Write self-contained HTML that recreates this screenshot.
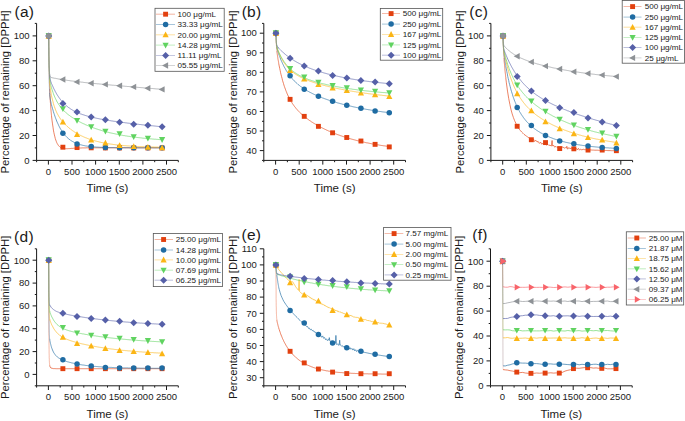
<!DOCTYPE html>
<html><head><meta charset="utf-8"><style>
html,body{margin:0;padding:0;background:#fff;}
body{width:685px;height:421px;overflow:hidden;}
svg{display:block;}
text{font-family:"Liberation Sans", sans-serif;fill:#1a1a1a;}
.tk{font-size:9.5px;}
.ti{font-size:11.5px;}
.lg{font-size:8.1px;}
.pl{font-size:15.5px;letter-spacing:0.25px;}
</style></head><body>
<svg width="685" height="421" viewBox="0 0 685 421">
<rect width="685" height="421" fill="#fff"/>
<path d="M36.6 23.4V160.4H178.3" fill="none" stroke="#1a1a1a" stroke-width="1"/>
<text x="29.60" y="163.70" text-anchor="end" class="tk">0</text>
<text x="29.60" y="138.79" text-anchor="end" class="tk">20</text>
<text x="29.60" y="113.88" text-anchor="end" class="tk">40</text>
<text x="29.60" y="88.97" text-anchor="end" class="tk">60</text>
<text x="29.60" y="64.06" text-anchor="end" class="tk">80</text>
<text x="29.60" y="39.15" text-anchor="end" class="tk">100</text>
<text x="48.41" y="174.80" text-anchor="middle" class="tk">0</text>
<text x="72.03" y="174.80" text-anchor="middle" class="tk">500</text>
<text x="95.64" y="174.80" text-anchor="middle" class="tk">1000</text>
<text x="119.26" y="174.80" text-anchor="middle" class="tk">1500</text>
<text x="142.88" y="174.80" text-anchor="middle" class="tk">2000</text>
<text x="166.49" y="174.80" text-anchor="middle" class="tk">2500</text>
<path d="M32.6 160.4H36.6 M34.8 147.9H36.6 M32.6 135.5H36.6 M34.8 123H36.6 M32.6 110.6H36.6 M34.8 98.1H36.6 M32.6 85.7H36.6 M34.8 73.2H36.6 M32.6 60.8H36.6 M34.8 48.3H36.6 M32.6 35.9H36.6 M34.8 23.4H36.6 M36.6 160.4V162.2 M48.4 160.4V164.6 M60.2 160.4V162.2 M72 160.4V164.6 M83.8 160.4V162.2 M95.6 160.4V164.6 M107.5 160.4V162.2 M119.3 160.4V164.6 M131.1 160.4V162.2 M142.9 160.4V164.6 M154.7 160.4V162.2 M166.5 160.4V164.6 M178.3 160.4V162.2" fill="none" stroke="#1a1a1a" stroke-width="1"/>
<text x="107.45" y="192.30" text-anchor="middle" class="ti">Time (s)</text>
<text transform="translate(9.30,91.90) rotate(-90)" text-anchor="middle" class="ti" style="font-size:11.25px">Percentage of remaining [DPPH]</text>
<text x="14.50" y="16.60" class="pl">(a)</text>
<path d="M48.7 35.9 L48.8 41.5 L48.8 46.5 L48.9 51.1 L48.9 55.2 L48.9 59 L49 62.4 L49 65.4 L49.1 68.2 L49.1 70.8 L49.2 73.2 L49.2 75.4 L49.3 77.4 L49.3 79.2 L49.4 81 L49.4 82.6 L49.5 84.1 L49.5 85.5 L49.6 86.8 L49.6 88 L49.6 89.2" fill="none" stroke="#E2400F" stroke-width="0.65" stroke-linejoin="round" opacity="0.55"/>
<path d="M49.6 89.2 L49.7 90.3 L49.8 91.4 L49.8 92.4 L49.8 93.4 L49.9 94.3 L49.9 95.2 L50 96.1 L50 96.9 L50.1 97.8 L50.1 98.5 L50.2 99.3 L50.2 100 L50.3 100.8 L50.3 101.5 L50.4 102.2 L50.4 102.8 L50.5 103.5 L50.5 104.1 L50.5 104.8 L50.6 105.4 L50.6 106 L50.7 106.6 L50.7 107.2 L50.8 107.8 L50.8 108.3 L50.9 108.9 L50.9 109.4 L51 110 L51 110.5 L51.1 111 L51.1 111.5 L51.2 112.1 L51.2 112.6 L51.3 113.1 L51.3 113.6 L51.4 114 L51.4 114.5 L51.5 115 L51.5 115.5 L51.5 115.9 L52 120.2 L52.5 123.9 L53 127.2 L53.4 130.1 L53.9 132.7 L54.4 134.9 L54.9 136.9 L55.3 138.6 L55.8 140.1 L56.3 141.4 L56.7 142.5 L57.2 143.5 L57.7 144.3 L58.2 145.1 L58.6 145.7 L59.1 146.2 L59.6 146.7 L60 147.1 L60.5 147.4 L61 147.7 L61.5 147.9 L61.9 148.1 L62.4 148.2 L62.9 148.4 L63.4 148.5 L63.8 148.6 L64.3 148.6 L64.8 148.7 L65.2 148.7 L65.7 148.7 L66.2 148.7 L66.7 148.7 L67.1 148.7 L67.6 148.7 L68.1 148.7 L68.5 148.6 L69 148.6 L69.5 148.6 L70 148.5 L70.4 148.5 L70.9 148.5 L71.4 148.4 L71.8 148.4 L72.3 148.4 L72.8 148.4 L73.3 148.3 L73.7 148.3 L74.2 148.3 L74.7 148.2 L75.2 148.2 L75.6 148.2 L76.1 148.2 L76.6 148.1 L77 148.1 L77.5 148.1 L78 148.1 L78.5 148.1 L78.9 148 L79.4 148 L79.9 148 L80.3 148 L80.8 148 L81.3 148 L81.8 147.9 L82.2 147.9 L82.7 147.9 L83.2 147.9 L83.7 147.9 L84.1 147.9 L84.6 147.9 L85.1 147.9 L85.5 147.9 L86 147.9 L86.5 147.8 L87 147.8 L87.4 147.8 L87.9 147.8 L88.4 147.8 L88.9 147.8 L89.3 147.8 L89.8 147.8 L90.3 147.8 L90.8 147.8 L91.2 147.8 L91.7 147.8 L92.2 147.8 L92.6 147.8 L93.1 147.8 L93.6 147.8 L94 147.8 L94.5 147.8 L95 147.8 L95.5 147.8 L95.9 147.8 L96.4 147.8 L96.9 147.8 L97.4 147.8 L97.8 147.8 L98.3 147.8 L98.8 147.8 L99.2 147.8 L99.7 147.8 L100.2 147.8 L100.7 147.8 L101.1 147.8 L101.6 147.8 L102.1 147.8 L102.5 147.8 L103 147.8 L103.5 147.8 L104 147.8 L104.4 147.8 L104.9 147.8 L105.4 147.8 L105.9 147.8 L106.3 147.8 L106.8 147.8 L107.3 147.8 L107.8 147.8 L108.2 147.8 L108.7 147.8 L109.2 147.8 L109.6 147.8 L110.1 147.8 L110.6 147.8 L111.1 147.8 L111.5 147.8 L112 147.8 L112.5 147.8 L113 147.8 L113.4 147.8 L113.9 147.8 L114.4 147.8 L114.8 147.8 L115.3 147.8 L115.8 147.8 L116.2 147.8 L116.7 147.8 L117.2 147.8 L117.7 147.8 L118.1 147.8 L118.6 147.8 L119.1 147.8 L119.6 147.8 L120 147.8 L120.5 147.8 L121 147.8 L121.5 147.8 L121.9 147.8 L122.4 147.8 L122.9 147.8 L123.3 147.8 L123.8 147.8 L124.3 147.8 L124.8 147.8 L125.2 147.8 L125.7 147.8 L126.2 147.8 L126.6 147.8 L127.1 147.8 L127.6 147.8 L128.1 147.8 L128.5 147.8 L129 147.8 L129.5 147.8 L129.9 147.8 L130.4 147.8 L130.9 147.8 L131.4 147.8 L131.8 147.8 L132.3 147.8 L132.8 147.8 L133.3 147.8 L133.7 147.8 L134.2 147.8 L134.7 147.8 L135.2 147.8 L135.6 147.8 L136.1 147.8 L136.6 147.8 L137 147.8 L137.5 147.8 L138 147.8 L138.4 147.8 L138.9 147.8 L139.4 147.8 L139.9 147.8 L140.3 147.8 L140.8 147.8 L141.3 147.8 L141.8 147.8 L142.2 147.8 L142.7 147.8 L143.2 147.8 L143.7 147.8 L144.1 147.8 L144.6 147.8 L145.1 147.8 L145.5 147.8 L146 147.8 L146.5 147.8 L146.9 147.8 L147.4 147.8 L147.9 147.8 L148.4 147.8 L148.8 147.8 L149.3 147.8 L149.8 147.8 L150.3 147.8 L150.7 147.8 L151.2 147.8 L151.7 147.8 L152.2 147.8 L152.6 147.8 L153.1 147.8 L153.6 147.8 L154 147.8 L154.5 147.8 L155 147.8 L155.5 147.8 L155.9 147.8 L156.4 147.8 L156.9 147.8 L157.3 147.8 L157.8 147.8 L158.3 147.8 L158.8 147.8 L159.2 147.8 L159.7 147.8 L160.2 147.8 L160.7 147.8 L161.1 147.8 L161.6 147.8 L162.1 147.8" fill="none" stroke="#E2400F" stroke-width="0.65" stroke-linejoin="round"/>
<path d="M48.7 35.9 L48.8 43.8 L48.8 50.6 L48.9 56.5 L48.9 61.6 L48.9 66 L49 69.8 L49 73.2 L49.1 76.1 L49.1 78.7 L49.2 80.9 L49.2 82.9 L49.3 84.6 L49.3 86.2 L49.4 87.6 L49.4 88.8 L49.5 89.9 L49.5 90.8 L49.6 91.7 L49.6 92.5 L49.6 93.2" fill="none" stroke="#1F6CA3" stroke-width="0.65" stroke-linejoin="round" opacity="0.55"/>
<path d="M49.6 93.2 L49.7 93.9 L49.8 94.5 L49.8 95.1 L49.8 95.6 L49.9 96 L49.9 96.5 L50 96.9 L50 97.3 L50.1 97.7 L50.1 98 L50.2 98.3 L50.2 98.6 L50.3 98.9 L50.3 99.2 L50.4 99.5 L50.4 99.8 L50.5 100 L50.5 100.3 L50.5 100.5 L50.6 100.8 L50.6 101 L50.7 101.2 L50.7 101.5 L50.8 101.7 L50.8 101.9 L50.9 102.1 L50.9 102.3 L51 102.5 L51 102.7 L51.1 102.9 L51.1 103.1 L51.2 103.3 L51.2 103.5 L51.3 103.7 L51.3 103.9 L51.4 104.1 L51.4 104.3 L51.5 104.5 L51.5 104.7 L51.5 104.9 L52 106.7 L52.5 108.5 L53 110.1 L53.4 111.7 L53.9 113.2 L54.4 114.7 L54.9 116.1 L55.3 117.4 L55.8 118.7 L56.3 119.9 L56.7 121.1 L57.2 122.2 L57.7 123.3 L58.2 124.3 L58.6 125.3 L59.1 126.3 L59.6 127.2 L60 128.1 L60.5 128.9 L61 129.7 L61.5 130.5 L61.9 131.2 L62.4 131.9 L62.9 132.6 L63.4 133.2 L63.8 133.8 L64.3 134.4 L64.8 135 L65.2 135.5 L65.7 136 L66.2 136.5 L66.7 137 L67.1 137.5 L67.6 137.9 L68.1 138.3 L68.5 138.7 L69 139.1 L69.5 139.5 L70 139.8 L70.4 140.2 L70.9 140.5 L71.4 140.8 L71.8 141.1 L72.3 141.4 L72.8 141.6 L73.3 141.9 L73.7 142.1 L74.2 142.4 L74.7 142.6 L75.2 142.8 L75.6 143 L76.1 143.2 L76.6 143.4 L77 143.6 L77.5 143.8 L78 144 L78.5 144.1 L78.9 144.3 L79.4 144.4 L79.9 144.6 L80.3 144.7 L80.8 144.8 L81.3 144.9 L81.8 145.1 L82.2 145.2 L82.7 145.3 L83.2 145.4 L83.7 145.5 L84.1 145.6 L84.6 145.7 L85.1 145.8 L85.5 145.9 L86 145.9 L86.5 146 L87 146.1 L87.4 146.2 L87.9 146.2 L88.4 146.3 L88.9 146.4 L89.3 146.4 L89.8 146.5 L90.3 146.5 L90.8 146.6 L91.2 146.6 L91.7 146.7 L92.2 146.7 L92.6 146.8 L93.1 146.8 L93.6 146.9 L94 146.9 L94.5 146.9 L95 147 L95.5 147 L95.9 147 L96.4 147.1 L96.9 147.1 L97.4 147.1 L97.8 147.2 L98.3 147.2 L98.8 147.2 L99.2 147.2 L99.7 147.3 L100.2 147.3 L100.7 147.3 L101.1 147.3 L101.6 147.3 L102.1 147.4 L102.5 147.4 L103 147.4 L103.5 147.4 L104 147.4 L104.4 147.4 L104.9 147.4 L105.4 147.5 L105.9 147.5 L106.3 147.5 L106.8 147.5 L107.3 147.5 L107.8 147.5 L108.2 147.5 L108.7 147.6 L109.2 147.6 L109.6 147.6 L110.1 147.6 L110.6 147.6 L111.1 147.6 L111.5 147.6 L112 147.6 L112.5 147.6 L113 147.6 L113.4 147.6 L113.9 147.6 L114.4 147.6 L114.8 147.7 L115.3 147.7 L115.8 147.7 L116.2 147.7 L116.7 147.7 L117.2 147.7 L117.7 147.7 L118.1 147.7 L118.6 147.7 L119.1 147.7 L119.6 147.7 L120 147.7 L120.5 147.7 L121 147.7 L121.5 147.7 L121.9 147.7 L122.4 147.7 L122.9 147.7 L123.3 147.7 L123.8 147.7 L124.3 147.7 L124.8 147.7 L125.2 147.7 L125.7 147.7 L126.2 147.7 L126.6 147.7 L127.1 147.7 L127.6 147.7 L128.1 147.7 L128.5 147.7 L129 147.7 L129.5 147.8 L129.9 147.8 L130.4 147.8 L130.9 147.8 L131.4 147.8 L131.8 147.8 L132.3 147.8 L132.8 147.8 L133.3 147.8 L133.7 147.8 L134.2 147.8 L134.7 147.8 L135.2 147.8 L135.6 147.8 L136.1 147.8 L136.6 147.8 L137 147.8 L137.5 147.8 L138 147.8 L138.4 147.8 L138.9 147.8 L139.4 147.8 L139.9 147.8 L140.3 147.8 L140.8 147.8 L141.3 147.8 L141.8 147.8 L142.2 147.8 L142.7 147.8 L143.2 147.8 L143.7 147.8 L144.1 147.8 L144.6 147.8 L145.1 147.8 L145.5 147.8 L146 147.8 L146.5 147.8 L146.9 147.8 L147.4 147.8 L147.9 147.8 L148.4 147.8 L148.8 147.8 L149.3 147.8 L149.8 147.8 L150.3 147.8 L150.7 147.8 L151.2 147.8 L151.7 147.8 L152.2 147.8 L152.6 147.8 L153.1 147.8 L153.6 147.8 L154 147.8 L154.5 147.8 L155 147.8 L155.5 147.8 L155.9 147.8 L156.4 147.8 L156.9 147.8 L157.3 147.8 L157.8 147.8 L158.3 147.8 L158.8 147.8 L159.2 147.8 L159.7 147.8 L160.2 147.8 L160.7 147.8 L161.1 147.8 L161.6 147.8 L162.1 147.8" fill="none" stroke="#1F6CA3" stroke-width="0.65" stroke-linejoin="round"/>
<path d="M48.7 35.9 L48.8 41 L48.8 45.6 L48.9 49.6 L48.9 53.3 L48.9 56.6 L49 59.5 L49 62.1 L49.1 64.5 L49.1 66.6 L49.2 68.6 L49.2 70.3 L49.3 71.9 L49.3 73.3 L49.4 74.6 L49.4 75.8 L49.5 76.9 L49.5 77.9 L49.6 78.9 L49.6 79.7 L49.6 80.5" fill="none" stroke="#FBB515" stroke-width="0.65" stroke-linejoin="round" opacity="0.55"/>
<path d="M49.6 80.5 L49.7 81.3 L49.8 82 L49.8 82.6 L49.8 83.2 L49.9 83.8 L49.9 84.3 L50 84.9 L50 85.4 L50.1 85.8 L50.1 86.3 L50.2 86.7 L50.2 87.1 L50.3 87.5 L50.3 87.9 L50.4 88.3 L50.4 88.7 L50.5 89 L50.5 89.4 L50.5 89.7 L50.6 90 L50.6 90.3 L50.7 90.7 L50.7 91 L50.8 91.3 L50.8 91.6 L50.9 91.9 L50.9 92.2 L51 92.5 L51 92.7 L51.1 93 L51.1 93.3 L51.2 93.5 L51.2 93.8 L51.3 94.1 L51.3 94.3 L51.4 94.6 L51.4 94.8 L51.5 95.1 L51.5 95.3 L51.5 95.6 L52 97.9 L52.5 99.9 L53 101.8 L53.4 103.6 L53.9 105.2 L54.4 106.6 L54.9 108 L55.3 109.2 L55.8 110.4 L56.3 111.5 L56.7 112.5 L57.2 113.5 L57.7 114.4 L58.2 115.2 L58.6 116 L59.1 116.8 L59.6 117.5 L60 118.2 L60.5 118.9 L61 119.6 L61.5 120.2 L61.9 120.8 L62.4 121.4 L62.9 121.9 L63.4 122.5 L63.8 123 L64.3 123.5 L64.8 124 L65.2 124.5 L65.7 125 L66.2 125.4 L66.7 125.9 L67.1 126.3 L67.6 126.7 L68.1 127.1 L68.5 127.5 L69 127.9 L69.5 128.3 L70 128.7 L70.4 129.1 L70.9 129.4 L71.4 129.8 L71.8 130.1 L72.3 130.5 L72.8 130.8 L73.3 131.1 L73.7 131.4 L74.2 131.8 L74.7 132.1 L75.2 132.4 L75.6 132.7 L76.1 132.9 L76.6 133.2 L77 133.5 L77.5 133.8 L78 134 L78.5 134.3 L78.9 134.6 L79.4 134.8 L79.9 135.1 L80.3 135.3 L80.8 135.5 L81.3 135.8 L81.8 136 L82.2 136.2 L82.7 136.4 L83.2 136.7 L83.7 136.9 L84.1 137.1 L84.6 137.3 L85.1 137.5 L85.5 137.7 L86 137.9 L86.5 138 L87 138.2 L87.4 138.4 L87.9 138.6 L88.4 138.8 L88.9 138.9 L89.3 139.1 L89.8 139.3 L90.3 139.4 L90.8 139.6 L91.2 139.7 L91.7 139.9 L92.2 140 L92.6 140.2 L93.1 140.3 L93.6 140.5 L94 140.6 L94.5 140.7 L95 140.9 L95.5 141 L95.9 141.1 L96.4 141.2 L96.9 141.4 L97.4 141.5 L97.8 141.6 L98.3 141.7 L98.8 141.8 L99.2 141.9 L99.7 142.1 L100.2 142.2 L100.7 142.3 L101.1 142.4 L101.6 142.5 L102.1 142.6 L102.5 142.7 L103 142.8 L103.5 142.9 L104 143 L104.4 143.1 L104.9 143.1 L105.4 143.2 L105.9 143.3 L106.3 143.4 L106.8 143.5 L107.3 143.6 L107.8 143.6 L108.2 143.7 L108.7 143.8 L109.2 143.9 L109.6 143.9 L110.1 144 L110.6 144.1 L111.1 144.1 L111.5 144.2 L112 144.3 L112.5 144.3 L113 144.4 L113.4 144.5 L113.9 144.5 L114.4 144.6 L114.8 144.6 L115.3 144.7 L115.8 144.8 L116.2 144.8 L116.7 144.9 L117.2 144.9 L117.7 145 L118.1 145 L118.6 145.1 L119.1 145.1 L119.6 145.2 L120 145.2 L120.5 145.3 L121 145.3 L121.5 145.4 L121.9 145.4 L122.4 145.4 L122.9 145.5 L123.3 145.5 L123.8 145.6 L124.3 145.6 L124.8 145.7 L125.2 145.7 L125.7 145.7 L126.2 145.8 L126.6 145.8 L127.1 145.8 L127.6 145.9 L128.1 145.9 L128.5 145.9 L129 146 L129.5 146 L129.9 146 L130.4 146.1 L130.9 146.1 L131.4 146.1 L131.8 146.2 L132.3 146.2 L132.8 146.2 L133.3 146.2 L133.7 146.3 L134.2 146.3 L134.7 146.3 L135.2 146.3 L135.6 146.4 L136.1 146.4 L136.6 146.4 L137 146.4 L137.5 146.5 L138 146.5 L138.4 146.5 L138.9 146.5 L139.4 146.6 L139.9 146.6 L140.3 146.6 L140.8 146.6 L141.3 146.6 L141.8 146.7 L142.2 146.7 L142.7 146.7 L143.2 146.7 L143.7 146.7 L144.1 146.8 L144.6 146.8 L145.1 146.8 L145.5 146.8 L146 146.8 L146.5 146.8 L146.9 146.8 L147.4 146.9 L147.9 146.9 L148.4 146.9 L148.8 146.9 L149.3 146.9 L149.8 146.9 L150.3 146.9 L150.7 147 L151.2 147 L151.7 147 L152.2 147 L152.6 147 L153.1 147 L153.6 147 L154 147.1 L154.5 147.1 L155 147.1 L155.5 147.1 L155.9 147.1 L156.4 147.1 L156.9 147.1 L157.3 147.1 L157.8 147.1 L158.3 147.2 L158.8 147.2 L159.2 147.2 L159.7 147.2 L160.2 147.2 L160.7 147.2 L161.1 147.2 L161.6 147.2 L162.1 147.2" fill="none" stroke="#FBB515" stroke-width="0.65" stroke-linejoin="round"/>
<path d="M48.7 35.9 L48.8 40.8 L48.8 45.2 L48.9 49.1 L48.9 52.5 L48.9 55.6 L49 58.4 L49 60.8 L49.1 63 L49.1 64.9 L49.2 66.7 L49.2 68.3 L49.3 69.7 L49.3 71 L49.4 72.1 L49.4 73.2 L49.5 74.1 L49.5 74.9 L49.6 75.7 L49.6 76.4 L49.6 77.1" fill="none" stroke="#60D360" stroke-width="0.65" stroke-linejoin="round" opacity="0.55"/>
<path d="M49.6 77.1 L49.7 77.7 L49.8 78.2 L49.8 78.8 L49.8 79.2 L49.9 79.7 L49.9 80.1 L50 80.5 L50 80.8 L50.1 81.2 L50.1 81.5 L50.2 81.8 L50.2 82.1 L50.3 82.4 L50.3 82.7 L50.4 82.9 L50.4 83.2 L50.5 83.4 L50.5 83.7 L50.5 83.9 L50.6 84.1 L50.6 84.3 L50.7 84.6 L50.7 84.8 L50.8 85 L50.8 85.2 L50.9 85.4 L50.9 85.6 L51 85.8 L51 86 L51.1 86.1 L51.1 86.3 L51.2 86.5 L51.2 86.7 L51.3 86.9 L51.3 87 L51.4 87.2 L51.4 87.4 L51.5 87.6 L51.5 87.7 L51.5 87.9 L52 89.5 L52.5 91 L53 92.4 L53.4 93.7 L53.9 95 L54.4 96.2 L54.9 97.3 L55.3 98.3 L55.8 99.3 L56.3 100.2 L56.7 101.1 L57.2 102 L57.7 102.8 L58.2 103.5 L58.6 104.3 L59.1 105 L59.6 105.7 L60 106.3 L60.5 106.9 L61 107.5 L61.5 108.1 L61.9 108.6 L62.4 109.2 L62.9 109.7 L63.4 110.2 L63.8 110.7 L64.3 111.1 L64.8 111.6 L65.2 112 L65.7 112.5 L66.2 112.9 L66.7 113.3 L67.1 113.7 L67.6 114.1 L68.1 114.5 L68.5 114.8 L69 115.2 L69.5 115.5 L70 115.9 L70.4 116.2 L70.9 116.6 L71.4 116.9 L71.8 117.2 L72.3 117.5 L72.8 117.8 L73.3 118.1 L73.7 118.4 L74.2 118.7 L74.7 119 L75.2 119.3 L75.6 119.6 L76.1 119.9 L76.6 120.1 L77 120.4 L77.5 120.7 L78 120.9 L78.5 121.2 L78.9 121.5 L79.4 121.7 L79.9 122 L80.3 122.2 L80.8 122.4 L81.3 122.7 L81.8 122.9 L82.2 123.1 L82.7 123.4 L83.2 123.6 L83.7 123.8 L84.1 124 L84.6 124.2 L85.1 124.5 L85.5 124.7 L86 124.9 L86.5 125.1 L87 125.3 L87.4 125.5 L87.9 125.7 L88.4 125.9 L88.9 126.1 L89.3 126.3 L89.8 126.5 L90.3 126.7 L90.8 126.8 L91.2 127 L91.7 127.2 L92.2 127.4 L92.6 127.5 L93.1 127.7 L93.6 127.9 L94 128.1 L94.5 128.2 L95 128.4 L95.5 128.6 L95.9 128.7 L96.4 128.9 L96.9 129 L97.4 129.2 L97.8 129.3 L98.3 129.5 L98.8 129.7 L99.2 129.8 L99.7 129.9 L100.2 130.1 L100.7 130.2 L101.1 130.4 L101.6 130.5 L102.1 130.7 L102.5 130.8 L103 130.9 L103.5 131.1 L104 131.2 L104.4 131.3 L104.9 131.4 L105.4 131.6 L105.9 131.7 L106.3 131.8 L106.8 132 L107.3 132.1 L107.8 132.2 L108.2 132.3 L108.7 132.4 L109.2 132.6 L109.6 132.7 L110.1 132.8 L110.6 132.9 L111.1 133 L111.5 133.1 L112 133.2 L112.5 133.3 L113 133.4 L113.4 133.5 L113.9 133.6 L114.4 133.7 L114.8 133.8 L115.3 133.9 L115.8 134 L116.2 134.1 L116.7 134.2 L117.2 134.3 L117.7 134.4 L118.1 134.5 L118.6 134.6 L119.1 134.7 L119.6 134.8 L120 134.9 L120.5 135 L121 135.1 L121.5 135.1 L121.9 135.2 L122.4 135.3 L122.9 135.4 L123.3 135.5 L123.8 135.6 L124.3 135.6 L124.8 135.7 L125.2 135.8 L125.7 135.9 L126.2 135.9 L126.6 136 L127.1 136.1 L127.6 136.2 L128.1 136.2 L128.5 136.3 L129 136.4 L129.5 136.4 L129.9 136.5 L130.4 136.6 L130.9 136.7 L131.4 136.7 L131.8 136.8 L132.3 136.8 L132.8 136.9 L133.3 137 L133.7 137 L134.2 137.1 L134.7 137.2 L135.2 137.2 L135.6 137.3 L136.1 137.3 L136.6 137.4 L137 137.4 L137.5 137.5 L138 137.6 L138.4 137.6 L138.9 137.7 L139.4 137.7 L139.9 137.8 L140.3 137.8 L140.8 137.9 L141.3 137.9 L141.8 138 L142.2 138.1 L142.7 138.1 L143.2 138.2 L143.7 138.2 L144.1 138.2 L144.6 138.3 L145.1 138.3 L145.5 138.4 L146 138.4 L146.5 138.5 L146.9 138.5 L147.4 138.6 L147.9 138.6 L148.4 138.7 L148.8 138.7 L149.3 138.7 L149.8 138.8 L150.3 138.8 L150.7 138.9 L151.2 138.9 L151.7 138.9 L152.2 139 L152.6 139 L153.1 139.1 L153.6 139.1 L154 139.1 L154.5 139.2 L155 139.2 L155.5 139.2 L155.9 139.3 L156.4 139.3 L156.9 139.4 L157.3 139.4 L157.8 139.4 L158.3 139.5 L158.8 139.5 L159.2 139.5 L159.7 139.6 L160.2 139.6 L160.7 139.6 L161.1 139.7 L161.6 139.7 L162.1 139.7" fill="none" stroke="#60D360" stroke-width="0.65" stroke-linejoin="round"/>
<path d="M48.7 35.9 L48.8 40.7 L48.8 45 L48.9 48.8 L48.9 52.1 L48.9 55.1 L49 57.7 L49 60.1 L49.1 62.2 L49.1 64 L49.2 65.7 L49.2 67.2 L49.3 68.5 L49.3 69.7 L49.4 70.8 L49.4 71.7 L49.5 72.6 L49.5 73.3 L49.6 74 L49.6 74.7 L49.6 75.2" fill="none" stroke="#5660A8" stroke-width="0.65" stroke-linejoin="round" opacity="0.55"/>
<path d="M49.6 75.2 L49.7 75.7 L49.8 76.2 L49.8 76.6 L49.8 77 L49.9 77.4 L49.9 77.7 L50 78 L50 78.3 L50.1 78.6 L50.1 78.9 L50.2 79.1 L50.2 79.3 L50.3 79.5 L50.3 79.8 L50.4 80 L50.4 80.1 L50.5 80.3 L50.5 80.5 L50.5 80.7 L50.6 80.8 L50.6 81 L50.7 81.1 L50.7 81.3 L50.8 81.4 L50.8 81.5 L50.9 81.7 L50.9 81.8 L51 82 L51 82.1 L51.1 82.2 L51.1 82.3 L51.2 82.5 L51.2 82.6 L51.3 82.7 L51.3 82.9 L51.4 83 L51.4 83.1 L51.5 83.2 L51.5 83.3 L51.5 83.5 L52 84.6 L52.5 85.7 L53 86.8 L53.4 87.8 L53.9 88.8 L54.4 89.8 L54.9 90.7 L55.3 91.6 L55.8 92.4 L56.3 93.3 L56.7 94.1 L57.2 94.8 L57.7 95.6 L58.2 96.3 L58.6 97 L59.1 97.7 L59.6 98.3 L60 99 L60.5 99.6 L61 100.2 L61.5 100.8 L61.9 101.3 L62.4 101.8 L62.9 102.4 L63.4 102.9 L63.8 103.3 L64.3 103.8 L64.8 104.3 L65.2 104.7 L65.7 105.2 L66.2 105.6 L66.7 106 L67.1 106.4 L67.6 106.7 L68.1 107.1 L68.5 107.5 L69 107.8 L69.5 108.1 L70 108.5 L70.4 108.8 L70.9 109.1 L71.4 109.4 L71.8 109.7 L72.3 110 L72.8 110.2 L73.3 110.5 L73.7 110.8 L74.2 111 L74.7 111.3 L75.2 111.5 L75.6 111.7 L76.1 112 L76.6 112.2 L77 112.4 L77.5 112.6 L78 112.8 L78.5 113 L78.9 113.2 L79.4 113.4 L79.9 113.6 L80.3 113.8 L80.8 114 L81.3 114.1 L81.8 114.3 L82.2 114.5 L82.7 114.6 L83.2 114.8 L83.7 114.9 L84.1 115.1 L84.6 115.2 L85.1 115.4 L85.5 115.5 L86 115.7 L86.5 115.8 L87 115.9 L87.4 116.1 L87.9 116.2 L88.4 116.3 L88.9 116.5 L89.3 116.6 L89.8 116.7 L90.3 116.8 L90.8 117 L91.2 117.1 L91.7 117.2 L92.2 117.3 L92.6 117.4 L93.1 117.5 L93.6 117.6 L94 117.7 L94.5 117.8 L95 117.9 L95.5 118 L95.9 118.1 L96.4 118.2 L96.9 118.3 L97.4 118.4 L97.8 118.5 L98.3 118.6 L98.8 118.7 L99.2 118.8 L99.7 118.9 L100.2 119 L100.7 119.1 L101.1 119.2 L101.6 119.2 L102.1 119.3 L102.5 119.4 L103 119.5 L103.5 119.6 L104 119.7 L104.4 119.7 L104.9 119.8 L105.4 119.9 L105.9 120 L106.3 120 L106.8 120.1 L107.3 120.2 L107.8 120.3 L108.2 120.4 L108.7 120.4 L109.2 120.5 L109.6 120.6 L110.1 120.7 L110.6 120.7 L111.1 120.8 L111.5 120.9 L112 120.9 L112.5 121 L113 121.1 L113.4 121.2 L113.9 121.2 L114.4 121.3 L114.8 121.4 L115.3 121.4 L115.8 121.5 L116.2 121.6 L116.7 121.6 L117.2 121.7 L117.7 121.8 L118.1 121.8 L118.6 121.9 L119.1 122 L119.6 122 L120 122.1 L120.5 122.2 L121 122.2 L121.5 122.3 L121.9 122.3 L122.4 122.4 L122.9 122.5 L123.3 122.5 L123.8 122.6 L124.3 122.6 L124.8 122.7 L125.2 122.8 L125.7 122.8 L126.2 122.9 L126.6 122.9 L127.1 123 L127.6 123.1 L128.1 123.1 L128.5 123.2 L129 123.2 L129.5 123.3 L129.9 123.3 L130.4 123.4 L130.9 123.5 L131.4 123.5 L131.8 123.6 L132.3 123.6 L132.8 123.7 L133.3 123.8 L133.7 123.8 L134.2 123.9 L134.7 123.9 L135.2 124 L135.6 124 L136.1 124.1 L136.6 124.1 L137 124.2 L137.5 124.2 L138 124.3 L138.4 124.3 L138.9 124.4 L139.4 124.5 L139.9 124.5 L140.3 124.5 L140.8 124.6 L141.3 124.7 L141.8 124.7 L142.2 124.8 L142.7 124.8 L143.2 124.9 L143.7 124.9 L144.1 125 L144.6 125 L145.1 125.1 L145.5 125.1 L146 125.2 L146.5 125.2 L146.9 125.3 L147.4 125.3 L147.9 125.4 L148.4 125.4 L148.8 125.5 L149.3 125.5 L149.8 125.6 L150.3 125.6 L150.7 125.7 L151.2 125.7 L151.7 125.8 L152.2 125.8 L152.6 125.8 L153.1 125.9 L153.6 125.9 L154 126 L154.5 126 L155 126.1 L155.5 126.1 L155.9 126.2 L156.4 126.2 L156.9 126.3 L157.3 126.3 L157.8 126.4 L158.3 126.4 L158.8 126.5 L159.2 126.5 L159.7 126.5 L160.2 126.6 L160.7 126.6 L161.1 126.7 L161.6 126.7 L162.1 126.8" fill="none" stroke="#5660A8" stroke-width="0.65" stroke-linejoin="round"/>
<path d="M48.7 35.9 L48.8 40.7 L48.8 45 L48.9 48.7 L48.9 52.1 L48.9 55 L49 57.6 L49 59.9 L49.1 61.9 L49.1 63.7 L49.2 65.3 L49.2 66.7 L49.3 67.9 L49.3 69 L49.4 70 L49.4 70.8 L49.5 71.6 L49.5 72.2 L49.6 72.8 L49.6 73.3 L49.6 73.8" fill="none" stroke="#8E9296" stroke-width="0.65" stroke-linejoin="round" opacity="0.55"/>
<path d="M49.6 73.8 L49.7 74.2 L49.8 74.6 L49.8 74.9 L49.8 75.2 L49.9 75.4 L49.9 75.6 L50 75.8 L50 76 L50.1 76.2 L50.1 76.3 L50.2 76.4 L50.2 76.5 L50.3 76.7 L50.3 76.7 L50.4 76.8 L50.4 76.9 L50.5 77 L50.5 77 L50.5 77.1 L50.6 77.1 L50.6 77.2 L50.7 77.2 L50.7 77.2 L50.8 77.3 L50.8 77.3 L50.9 77.3 L50.9 77.3 L51 77.4 L51 77.4 L51.1 77.4 L51.1 77.4 L51.2 77.5 L51.2 77.5 L51.3 77.5 L51.3 77.5 L51.4 77.5 L51.4 77.5 L51.5 77.5 L51.5 77.5 L51.5 77.6 L52 77.7 L52.5 77.8 L53 77.9 L53.4 78 L53.9 78.1 L54.4 78.2 L54.9 78.3 L55.3 78.3 L55.8 78.4 L56.3 78.5 L56.7 78.6 L57.2 78.7 L57.7 78.8 L58.2 78.9 L58.6 79 L59.1 79 L59.6 79.1 L60 79.2 L60.5 79.3 L61 79.4 L61.5 79.4 L61.9 79.5 L62.4 79.6 L62.9 79.7 L63.4 79.7 L63.8 79.8 L64.3 79.9 L64.8 80 L65.2 80 L65.7 80.1 L66.2 80.2 L66.7 80.2 L67.1 80.3 L67.6 80.4 L68.1 80.4 L68.5 80.5 L69 80.6 L69.5 80.6 L70 80.7 L70.4 80.8 L70.9 80.8 L71.4 80.9 L71.8 81 L72.3 81 L72.8 81.1 L73.3 81.1 L73.7 81.2 L74.2 81.2 L74.7 81.3 L75.2 81.4 L75.6 81.4 L76.1 81.5 L76.6 81.5 L77 81.6 L77.5 81.7 L78 81.7 L78.5 81.8 L78.9 81.8 L79.4 81.9 L79.9 81.9 L80.3 82 L80.8 82 L81.3 82.1 L81.8 82.2 L82.2 82.2 L82.7 82.2 L83.2 82.3 L83.7 82.4 L84.1 82.4 L84.6 82.5 L85.1 82.5 L85.5 82.6 L86 82.6 L86.5 82.7 L87 82.7 L87.4 82.8 L87.9 82.8 L88.4 82.9 L88.9 82.9 L89.3 83 L89.8 83 L90.3 83 L90.8 83.1 L91.2 83.2 L91.7 83.2 L92.2 83.2 L92.6 83.3 L93.1 83.3 L93.6 83.4 L94 83.4 L94.5 83.5 L95 83.5 L95.5 83.6 L95.9 83.6 L96.4 83.7 L96.9 83.7 L97.4 83.8 L97.8 83.8 L98.3 83.8 L98.8 83.9 L99.2 83.9 L99.7 84 L100.2 84 L100.7 84.1 L101.1 84.1 L101.6 84.2 L102.1 84.2 L102.5 84.2 L103 84.3 L103.5 84.3 L104 84.4 L104.4 84.4 L104.9 84.5 L105.4 84.5 L105.9 84.5 L106.3 84.6 L106.8 84.6 L107.3 84.7 L107.8 84.7 L108.2 84.8 L108.7 84.8 L109.2 84.8 L109.6 84.9 L110.1 84.9 L110.6 85 L111.1 85 L111.5 85.1 L112 85.1 L112.5 85.2 L113 85.2 L113.4 85.2 L113.9 85.3 L114.4 85.3 L114.8 85.4 L115.3 85.4 L115.8 85.4 L116.2 85.5 L116.7 85.5 L117.2 85.6 L117.7 85.6 L118.1 85.7 L118.6 85.7 L119.1 85.7 L119.6 85.8 L120 85.8 L120.5 85.9 L121 85.9 L121.5 85.9 L121.9 86 L122.4 86 L122.9 86.1 L123.3 86.1 L123.8 86.1 L124.3 86.2 L124.8 86.2 L125.2 86.3 L125.7 86.3 L126.2 86.3 L126.6 86.4 L127.1 86.4 L127.6 86.5 L128.1 86.5 L128.5 86.5 L129 86.6 L129.5 86.6 L129.9 86.7 L130.4 86.7 L130.9 86.7 L131.4 86.8 L131.8 86.8 L132.3 86.9 L132.8 86.9 L133.3 86.9 L133.7 87 L134.2 87 L134.7 87.1 L135.2 87.1 L135.6 87.1 L136.1 87.2 L136.6 87.2 L137 87.3 L137.5 87.3 L138 87.3 L138.4 87.4 L138.9 87.4 L139.4 87.5 L139.9 87.5 L140.3 87.5 L140.8 87.6 L141.3 87.6 L141.8 87.7 L142.2 87.7 L142.7 87.7 L143.2 87.8 L143.7 87.8 L144.1 87.8 L144.6 87.9 L145.1 87.9 L145.5 88 L146 88 L146.5 88 L146.9 88.1 L147.4 88.1 L147.9 88.2 L148.4 88.2 L148.8 88.2 L149.3 88.3 L149.8 88.3 L150.3 88.4 L150.7 88.4 L151.2 88.4 L151.7 88.5 L152.2 88.5 L152.6 88.5 L153.1 88.6 L153.6 88.6 L154 88.7 L154.5 88.7 L155 88.7 L155.5 88.8 L155.9 88.8 L156.4 88.9 L156.9 88.9 L157.3 88.9 L157.8 89 L158.3 89 L158.8 89 L159.2 89.1 L159.7 89.1 L160.2 89.2 L160.7 89.2 L161.1 89.2 L161.6 89.3 L162.1 89.3" fill="none" stroke="#8E9296" stroke-width="0.65" stroke-linejoin="round"/>
<rect x="46.26" y="33.40" width="4.90" height="4.90" fill="#E2400F"/>
<circle cx="48.71" cy="35.85" r="2.75" fill="#1F6CA3"/>
<path d="M48.7 33L51.8 38.8L45.6 38.8Z" fill="#FBB515"/>
<path d="M48.7 38.8L51.8 33L45.6 33Z" fill="#60D360"/>
<path d="M48.7 32.4L52.2 35.9L48.7 39.4L45.2 35.9Z" fill="#5660A8"/>
<circle cx="48.71" cy="35.85" r="2.89" fill="#8E9296"/>
<rect x="60.43" y="144.75" width="4.90" height="4.90" fill="#E2400F"/>
<rect x="74.60" y="145.12" width="4.90" height="4.90" fill="#E2400F"/>
<rect x="88.77" y="145.37" width="4.90" height="4.90" fill="#E2400F"/>
<rect x="102.94" y="145.50" width="4.90" height="4.90" fill="#E2400F"/>
<rect x="117.11" y="145.50" width="4.90" height="4.90" fill="#E2400F"/>
<rect x="131.28" y="145.50" width="4.90" height="4.90" fill="#E2400F"/>
<rect x="145.45" y="145.50" width="4.90" height="4.90" fill="#E2400F"/>
<rect x="159.62" y="145.50" width="4.90" height="4.90" fill="#E2400F"/>
<circle cx="62.88" cy="133.25" r="2.75" fill="#1F6CA3"/>
<circle cx="77.05" cy="143.96" r="2.75" fill="#1F6CA3"/>
<circle cx="91.22" cy="146.45" r="2.75" fill="#1F6CA3"/>
<circle cx="105.39" cy="147.45" r="2.75" fill="#1F6CA3"/>
<circle cx="119.56" cy="147.70" r="2.75" fill="#1F6CA3"/>
<circle cx="133.73" cy="147.70" r="2.75" fill="#1F6CA3"/>
<circle cx="147.90" cy="147.70" r="2.75" fill="#1F6CA3"/>
<circle cx="162.07" cy="147.70" r="2.75" fill="#1F6CA3"/>
<path d="M62.9 118.8L66 124.6L59.8 124.6Z" fill="#FBB515"/>
<path d="M77 131.2L80.2 137L74 137Z" fill="#FBB515"/>
<path d="M91.2 136.7L94.3 142.5L88.1 142.5Z" fill="#FBB515"/>
<path d="M105.4 139.8L108.5 145.6L102.3 145.6Z" fill="#FBB515"/>
<path d="M119.6 142.3L122.7 148.1L116.5 148.1Z" fill="#FBB515"/>
<path d="M133.7 143.3L136.8 149.1L130.6 149.1Z" fill="#FBB515"/>
<path d="M147.9 144.1L151 149.8L144.8 149.8Z" fill="#FBB515"/>
<path d="M162.1 144.6L165.2 150.3L159 150.3Z" fill="#FBB515"/>
<path d="M62.9 112.1L66 106.3L59.8 106.3Z" fill="#60D360"/>
<path d="M77 123.8L80.2 118L74 118Z" fill="#60D360"/>
<path d="M91.2 130.1L94.3 124.2L88.1 124.2Z" fill="#60D360"/>
<path d="M105.4 134.5L108.5 128.7L102.3 128.7Z" fill="#60D360"/>
<path d="M119.6 137L122.7 131.2L116.5 131.2Z" fill="#60D360"/>
<path d="M133.7 140L136.8 134.2L130.6 134.2Z" fill="#60D360"/>
<path d="M147.9 141.5L151 135.7L144.8 135.7Z" fill="#60D360"/>
<path d="M162.1 142.9L165.2 137.1L159 137.1Z" fill="#60D360"/>
<path d="M62.9 100L66.4 103.5L62.9 107L59.4 103.5Z" fill="#5660A8"/>
<path d="M77 108.5L80.5 112L77 115.5L73.5 112Z" fill="#5660A8"/>
<path d="M91.2 113.4L94.7 116.9L91.2 120.4L87.7 116.9Z" fill="#5660A8"/>
<path d="M105.4 116.2L108.9 119.7L105.4 123.2L101.9 119.7Z" fill="#5660A8"/>
<path d="M119.6 118.7L123.1 122.2L119.6 125.7L116.1 122.2Z" fill="#5660A8"/>
<path d="M133.7 120.7L137.2 124.2L133.7 127.7L130.2 124.2Z" fill="#5660A8"/>
<path d="M147.9 121.8L151.4 125.3L147.9 128.8L144.4 125.3Z" fill="#5660A8"/>
<path d="M162.1 123.2L165.6 126.7L162.1 130.2L158.6 126.7Z" fill="#5660A8"/>
<path d="M59.4 79.5L65.4 76.2L65.4 82.7Z" fill="#8E9296"/>
<path d="M73.5 81.9L79.5 78.7L79.5 85.1Z" fill="#8E9296"/>
<path d="M87.7 83.2L93.7 80L93.7 86.4Z" fill="#8E9296"/>
<path d="M101.9 84.4L107.9 81.2L107.9 87.6Z" fill="#8E9296"/>
<path d="M116.1 85.7L122.1 82.5L122.1 88.9Z" fill="#8E9296"/>
<path d="M130.2 86.9L136.2 83.7L136.2 90.1Z" fill="#8E9296"/>
<path d="M144.4 88.2L150.4 85L150.4 91.4Z" fill="#8E9296"/>
<path d="M158.6 89.4L164.6 86.2L164.6 92.6Z" fill="#8E9296"/>
<rect x="155.00" y="8.30" width="69.20" height="63.00" fill="#fff" stroke="#555" stroke-width="0.8"/>
<path d="M156 14.2H175" stroke="#E2400F" stroke-width="0.6" opacity="0.65"/>
<rect x="163.15" y="11.75" width="4.90" height="4.90" fill="#E2400F"/>
<text x="177.50" y="17.05" class="lg">100 μg/mL</text>
<path d="M156 24.5H175" stroke="#1F6CA3" stroke-width="0.6" opacity="0.65"/>
<circle cx="165.60" cy="24.50" r="2.75" fill="#1F6CA3"/>
<text x="177.50" y="27.35" class="lg">33.33 μg/mL</text>
<path d="M156 34.8H175" stroke="#FBB515" stroke-width="0.6" opacity="0.65"/>
<path d="M165.6 31.5L168.7 37.3L162.5 37.3Z" fill="#FBB515"/>
<text x="177.50" y="37.65" class="lg">20.00 μg/mL</text>
<path d="M156 45.1H175" stroke="#60D360" stroke-width="0.6" opacity="0.65"/>
<path d="M165.6 48.5L168.7 42.7L162.5 42.7Z" fill="#60D360"/>
<text x="177.50" y="47.95" class="lg">14.28 μg/mL</text>
<path d="M156 55.4H175" stroke="#5660A8" stroke-width="0.6" opacity="0.65"/>
<path d="M165.6 51.9L169.1 55.4L165.6 58.9L162.1 55.4Z" fill="#5660A8"/>
<text x="177.50" y="58.25" class="lg">11.11 μg/mL</text>
<path d="M156 65.5H175" stroke="#8E9296" stroke-width="0.6" opacity="0.65"/>
<path d="M162.1 65.5L168.1 62.3L168.1 68.7Z" fill="#8E9296"/>
<text x="177.50" y="68.35" class="lg">05.55 μg/mL</text>
<path d="M263.8 23.4V160.4H405.5" fill="none" stroke="#1a1a1a" stroke-width="1"/>
<text x="256.80" y="153.91" text-anchor="end" class="tk">40</text>
<text x="256.80" y="134.34" text-anchor="end" class="tk">50</text>
<text x="256.80" y="114.77" text-anchor="end" class="tk">60</text>
<text x="256.80" y="95.20" text-anchor="end" class="tk">70</text>
<text x="256.80" y="75.63" text-anchor="end" class="tk">80</text>
<text x="256.80" y="56.06" text-anchor="end" class="tk">90</text>
<text x="256.80" y="36.49" text-anchor="end" class="tk">100</text>
<text x="275.61" y="174.80" text-anchor="middle" class="tk">0</text>
<text x="299.23" y="174.80" text-anchor="middle" class="tk">500</text>
<text x="322.84" y="174.80" text-anchor="middle" class="tk">1000</text>
<text x="346.46" y="174.80" text-anchor="middle" class="tk">1500</text>
<text x="370.07" y="174.80" text-anchor="middle" class="tk">2000</text>
<text x="393.69" y="174.80" text-anchor="middle" class="tk">2500</text>
<path d="M262 160.4H263.8 M259.8 150.6H263.8 M262 140.8H263.8 M259.8 131H263.8 M262 121.3H263.8 M259.8 111.5H263.8 M262 101.7H263.8 M259.8 91.9H263.8 M262 82.1H263.8 M259.8 72.3H263.8 M262 62.5H263.8 M259.8 52.8H263.8 M262 43H263.8 M259.8 33.2H263.8 M262 23.4H263.8 M263.8 160.4V162.2 M275.6 160.4V164.6 M287.4 160.4V162.2 M299.2 160.4V164.6 M311 160.4V162.2 M322.8 160.4V164.6 M334.6 160.4V162.2 M346.5 160.4V164.6 M358.3 160.4V162.2 M370.1 160.4V164.6 M381.9 160.4V162.2 M393.7 160.4V164.6 M405.5 160.4V162.2" fill="none" stroke="#1a1a1a" stroke-width="1"/>
<text x="334.65" y="192.30" text-anchor="middle" class="ti">Time (s)</text>
<text transform="translate(236.50,91.90) rotate(-90)" text-anchor="middle" class="ti" style="font-size:11.25px">Percentage of remaining [DPPH]</text>
<text x="241.70" y="16.60" class="pl">(b)</text>
<path d="M275.9 33.2 L276 34.9 L276 36.5 L276.1 37.9 L276.1 39.2 L276.1 40.4 L276.2 41.5 L276.2 42.5 L276.3 43.5 L276.3 44.3 L276.4 45.1 L276.4 45.8 L276.5 46.5 L276.5 47.2 L276.6 47.8 L276.6 48.4 L276.7 48.9 L276.7 49.4 L276.8 49.9 L276.8 50.4 L276.9 50.8" fill="none" stroke="#E2400F" stroke-width="0.65" stroke-linejoin="round" opacity="0.55"/>
<path d="M276.9 50.8 L276.9 51.3 L276.9 51.7 L277 52.1 L277 52.5 L277.1 52.9 L277.1 53.2 L277.2 53.6 L277.2 54 L277.3 54.3 L277.3 54.7 L277.4 55 L277.4 55.3 L277.5 55.7 L277.5 56 L277.6 56.3 L277.6 56.6 L277.7 56.9 L277.7 57.2 L277.8 57.5 L277.8 57.8 L277.8 58.1 L277.9 58.4 L277.9 58.7 L278 59 L278 59.3 L278.1 59.6 L278.1 59.9 L278.2 60.2 L278.2 60.4 L278.3 60.7 L278.3 61 L278.4 61.3 L278.4 61.5 L278.5 61.8 L278.5 62.1 L278.6 62.3 L278.6 62.6 L278.6 62.9 L278.7 63.1 L278.7 63.4 L279.2 65.9 L279.7 68.3 L280.2 70.6 L280.6 72.7 L281.1 74.8 L281.6 76.7 L282.1 78.5 L282.5 80.3 L283 82 L283.5 83.5 L283.9 85 L284.4 86.5 L284.9 87.9 L285.4 89.2 L285.8 90.4 L286.3 91.6 L286.8 92.8 L287.2 93.9 L287.7 94.9 L288.2 96 L288.7 96.9 L289.1 97.9 L289.6 98.8 L290.1 99.6 L290.6 100.5 L291 101.3 L291.5 102 L292 102.8 L292.4 103.5 L292.9 104.2 L293.4 104.9 L293.9 105.6 L294.3 106.2 L294.8 106.8 L295.3 107.4 L295.8 108 L296.2 108.6 L296.7 109.1 L297.2 109.7 L297.6 110.2 L298.1 110.7 L298.6 111.2 L299.1 111.7 L299.5 112.2 L300 112.7 L300.5 113.1 L300.9 113.6 L301.4 114 L301.9 114.4 L302.4 114.8 L302.8 115.3 L303.3 115.7 L303.8 116.1 L304.2 116.5 L304.7 116.8 L305.2 117.2 L305.7 117.6 L306.1 118 L306.6 118.3 L307.1 118.7 L307.6 119 L308 119.4 L308.5 119.7 L309 120 L309.4 120.4 L309.9 120.7 L310.4 121 L310.9 121.3 L311.3 121.7 L311.8 122 L312.3 122.3 L312.8 122.6 L313.2 122.9 L313.7 123.2 L314.2 123.5 L314.6 123.7 L315.1 124 L315.6 124.3 L316.1 124.6 L316.5 124.9 L317 125.1 L317.5 125.4 L317.9 125.7 L318.4 125.9 L318.9 126.2 L319.4 126.4 L319.8 126.7 L320.3 126.9 L320.8 127.2 L321.2 127.4 L321.7 127.7 L322.2 127.9 L322.7 128.2 L323.1 128.4 L323.6 128.6 L324.1 128.9 L324.6 129.1 L325 129.3 L325.5 129.5 L326 129.8 L326.4 130 L326.9 130.2 L327.4 130.4 L327.9 130.6 L328.3 130.8 L328.8 131.1 L329.3 131.2 L329.8 131.5 L330.2 131.7 L330.7 131.9 L331.2 132.1 L331.6 132.3 L332.1 132.4 L332.6 132.7 L333.1 132.8 L333.5 133 L334 133.2 L334.5 133.4 L334.9 133.6 L335.4 133.8 L335.9 133.9 L336.4 134.1 L336.8 134.3 L337.3 134.5 L337.8 134.7 L338.3 134.8 L338.7 135 L339.2 135.2 L339.7 135.3 L340.1 135.5 L340.6 135.7 L341.1 135.8 L341.6 136 L342 136.2 L342.5 136.3 L343 136.5 L343.4 136.6 L343.9 136.8 L344.4 136.9 L344.9 137.1 L345.3 137.2 L345.8 137.4 L346.3 137.5 L346.8 137.7 L347.2 137.8 L347.7 138 L348.2 138.1 L348.6 138.3 L349.1 138.4 L349.6 138.5 L350.1 138.7 L350.5 138.8 L351 138.9 L351.5 139.1 L351.9 139.2 L352.4 139.3 L352.9 139.5 L353.4 139.6 L353.8 139.7 L354.3 139.8 L354.8 140 L355.3 140.1 L355.7 140.2 L356.2 140.3 L356.7 140.5 L357.1 140.6 L357.6 140.7 L358.1 140.8 L358.6 140.9 L359 141.1 L359.5 141.2 L360 141.3 L360.5 141.4 L360.9 141.5 L361.4 141.6 L361.9 141.7 L362.4 141.8 L362.8 141.9 L363.3 142 L363.8 142.1 L364.2 142.2 L364.7 142.3 L365.2 142.4 L365.6 142.6 L366.1 142.7 L366.6 142.8 L367.1 142.8 L367.5 142.9 L368 143 L368.5 143.1 L369 143.2 L369.4 143.3 L369.9 143.4 L370.4 143.5 L370.9 143.6 L371.3 143.7 L371.8 143.8 L372.3 143.9 L372.7 144 L373.2 144 L373.7 144.1 L374.1 144.2 L374.6 144.3 L375.1 144.4 L375.6 144.5 L376 144.6 L376.5 144.6 L377 144.7 L377.5 144.8 L377.9 144.9 L378.4 144.9 L378.9 145 L379.4 145.1 L379.8 145.2 L380.3 145.3 L380.8 145.3 L381.2 145.4 L381.7 145.5 L382.2 145.6 L382.7 145.6 L383.1 145.7 L383.6 145.8 L384.1 145.8 L384.6 145.9 L385 146 L385.5 146 L386 146.1 L386.4 146.2 L386.9 146.2 L387.4 146.3 L387.9 146.4 L388.3 146.4 L388.8 146.5 L389.3 146.6" fill="none" stroke="#E2400F" stroke-width="0.65" stroke-linejoin="round"/>
<path d="M275.9 33.2 L276 34.7 L276 36.1 L276.1 37.4 L276.1 38.5 L276.1 39.5 L276.2 40.4 L276.2 41.2 L276.3 41.9 L276.3 42.6 L276.4 43.2 L276.4 43.8 L276.5 44.3 L276.5 44.8 L276.6 45.2 L276.6 45.6 L276.7 46 L276.7 46.3 L276.8 46.6 L276.8 46.9 L276.9 47.2" fill="none" stroke="#1F6CA3" stroke-width="0.65" stroke-linejoin="round" opacity="0.55"/>
<path d="M276.9 47.2 L276.9 47.5 L276.9 47.8 L277 48 L277 48.2 L277.1 48.5 L277.1 48.7 L277.2 48.9 L277.2 49.1 L277.3 49.3 L277.3 49.5 L277.4 49.6 L277.4 49.8 L277.5 50 L277.5 50.2 L277.6 50.3 L277.6 50.5 L277.7 50.7 L277.7 50.8 L277.8 51 L277.8 51.1 L277.8 51.3 L277.9 51.5 L277.9 51.6 L278 51.8 L278 51.9 L278.1 52 L278.1 52.2 L278.2 52.3 L278.2 52.5 L278.3 52.6 L278.3 52.8 L278.4 52.9 L278.4 53 L278.5 53.2 L278.5 53.3 L278.6 53.5 L278.6 53.6 L278.6 53.8 L278.7 53.9 L278.7 54 L279.2 55.4 L279.7 56.6 L280.2 57.9 L280.6 59.1 L281.1 60.2 L281.6 61.3 L282.1 62.4 L282.5 63.4 L283 64.4 L283.5 65.4 L283.9 66.3 L284.4 67.2 L284.9 68.1 L285.4 68.9 L285.8 69.8 L286.3 70.6 L286.8 71.3 L287.2 72.1 L287.7 72.8 L288.2 73.5 L288.7 74.2 L289.1 74.8 L289.6 75.5 L290.1 76.1 L290.6 76.7 L291 77.3 L291.5 77.8 L292 78.4 L292.4 78.9 L292.9 79.5 L293.4 80 L293.9 80.5 L294.3 81 L294.8 81.4 L295.3 81.9 L295.8 82.3 L296.2 82.8 L296.7 83.2 L297.2 83.6 L297.6 84 L298.1 84.5 L298.6 84.8 L299.1 85.2 L299.5 85.6 L300 86 L300.5 86.3 L300.9 86.7 L301.4 87 L301.9 87.4 L302.4 87.7 L302.8 88 L303.3 88.3 L303.8 88.7 L304.2 89 L304.7 89.3 L305.2 89.5 L305.7 89.8 L306.1 90.1 L306.6 90.4 L307.1 90.7 L307.6 91 L308 91.2 L308.5 91.5 L309 91.8 L309.4 92 L309.9 92.3 L310.4 92.5 L310.9 92.8 L311.3 93 L311.8 93.2 L312.3 93.5 L312.8 93.7 L313.2 93.9 L313.7 94.2 L314.2 94.4 L314.6 94.6 L315.1 94.8 L315.6 95 L316.1 95.2 L316.5 95.5 L317 95.7 L317.5 95.9 L317.9 96.1 L318.4 96.3 L318.9 96.5 L319.4 96.7 L319.8 96.8 L320.3 97 L320.8 97.2 L321.2 97.4 L321.7 97.6 L322.2 97.8 L322.7 98 L323.1 98.1 L323.6 98.3 L324.1 98.5 L324.6 98.7 L325 98.8 L325.5 99 L326 99.2 L326.4 99.3 L326.9 99.5 L327.4 99.7 L327.9 99.8 L328.3 100 L328.8 100.1 L329.3 100.3 L329.8 100.5 L330.2 100.6 L330.7 100.8 L331.2 100.9 L331.6 101.1 L332.1 101.2 L332.6 101.3 L333.1 101.5 L333.5 101.6 L334 101.8 L334.5 101.9 L334.9 102.1 L335.4 102.2 L335.9 102.3 L336.4 102.5 L336.8 102.6 L337.3 102.8 L337.8 102.9 L338.3 103 L338.7 103.2 L339.2 103.3 L339.7 103.4 L340.1 103.5 L340.6 103.7 L341.1 103.8 L341.6 103.9 L342 104 L342.5 104.2 L343 104.3 L343.4 104.4 L343.9 104.5 L344.4 104.7 L344.9 104.8 L345.3 104.9 L345.8 105 L346.3 105.1 L346.8 105.2 L347.2 105.4 L347.7 105.5 L348.2 105.6 L348.6 105.7 L349.1 105.8 L349.6 105.9 L350.1 106 L350.5 106.1 L351 106.2 L351.5 106.3 L351.9 106.5 L352.4 106.6 L352.9 106.7 L353.4 106.8 L353.8 106.9 L354.3 107 L354.8 107.1 L355.3 107.2 L355.7 107.3 L356.2 107.4 L356.7 107.5 L357.1 107.6 L357.6 107.7 L358.1 107.8 L358.6 107.8 L359 108 L359.5 108 L360 108.1 L360.5 108.2 L360.9 108.3 L361.4 108.4 L361.9 108.5 L362.4 108.6 L362.8 108.7 L363.3 108.8 L363.8 108.8 L364.2 108.9 L364.7 109 L365.2 109.1 L365.6 109.2 L366.1 109.3 L366.6 109.4 L367.1 109.5 L367.5 109.5 L368 109.6 L368.5 109.7 L369 109.8 L369.4 109.8 L369.9 109.9 L370.4 110 L370.9 110.1 L371.3 110.2 L371.8 110.2 L372.3 110.3 L372.7 110.4 L373.2 110.5 L373.7 110.5 L374.1 110.6 L374.6 110.7 L375.1 110.8 L375.6 110.8 L376 110.9 L376.5 111 L377 111 L377.5 111.1 L377.9 111.2 L378.4 111.3 L378.9 111.3 L379.4 111.4 L379.8 111.5 L380.3 111.5 L380.8 111.6 L381.2 111.7 L381.7 111.7 L382.2 111.8 L382.7 111.9 L383.1 111.9 L383.6 112 L384.1 112.1 L384.6 112.1 L385 112.2 L385.5 112.2 L386 112.3 L386.4 112.4 L386.9 112.4 L387.4 112.5 L387.9 112.5 L388.3 112.6 L388.8 112.7 L389.3 112.7" fill="none" stroke="#1F6CA3" stroke-width="0.65" stroke-linejoin="round"/>
<path d="M275.9 33.2 L276 34.7 L276 36.1 L276.1 37.3 L276.1 38.4 L276.1 39.4 L276.2 40.2 L276.2 41 L276.3 41.8 L276.3 42.4 L276.4 43 L276.4 43.5 L276.5 44 L276.5 44.5 L276.6 44.9 L276.6 45.2 L276.7 45.6 L276.7 45.9 L276.8 46.2 L276.8 46.5 L276.9 46.8" fill="none" stroke="#FBB515" stroke-width="0.65" stroke-linejoin="round" opacity="0.55"/>
<path d="M276.9 46.8 L276.9 47 L276.9 47.2 L277 47.5 L277 47.7 L277.1 47.9 L277.1 48 L277.2 48.2 L277.2 48.4 L277.3 48.6 L277.3 48.7 L277.4 48.9 L277.4 49.1 L277.5 49.2 L277.5 49.4 L277.6 49.5 L277.6 49.6 L277.7 49.8 L277.7 49.9 L277.8 50.1 L277.8 50.2 L277.8 50.3 L277.9 50.5 L277.9 50.6 L278 50.7 L278 50.8 L278.1 51 L278.1 51.1 L278.2 51.2 L278.2 51.3 L278.3 51.4 L278.3 51.6 L278.4 51.7 L278.4 51.8 L278.5 51.9 L278.5 52 L278.6 52.1 L278.6 52.3 L278.6 52.4 L278.7 52.5 L278.7 52.6 L279.2 53.7 L279.7 54.8 L280.2 55.8 L280.6 56.7 L281.1 57.6 L281.6 58.5 L282.1 59.4 L282.5 60.2 L283 61 L283.5 61.8 L283.9 62.5 L284.4 63.2 L284.9 63.9 L285.4 64.5 L285.8 65.1 L286.3 65.7 L286.8 66.3 L287.2 66.9 L287.7 67.4 L288.2 67.9 L288.7 68.4 L289.1 68.9 L289.6 69.4 L290.1 69.8 L290.6 70.3 L291 70.7 L291.5 71.1 L292 71.5 L292.4 71.9 L292.9 72.3 L293.4 72.6 L293.9 73 L294.3 73.3 L294.8 73.7 L295.3 74 L295.8 74.3 L296.2 74.6 L296.7 74.9 L297.2 75.2 L297.6 75.5 L298.1 75.8 L298.6 76 L299.1 76.3 L299.5 76.6 L300 76.8 L300.5 77.1 L300.9 77.3 L301.4 77.5 L301.9 77.8 L302.4 78 L302.8 78.2 L303.3 78.5 L303.8 78.7 L304.2 78.9 L304.7 79.1 L305.2 79.3 L305.7 79.5 L306.1 79.7 L306.6 79.9 L307.1 80.1 L307.6 80.2 L308 80.4 L308.5 80.6 L309 80.8 L309.4 81 L309.9 81.1 L310.4 81.3 L310.9 81.5 L311.3 81.6 L311.8 81.8 L312.3 82 L312.8 82.1 L313.2 82.3 L313.7 82.4 L314.2 82.6 L314.6 82.7 L315.1 82.9 L315.6 83 L316.1 83.2 L316.5 83.3 L317 83.5 L317.5 83.6 L317.9 83.7 L318.4 83.9 L318.9 84 L319.4 84.1 L319.8 84.3 L320.3 84.4 L320.8 84.5 L321.2 84.7 L321.7 84.8 L322.2 84.9 L322.7 85 L323.1 85.2 L323.6 85.3 L324.1 85.4 L324.6 85.5 L325 85.7 L325.5 85.8 L326 85.9 L326.4 86 L326.9 86.1 L327.4 86.2 L327.9 86.4 L328.3 86.5 L328.8 86.6 L329.3 86.7 L329.8 86.8 L330.2 86.9 L330.7 87 L331.2 87.1 L331.6 87.2 L332.1 87.3 L332.6 87.5 L333.1 87.6 L333.5 87.7 L334 87.8 L334.5 87.9 L334.9 88 L335.4 88.1 L335.9 88.2 L336.4 88.3 L336.8 88.4 L337.3 88.5 L337.8 88.6 L338.3 88.7 L338.7 88.8 L339.2 88.9 L339.7 89 L340.1 89 L340.6 89.1 L341.1 89.2 L341.6 89.3 L342 89.4 L342.5 89.5 L343 89.6 L343.4 89.7 L343.9 89.8 L344.4 89.9 L344.9 90 L345.3 90 L345.8 90.1 L346.3 90.2 L346.8 90.3 L347.2 90.4 L347.7 90.5 L348.2 90.5 L348.6 90.6 L349.1 90.7 L349.6 90.8 L350.1 90.9 L350.5 91 L351 91 L351.5 91.1 L351.9 91.2 L352.4 91.3 L352.9 91.3 L353.4 91.4 L353.8 91.5 L354.3 91.6 L354.8 91.7 L355.3 91.7 L355.7 91.8 L356.2 91.9 L356.7 92 L357.1 92 L357.6 92.1 L358.1 92.2 L358.6 92.2 L359 92.3 L359.5 92.4 L360 92.5 L360.5 92.5 L360.9 92.6 L361.4 92.7 L361.9 92.7 L362.4 92.8 L362.8 92.9 L363.3 92.9 L363.8 93 L364.2 93.1 L364.7 93.1 L365.2 93.2 L365.6 93.3 L366.1 93.3 L366.6 93.4 L367.1 93.5 L367.5 93.5 L368 93.6 L368.5 93.7 L369 93.7 L369.4 93.8 L369.9 93.8 L370.4 93.9 L370.9 94 L371.3 94 L371.8 94.1 L372.3 94.1 L372.7 94.2 L373.2 94.3 L373.7 94.3 L374.1 94.4 L374.6 94.4 L375.1 94.5 L375.6 94.5 L376 94.6 L376.5 94.7 L377 94.7 L377.5 94.8 L377.9 94.8 L378.4 94.9 L378.9 94.9 L379.4 95 L379.8 95 L380.3 95.1 L380.8 95.2 L381.2 95.2 L381.7 95.2 L382.2 95.3 L382.7 95.4 L383.1 95.4 L383.6 95.5 L384.1 95.5 L384.6 95.6 L385 95.6 L385.5 95.7 L386 95.7 L386.4 95.8 L386.9 95.8 L387.4 95.8 L387.9 95.9 L388.3 96 L388.8 96 L389.3 96" fill="none" stroke="#FBB515" stroke-width="0.65" stroke-linejoin="round"/>
<path d="M275.9 33.2 L276 34.7 L276 36 L276.1 37.2 L276.1 38.3 L276.1 39.3 L276.2 40.2 L276.2 41 L276.3 41.7 L276.3 42.3 L276.4 42.9 L276.4 43.4 L276.5 43.9 L276.5 44.3 L276.6 44.7 L276.6 45.1 L276.7 45.4 L276.7 45.7 L276.8 46 L276.8 46.3 L276.9 46.5" fill="none" stroke="#60D360" stroke-width="0.65" stroke-linejoin="round" opacity="0.55"/>
<path d="M276.9 46.5 L276.9 46.8 L276.9 47 L277 47.2 L277 47.4 L277.1 47.6 L277.1 47.8 L277.2 47.9 L277.2 48.1 L277.3 48.3 L277.3 48.4 L277.4 48.6 L277.4 48.7 L277.5 48.9 L277.5 49 L277.6 49.1 L277.6 49.3 L277.7 49.4 L277.7 49.5 L277.8 49.6 L277.8 49.8 L277.8 49.9 L277.9 50 L277.9 50.1 L278 50.2 L278 50.4 L278.1 50.5 L278.1 50.6 L278.2 50.7 L278.2 50.8 L278.3 50.9 L278.3 51 L278.4 51.2 L278.4 51.3 L278.5 51.4 L278.5 51.5 L278.6 51.6 L278.6 51.7 L278.6 51.8 L278.7 51.9 L278.7 52 L279.2 53 L279.7 54 L280.2 55 L280.6 55.9 L281.1 56.8 L281.6 57.6 L282.1 58.5 L282.5 59.2 L283 60 L283.5 60.7 L283.9 61.4 L284.4 62.1 L284.9 62.8 L285.4 63.4 L285.8 64 L286.3 64.6 L286.8 65.2 L287.2 65.7 L287.7 66.3 L288.2 66.8 L288.7 67.3 L289.1 67.8 L289.6 68.2 L290.1 68.7 L290.6 69.1 L291 69.5 L291.5 70 L292 70.4 L292.4 70.8 L292.9 71.1 L293.4 71.5 L293.9 71.8 L294.3 72.2 L294.8 72.5 L295.3 72.9 L295.8 73.2 L296.2 73.5 L296.7 73.8 L297.2 74.1 L297.6 74.4 L298.1 74.7 L298.6 74.9 L299.1 75.2 L299.5 75.5 L300 75.7 L300.5 76 L300.9 76.2 L301.4 76.4 L301.9 76.7 L302.4 76.9 L302.8 77.1 L303.3 77.3 L303.8 77.5 L304.2 77.8 L304.7 78 L305.2 78.2 L305.7 78.3 L306.1 78.5 L306.6 78.7 L307.1 78.9 L307.6 79.1 L308 79.3 L308.5 79.5 L309 79.6 L309.4 79.8 L309.9 80 L310.4 80.1 L310.9 80.3 L311.3 80.5 L311.8 80.6 L312.3 80.8 L312.8 80.9 L313.2 81.1 L313.7 81.2 L314.2 81.4 L314.6 81.5 L315.1 81.7 L315.6 81.8 L316.1 81.9 L316.5 82.1 L317 82.2 L317.5 82.3 L317.9 82.5 L318.4 82.6 L318.9 82.7 L319.4 82.8 L319.8 83 L320.3 83.1 L320.8 83.2 L321.2 83.3 L321.7 83.5 L322.2 83.6 L322.7 83.7 L323.1 83.8 L323.6 83.9 L324.1 84 L324.6 84.1 L325 84.2 L325.5 84.3 L326 84.5 L326.4 84.6 L326.9 84.7 L327.4 84.8 L327.9 84.9 L328.3 85 L328.8 85.1 L329.3 85.2 L329.8 85.3 L330.2 85.4 L330.7 85.5 L331.2 85.6 L331.6 85.7 L332.1 85.8 L332.6 85.9 L333.1 86 L333.5 86 L334 86.1 L334.5 86.2 L334.9 86.3 L335.4 86.4 L335.9 86.5 L336.4 86.6 L336.8 86.7 L337.3 86.8 L337.8 86.8 L338.3 86.9 L338.7 87 L339.2 87.1 L339.7 87.2 L340.1 87.3 L340.6 87.3 L341.1 87.4 L341.6 87.5 L342 87.6 L342.5 87.7 L343 87.7 L343.4 87.8 L343.9 87.9 L344.4 88 L344.9 88 L345.3 88.1 L345.8 88.2 L346.3 88.3 L346.8 88.3 L347.2 88.4 L347.7 88.5 L348.2 88.5 L348.6 88.6 L349.1 88.7 L349.6 88.8 L350.1 88.8 L350.5 88.9 L351 89 L351.5 89 L351.9 89.1 L352.4 89.2 L352.9 89.2 L353.4 89.3 L353.8 89.4 L354.3 89.4 L354.8 89.5 L355.3 89.5 L355.7 89.6 L356.2 89.7 L356.7 89.7 L357.1 89.8 L357.6 89.9 L358.1 89.9 L358.6 90 L359 90 L359.5 90.1 L360 90.2 L360.5 90.2 L360.9 90.3 L361.4 90.3 L361.9 90.4 L362.4 90.4 L362.8 90.5 L363.3 90.5 L363.8 90.6 L364.2 90.7 L364.7 90.7 L365.2 90.8 L365.6 90.8 L366.1 90.9 L366.6 90.9 L367.1 91 L367.5 91 L368 91.1 L368.5 91.1 L369 91.2 L369.4 91.2 L369.9 91.3 L370.4 91.3 L370.9 91.4 L371.3 91.4 L371.8 91.5 L372.3 91.5 L372.7 91.6 L373.2 91.6 L373.7 91.7 L374.1 91.7 L374.6 91.8 L375.1 91.8 L375.6 91.8 L376 91.9 L376.5 91.9 L377 92 L377.5 92 L377.9 92.1 L378.4 92.1 L378.9 92.2 L379.4 92.2 L379.8 92.2 L380.3 92.3 L380.8 92.3 L381.2 92.4 L381.7 92.4 L382.2 92.4 L382.7 92.5 L383.1 92.5 L383.6 92.6 L384.1 92.6 L384.6 92.6 L385 92.7 L385.5 92.7 L386 92.8 L386.4 92.8 L386.9 92.8 L387.4 92.9 L387.9 92.9 L388.3 93 L388.8 93 L389.3 93" fill="none" stroke="#60D360" stroke-width="0.65" stroke-linejoin="round"/>
<path d="M275.9 33.2 L276 34.6 L276 35.9 L276.1 37 L276.1 38 L276.1 38.9 L276.2 39.7 L276.2 40.4 L276.3 41.1 L276.3 41.6 L276.4 42.1 L276.4 42.6 L276.5 43 L276.5 43.4 L276.6 43.7 L276.6 44 L276.7 44.2 L276.7 44.5 L276.8 44.7 L276.8 44.9 L276.9 45.1" fill="none" stroke="#5660A8" stroke-width="0.65" stroke-linejoin="round" opacity="0.55"/>
<path d="M276.9 45.1 L276.9 45.3 L276.9 45.4 L277 45.5 L277 45.7 L277.1 45.8 L277.1 45.9 L277.2 46 L277.2 46.1 L277.3 46.2 L277.3 46.3 L277.4 46.4 L277.4 46.5 L277.5 46.6 L277.5 46.6 L277.6 46.7 L277.6 46.8 L277.7 46.9 L277.7 46.9 L277.8 47 L277.8 47 L277.8 47.1 L277.9 47.2 L277.9 47.2 L278 47.3 L278 47.4 L278.1 47.4 L278.1 47.5 L278.2 47.5 L278.2 47.6 L278.3 47.6 L278.3 47.7 L278.4 47.7 L278.4 47.8 L278.5 47.9 L278.5 47.9 L278.6 48 L278.6 48 L278.6 48.1 L278.7 48.1 L278.7 48.2 L279.2 48.7 L279.7 49.2 L280.2 49.6 L280.6 50.1 L281.1 50.6 L281.6 51 L282.1 51.5 L282.5 51.9 L283 52.4 L283.5 52.8 L283.9 53.2 L284.4 53.6 L284.9 54 L285.4 54.4 L285.8 54.8 L286.3 55.2 L286.8 55.5 L287.2 55.9 L287.7 56.3 L288.2 56.6 L288.7 57 L289.1 57.3 L289.6 57.6 L290.1 58 L290.6 58.3 L291 58.6 L291.5 58.9 L292 59.2 L292.4 59.5 L292.9 59.8 L293.4 60.1 L293.9 60.4 L294.3 60.7 L294.8 61 L295.3 61.3 L295.8 61.5 L296.2 61.8 L296.7 62.1 L297.2 62.4 L297.6 62.6 L298.1 62.9 L298.6 63.1 L299.1 63.4 L299.5 63.6 L300 63.9 L300.5 64.1 L300.9 64.3 L301.4 64.6 L301.9 64.8 L302.4 65 L302.8 65.2 L303.3 65.5 L303.8 65.7 L304.2 65.9 L304.7 66.1 L305.2 66.3 L305.7 66.5 L306.1 66.7 L306.6 66.9 L307.1 67.1 L307.6 67.3 L308 67.5 L308.5 67.7 L309 67.9 L309.4 68.1 L309.9 68.3 L310.4 68.4 L310.9 68.6 L311.3 68.8 L311.8 69 L312.3 69.2 L312.8 69.3 L313.2 69.5 L313.7 69.7 L314.2 69.8 L314.6 70 L315.1 70.2 L315.6 70.3 L316.1 70.5 L316.5 70.6 L317 70.8 L317.5 71 L317.9 71.1 L318.4 71.2 L318.9 71.4 L319.4 71.5 L319.8 71.7 L320.3 71.8 L320.8 72 L321.2 72.1 L321.7 72.3 L322.2 72.4 L322.7 72.5 L323.1 72.7 L323.6 72.8 L324.1 73 L324.6 73.1 L325 73.2 L325.5 73.3 L326 73.5 L326.4 73.6 L326.9 73.7 L327.4 73.9 L327.9 74 L328.3 74.1 L328.8 74.2 L329.3 74.3 L329.8 74.5 L330.2 74.6 L330.7 74.7 L331.2 74.8 L331.6 74.9 L332.1 75 L332.6 75.2 L333.1 75.3 L333.5 75.4 L334 75.5 L334.5 75.6 L334.9 75.7 L335.4 75.8 L335.9 75.9 L336.4 76 L336.8 76.1 L337.3 76.2 L337.8 76.3 L338.3 76.4 L338.7 76.5 L339.2 76.6 L339.7 76.7 L340.1 76.8 L340.6 76.9 L341.1 77 L341.6 77.1 L342 77.2 L342.5 77.3 L343 77.4 L343.4 77.5 L343.9 77.6 L344.4 77.7 L344.9 77.8 L345.3 77.9 L345.8 78 L346.3 78 L346.8 78.1 L347.2 78.2 L347.7 78.3 L348.2 78.4 L348.6 78.5 L349.1 78.5 L349.6 78.6 L350.1 78.7 L350.5 78.8 L351 78.9 L351.5 79 L351.9 79 L352.4 79.1 L352.9 79.2 L353.4 79.3 L353.8 79.3 L354.3 79.4 L354.8 79.5 L355.3 79.6 L355.7 79.7 L356.2 79.7 L356.7 79.8 L357.1 79.9 L357.6 79.9 L358.1 80 L358.6 80.1 L359 80.2 L359.5 80.2 L360 80.3 L360.5 80.4 L360.9 80.4 L361.4 80.5 L361.9 80.6 L362.4 80.6 L362.8 80.7 L363.3 80.8 L363.8 80.8 L364.2 80.9 L364.7 81 L365.2 81 L365.6 81.1 L366.1 81.1 L366.6 81.2 L367.1 81.3 L367.5 81.3 L368 81.4 L368.5 81.4 L369 81.5 L369.4 81.6 L369.9 81.6 L370.4 81.7 L370.9 81.7 L371.3 81.8 L371.8 81.8 L372.3 81.9 L372.7 82 L373.2 82 L373.7 82.1 L374.1 82.1 L374.6 82.2 L375.1 82.2 L375.6 82.3 L376 82.3 L376.5 82.4 L377 82.4 L377.5 82.5 L377.9 82.5 L378.4 82.6 L378.9 82.6 L379.4 82.7 L379.8 82.7 L380.3 82.8 L380.8 82.8 L381.2 82.9 L381.7 82.9 L382.2 83 L382.7 83 L383.1 83.1 L383.6 83.1 L384.1 83.2 L384.6 83.2 L385 83.3 L385.5 83.3 L386 83.3 L386.4 83.4 L386.9 83.4 L387.4 83.5 L387.9 83.5 L388.3 83.6 L388.8 83.6 L389.3 83.7" fill="none" stroke="#5660A8" stroke-width="0.65" stroke-linejoin="round"/>
<rect x="273.46" y="30.74" width="4.90" height="4.90" fill="#E2400F"/>
<circle cx="275.91" cy="33.19" r="2.75" fill="#1F6CA3"/>
<path d="M275.9 30.3L279 36.1L272.8 36.1Z" fill="#FBB515"/>
<path d="M275.9 36.1L279 30.3L272.8 30.3Z" fill="#60D360"/>
<path d="M275.9 29.7L279.4 33.2L275.9 36.7L272.4 33.2Z" fill="#5660A8"/>
<rect x="287.63" y="96.89" width="4.90" height="4.90" fill="#E2400F"/>
<rect x="301.80" y="113.91" width="4.90" height="4.90" fill="#E2400F"/>
<rect x="315.97" y="123.90" width="4.90" height="4.90" fill="#E2400F"/>
<rect x="330.14" y="130.35" width="4.90" height="4.90" fill="#E2400F"/>
<rect x="344.31" y="135.05" width="4.90" height="4.90" fill="#E2400F"/>
<rect x="358.48" y="138.57" width="4.90" height="4.90" fill="#E2400F"/>
<rect x="372.65" y="141.90" width="4.90" height="4.90" fill="#E2400F"/>
<rect x="386.82" y="144.45" width="4.90" height="4.90" fill="#E2400F"/>
<circle cx="290.08" cy="75.85" r="2.75" fill="#1F6CA3"/>
<circle cx="304.25" cy="89.16" r="2.75" fill="#1F6CA3"/>
<circle cx="318.42" cy="96.21" r="2.75" fill="#1F6CA3"/>
<circle cx="332.59" cy="101.29" r="2.75" fill="#1F6CA3"/>
<circle cx="346.76" cy="105.21" r="2.75" fill="#1F6CA3"/>
<circle cx="360.93" cy="108.34" r="2.75" fill="#1F6CA3"/>
<circle cx="375.10" cy="110.88" r="2.75" fill="#1F6CA3"/>
<circle cx="389.27" cy="112.65" r="2.75" fill="#1F6CA3"/>
<path d="M290.1 67.1L293.2 72.9L287 72.9Z" fill="#FBB515"/>
<path d="M304.2 75.7L307.4 81.5L301.1 81.5Z" fill="#FBB515"/>
<path d="M318.4 81.2L321.5 87L315.3 87Z" fill="#FBB515"/>
<path d="M332.6 84.7L335.7 90.5L329.5 90.5Z" fill="#FBB515"/>
<path d="M346.8 87.2L349.9 93L343.7 93Z" fill="#FBB515"/>
<path d="M360.9 89.8L364 95.6L357.8 95.6Z" fill="#FBB515"/>
<path d="M375.1 91.3L378.2 97.2L372 97.2Z" fill="#FBB515"/>
<path d="M389.3 93.3L392.4 99.1L386.2 99.1Z" fill="#FBB515"/>
<path d="M290.1 71.9L293.2 66.1L287 66.1Z" fill="#60D360"/>
<path d="M304.2 80.3L307.4 74.5L301.1 74.5Z" fill="#60D360"/>
<path d="M318.4 85.6L321.5 79.8L315.3 79.8Z" fill="#60D360"/>
<path d="M332.6 88.9L335.7 83.1L329.5 83.1Z" fill="#60D360"/>
<path d="M346.8 91.1L349.9 85.3L343.7 85.3Z" fill="#60D360"/>
<path d="M360.9 93.2L364 87.4L357.8 87.4Z" fill="#60D360"/>
<path d="M375.1 94.6L378.2 88.8L372 88.8Z" fill="#60D360"/>
<path d="M389.3 96L392.4 90.2L386.2 90.2Z" fill="#60D360"/>
<path d="M290.1 54.7L293.6 58.2L290.1 61.7L286.6 58.2Z" fill="#5660A8"/>
<path d="M304.2 62.4L307.8 65.9L304.2 69.4L300.8 65.9Z" fill="#5660A8"/>
<path d="M318.4 67.5L321.9 71L318.4 74.5L314.9 71Z" fill="#5660A8"/>
<path d="M332.6 72L336.1 75.5L332.6 79L329.1 75.5Z" fill="#5660A8"/>
<path d="M346.8 74.5L350.3 78L346.8 81.5L343.3 78Z" fill="#5660A8"/>
<path d="M360.9 77L364.4 80.5L360.9 84L357.4 80.5Z" fill="#5660A8"/>
<path d="M375.1 78.6L378.6 82.1L375.1 85.6L371.6 82.1Z" fill="#5660A8"/>
<path d="M389.3 80.2L392.8 83.7L389.3 87.2L385.8 83.7Z" fill="#5660A8"/>
<rect x="380.30" y="8.40" width="62.40" height="51.80" fill="#fff" stroke="#555" stroke-width="0.8"/>
<path d="M382 13.6H400" stroke="#E2400F" stroke-width="0.6" opacity="0.65"/>
<rect x="388.65" y="11.15" width="4.90" height="4.90" fill="#E2400F"/>
<text x="402.80" y="16.45" class="lg">500 μg/mL</text>
<path d="M382 24.1H400" stroke="#1F6CA3" stroke-width="0.6" opacity="0.65"/>
<circle cx="391.10" cy="24.10" r="2.75" fill="#1F6CA3"/>
<text x="402.80" y="26.95" class="lg">250 μg/mL</text>
<path d="M382 34.4H400" stroke="#FBB515" stroke-width="0.6" opacity="0.65"/>
<path d="M391.1 31.1L394.2 36.9L388 36.9Z" fill="#FBB515"/>
<text x="402.80" y="37.25" class="lg">167 μg/mL</text>
<path d="M382 44.9H400" stroke="#60D360" stroke-width="0.6" opacity="0.65"/>
<path d="M391.1 48.3L394.2 42.5L388 42.5Z" fill="#60D360"/>
<text x="402.80" y="47.75" class="lg">125 μg/mL</text>
<path d="M382 55.2H400" stroke="#5660A8" stroke-width="0.6" opacity="0.65"/>
<path d="M391.1 51.7L394.6 55.2L391.1 58.7L387.6 55.2Z" fill="#5660A8"/>
<text x="402.80" y="58.05" class="lg">100 μg/mL</text>
<path d="M490.9 23.4V160.4H632.6" fill="none" stroke="#1a1a1a" stroke-width="1"/>
<text x="483.90" y="163.70" text-anchor="end" class="tk">0</text>
<text x="483.90" y="138.79" text-anchor="end" class="tk">20</text>
<text x="483.90" y="113.88" text-anchor="end" class="tk">40</text>
<text x="483.90" y="88.97" text-anchor="end" class="tk">60</text>
<text x="483.90" y="64.06" text-anchor="end" class="tk">80</text>
<text x="483.90" y="39.15" text-anchor="end" class="tk">100</text>
<text x="502.71" y="174.80" text-anchor="middle" class="tk">0</text>
<text x="526.32" y="174.80" text-anchor="middle" class="tk">500</text>
<text x="549.94" y="174.80" text-anchor="middle" class="tk">1000</text>
<text x="573.56" y="174.80" text-anchor="middle" class="tk">1500</text>
<text x="597.17" y="174.80" text-anchor="middle" class="tk">2000</text>
<text x="620.79" y="174.80" text-anchor="middle" class="tk">2500</text>
<path d="M486.9 160.4H490.9 M489.1 147.9H490.9 M486.9 135.5H490.9 M489.1 123H490.9 M486.9 110.6H490.9 M489.1 98.1H490.9 M486.9 85.7H490.9 M489.1 73.2H490.9 M486.9 60.8H490.9 M489.1 48.3H490.9 M486.9 35.9H490.9 M489.1 23.4H490.9 M490.9 160.4V162.2 M502.7 160.4V164.6 M514.5 160.4V162.2 M526.3 160.4V164.6 M538.1 160.4V162.2 M549.9 160.4V164.6 M561.8 160.4V162.2 M573.6 160.4V164.6 M585.4 160.4V162.2 M597.2 160.4V164.6 M609 160.4V162.2 M620.8 160.4V164.6 M632.6 160.4V162.2" fill="none" stroke="#1a1a1a" stroke-width="1"/>
<text x="561.75" y="192.30" text-anchor="middle" class="ti">Time (s)</text>
<text transform="translate(463.60,91.90) rotate(-90)" text-anchor="middle" class="ti" style="font-size:11.25px">Percentage of remaining [DPPH]</text>
<text x="469.30" y="16.60" class="pl">(c)</text>
<path d="M503 35.9 L503.1 38.1 L503.1 40 L503.1 41.8 L503.2 43.4 L503.2 44.8 L503.3 46.1 L503.3 47.3 L503.4 48.4 L503.4 49.5 L503.5 50.4 L503.5 51.4 L503.6 52.2 L503.6 53 L503.7 53.8 L503.7 54.6 L503.8 55.3 L503.8 56 L503.9 56.7 L503.9 57.3 L503.9 58" fill="none" stroke="#E2400F" stroke-width="0.65" stroke-linejoin="round" opacity="0.55"/>
<path d="M503.9 58 L504 58.6 L504.1 59.2 L504.1 59.8 L504.1 60.4 L504.2 61 L504.2 61.6 L504.3 62.1 L504.3 62.7 L504.4 63.3 L504.4 63.8 L504.5 64.3 L504.5 64.9 L504.6 65.4 L504.6 65.9 L504.7 66.5 L504.7 67 L504.8 67.5 L504.8 68 L504.9 68.5 L504.9 69 L504.9 69.5 L505 70 L505 70.5 L505.1 70.9 L505.1 71.4 L505.2 71.9 L505.2 72.4 L505.3 72.8 L505.3 73.3 L505.4 73.7 L505.4 74.2 L505.5 74.7 L505.5 75.1 L505.6 75.5 L505.6 76 L505.6 76.4 L505.7 76.8 L505.8 77.3 L505.8 77.7 L505.8 78.1 L506.3 82.2 L507.5 91.1 L508.7 98.4 L509.9 104.5 L511 109.6 L512.2 113.9 L513.4 117.5 L514.6 120.6 L515.8 123.2 L516.9 125.5 L518.1 127.5 L519.3 129.2 L520.5 130.7 L521.7 132 L522.9 133.2 L524 134.3 L525.2 135.2 L526.4 136.1 L527.6 136.9 L528.8 137.7 L529.9 139.1 L531.1 138.2 L532.3 140.4 L533.5 139.2 L534.6 141.5 L535.8 140.2 L537 141.9 L538.2 141.5 L539.4 143.4 L540.6 142.2 L541.7 144.2 L542.9 143.3 L544.1 144.5 L545.3 143.9 L546.5 145.2 L547.6 144.2 L548.8 145.4 L550 145.1 L551.2 146.1 L551.5 145.8 L552.1 140.5 L552.4 145.9 L552.7 146 L553.5 145.2 L554.7 147.2 L555.9 146.3 L557.1 147.6 L558.3 146.7 L559.5 147.9 L560.6 147.1 L561.8 147.7 L563 146.8 L564.2 148.2 L565.4 147.6 L566.2 148.1 L566.5 148.1 L566.8 146.3 L567.4 148.2 L567.7 149.2 L568.9 147.5 L570.1 148.9 L571.3 147.7 L572.4 149.4 L573.6 148.1 L574.8 149.3 L576 148.1 L577.2 149.9 L578.4 148.3 L579.5 150.2 L580.7 149 L581.9 150 L583.1 149.2 L584.2 149.6 L585.4 149.7 L586.6 149.8 L587.8 149.8 L589 149.9 L590.1 149.9 L591.3 150 L592.5 150.1 L593.7 150.1 L594.9 150.2 L596.1 150.2 L597.2 150.2 L598.4 150.3 L599.6 150.3 L600.8 150.4 L602 150.4 L603.1 150.4 L604.3 150.5 L605.5 150.5 L606.7 150.5 L607.9 150.6 L609 150.6 L610.2 150.6 L611.4 150.7 L612.6 150.7 L613.8 150.7 L615 150.7 L616.1 150.7" fill="none" stroke="#E2400F" stroke-width="0.65" stroke-linejoin="round"/>
<path d="M503 35.9 L503.1 37.9 L503.1 39.8 L503.1 41.4 L503.2 42.8 L503.2 44 L503.3 45.1 L503.3 46.1 L503.4 47 L503.4 47.8 L503.5 48.5 L503.5 49.2 L503.6 49.8 L503.6 50.4 L503.7 50.9 L503.7 51.4 L503.8 51.9 L503.8 52.4 L503.9 52.8 L503.9 53.2 L503.9 53.6" fill="none" stroke="#1F6CA3" stroke-width="0.65" stroke-linejoin="round" opacity="0.55"/>
<path d="M503.9 53.6 L504 54 L504.1 54.4 L504.1 54.8 L504.1 55.2 L504.2 55.5 L504.2 55.9 L504.3 56.2 L504.3 56.5 L504.4 56.9 L504.4 57.2 L504.5 57.5 L504.5 57.9 L504.6 58.2 L504.6 58.5 L504.7 58.8 L504.7 59.1 L504.8 59.5 L504.8 59.8 L504.9 60.1 L504.9 60.4 L504.9 60.7 L505 61 L505 61.3 L505.1 61.6 L505.1 61.9 L505.2 62.2 L505.2 62.5 L505.3 62.8 L505.3 63 L505.4 63.3 L505.4 63.6 L505.5 63.9 L505.5 64.2 L505.6 64.5 L505.6 64.8 L505.6 65 L505.7 65.3 L505.8 65.6 L505.8 65.9 L505.8 66.2 L506.3 68.8 L506.8 71.4 L507.3 73.8 L507.7 76.2 L508.2 78.4 L508.7 80.5 L509.1 82.6 L509.6 84.5 L510.1 86.4 L510.6 88.2 L511 89.9 L511.5 91.5 L512 93.1 L512.5 94.6 L512.9 96.1 L513.4 97.5 L513.9 98.8 L514.3 100.1 L514.8 101.3 L515.3 102.5 L515.8 103.7 L516.2 104.8 L516.7 105.8 L517.2 106.8 L517.6 107.8 L518.1 108.8 L518.6 109.7 L519.1 110.6 L519.5 111.5 L520 112.3 L520.5 113.1 L521 113.9 L521.4 114.6 L521.9 115.3 L522.4 116 L522.9 116.7 L523.3 117.4 L523.8 118 L524.3 118.7 L524.7 119.2 L525.2 119.8 L525.7 120.4 L526.1 121 L526.6 121.5 L527.1 122 L527.6 122.5 L528 123 L528.5 123.5 L529 124 L529.5 124.5 L529.9 124.9 L530.4 125.3 L530.9 125.8 L531.4 126.2 L531.8 126.6 L532.3 127 L532.8 127.4 L533.2 127.8 L533.7 128.1 L534.2 128.5 L534.6 128.8 L535.1 129.2 L535.6 129.5 L536.1 129.9 L536.5 130.2 L537 130.5 L537.5 130.8 L538 131.1 L538.4 131.4 L538.9 131.7 L539.4 132 L539.9 132.3 L540.3 132.6 L540.8 132.9 L541.3 133.1 L541.7 133.4 L542.2 133.7 L542.7 133.9 L543.2 134.2 L543.6 134.4 L544.1 134.6 L544.6 134.9 L545 135.1 L545.5 135.3 L546 135.6 L546.5 135.8 L546.9 136 L547.4 136.2 L547.9 136.4 L548.4 136.6 L548.8 136.8 L549.3 137 L549.8 137.2 L550.2 137.4 L550.7 137.6 L551.2 137.8 L551.7 137.9 L552.1 138.1 L552.6 138.3 L553.1 138.5 L553.5 138.7 L554 138.8 L554.5 139 L555 139.2 L555.4 139.3 L555.9 139.5 L556.4 139.6 L556.9 139.8 L557.3 139.9 L557.8 140.1 L558.3 140.2 L558.7 140.4 L559.2 140.5 L559.7 140.6 L560.2 140.8 L560.6 140.9 L561.1 141.1 L561.6 141.2 L562 141.3 L562.5 141.4 L563 141.6 L563.5 141.7 L563.9 141.8 L564.4 141.9 L564.9 142 L565.4 142.2 L565.8 142.3 L566.3 142.4 L566.8 142.5 L567.2 142.6 L567.7 142.7 L568.2 142.8 L568.7 142.9 L569.1 143 L569.6 143.1 L570.1 143.2 L570.5 143.3 L571 143.4 L571.5 143.5 L572 143.6 L572.4 143.7 L572.9 143.8 L573.4 143.9 L573.9 144 L574.3 144.1 L574.8 144.2 L575.3 144.2 L575.8 144.3 L576.2 144.4 L576.7 144.5 L577.2 144.6 L577.6 144.6 L578.1 144.7 L578.6 144.8 L579 144.9 L579.5 144.9 L580 145 L580.5 145.1 L580.9 145.2 L581.4 145.2 L581.9 145.3 L582.4 145.4 L582.8 145.4 L583.3 145.5 L583.8 145.6 L584.2 145.6 L584.7 145.7 L585.2 145.8 L585.7 145.8 L586.1 145.9 L586.6 145.9 L587.1 146 L587.6 146 L588 146.1 L588.5 146.2 L589 146.2 L589.5 146.3 L589.9 146.3 L590.4 146.4 L590.9 146.4 L591.3 146.5 L591.8 146.5 L592.3 146.6 L592.8 146.6 L593.2 146.7 L593.7 146.7 L594.2 146.8 L594.6 146.8 L595.1 146.9 L595.6 146.9 L596.1 146.9 L596.5 147 L597 147 L597.5 147.1 L598 147.1 L598.4 147.2 L598.9 147.2 L599.4 147.2 L599.8 147.3 L600.3 147.3 L600.8 147.4 L601.2 147.4 L601.7 147.4 L602.2 147.5 L602.7 147.5 L603.1 147.5 L603.6 147.6 L604.1 147.6 L604.6 147.6 L605 147.7 L605.5 147.7 L606 147.7 L606.5 147.8 L606.9 147.8 L607.4 147.8 L607.9 147.9 L608.3 147.9 L608.8 147.9 L609.3 148 L609.8 148 L610.2 148 L610.7 148 L611.2 148.1 L611.6 148.1 L612.1 148.1 L612.6 148.2 L613.1 148.2 L613.5 148.2 L614 148.2 L614.5 148.2 L615 148.3 L615.4 148.3 L615.9 148.3 L616.4 148.3" fill="none" stroke="#1F6CA3" stroke-width="0.65" stroke-linejoin="round"/>
<path d="M503 35.9 L503.1 37.8 L503.1 39.5 L503.1 41 L503.2 42.3 L503.2 43.5 L503.3 44.5 L503.3 45.4 L503.4 46.1 L503.4 46.9 L503.5 47.5 L503.5 48 L503.6 48.6 L503.6 49 L503.7 49.5 L503.7 49.9 L503.8 50.3 L503.8 50.6 L503.9 51 L503.9 51.3 L503.9 51.6" fill="none" stroke="#FBB515" stroke-width="0.65" stroke-linejoin="round" opacity="0.55"/>
<path d="M503.9 51.6 L504 51.9 L504.1 52.2 L504.1 52.5 L504.1 52.8 L504.2 53 L504.2 53.3 L504.3 53.5 L504.3 53.8 L504.4 54 L504.4 54.3 L504.5 54.5 L504.5 54.8 L504.6 55 L504.6 55.2 L504.7 55.5 L504.7 55.7 L504.8 55.9 L504.8 56.1 L504.9 56.4 L504.9 56.6 L504.9 56.8 L505 57 L505 57.2 L505.1 57.5 L505.1 57.7 L505.2 57.9 L505.2 58.1 L505.3 58.3 L505.3 58.5 L505.4 58.7 L505.4 59 L505.5 59.2 L505.5 59.4 L505.6 59.6 L505.6 59.8 L505.6 60 L505.7 60.2 L505.8 60.4 L505.8 60.6 L505.8 60.8 L506.3 62.8 L506.8 64.7 L507.3 66.5 L507.7 68.3 L508.2 70 L508.7 71.6 L509.1 73.2 L509.6 74.7 L510.1 76.1 L510.6 77.5 L511 78.9 L511.5 80.2 L512 81.5 L512.5 82.7 L512.9 83.9 L513.4 85 L513.9 86.1 L514.3 87.2 L514.8 88.2 L515.3 89.2 L515.8 90.1 L516.2 91.1 L516.7 92 L517.2 92.9 L517.6 93.7 L518.1 94.5 L518.6 95.3 L519.1 96.1 L519.5 96.9 L520 97.6 L520.5 98.3 L521 99 L521.4 99.7 L521.9 100.4 L522.4 101 L522.9 101.7 L523.3 102.3 L523.8 102.9 L524.3 103.5 L524.7 104 L525.2 104.6 L525.7 105.2 L526.1 105.7 L526.6 106.2 L527.1 106.7 L527.6 107.2 L528 107.7 L528.5 108.2 L529 108.7 L529.5 109.1 L529.9 109.6 L530.4 110 L530.9 110.5 L531.4 110.9 L531.8 111.3 L532.3 111.7 L532.8 112.2 L533.2 112.5 L533.7 112.9 L534.2 113.3 L534.6 113.7 L535.1 114.1 L535.6 114.5 L536.1 114.8 L536.5 115.2 L537 115.5 L537.5 115.9 L538 116.2 L538.4 116.5 L538.9 116.9 L539.4 117.2 L539.9 117.5 L540.3 117.8 L540.8 118.2 L541.3 118.5 L541.7 118.8 L542.2 119.1 L542.7 119.4 L543.2 119.7 L543.6 120 L544.1 120.2 L544.6 120.5 L545 120.8 L545.5 121.1 L546 121.4 L546.5 121.6 L546.9 121.9 L547.4 122.2 L547.9 122.4 L548.4 122.7 L548.8 122.9 L549.3 123.2 L549.8 123.4 L550.2 123.7 L550.7 123.9 L551.2 124.2 L551.7 124.4 L552.1 124.6 L552.6 124.9 L553.1 125.1 L553.5 125.3 L554 125.6 L554.5 125.8 L555 126 L555.4 126.2 L555.9 126.4 L556.4 126.7 L556.9 126.9 L557.3 127.1 L557.8 127.3 L558.3 127.5 L558.7 127.7 L559.2 127.9 L559.7 128.1 L560.2 128.3 L560.6 128.5 L561.1 128.7 L561.6 128.9 L562 129.1 L562.5 129.2 L563 129.4 L563.5 129.6 L563.9 129.8 L564.4 130 L564.9 130.2 L565.4 130.3 L565.8 130.5 L566.3 130.7 L566.8 130.9 L567.2 131 L567.7 131.2 L568.2 131.4 L568.7 131.5 L569.1 131.7 L569.6 131.9 L570.1 132 L570.5 132.2 L571 132.3 L571.5 132.5 L572 132.7 L572.4 132.8 L572.9 133 L573.4 133.1 L573.9 133.3 L574.3 133.4 L574.8 133.6 L575.3 133.7 L575.8 133.9 L576.2 134 L576.7 134.1 L577.2 134.3 L577.6 134.4 L578.1 134.6 L578.6 134.7 L579 134.8 L579.5 135 L580 135.1 L580.5 135.2 L580.9 135.4 L581.4 135.5 L581.9 135.6 L582.4 135.8 L582.8 135.9 L583.3 136 L583.8 136.1 L584.2 136.2 L584.7 136.4 L585.2 136.5 L585.7 136.6 L586.1 136.7 L586.6 136.8 L587.1 136.9 L587.6 137.1 L588 137.2 L588.5 137.3 L589 137.4 L589.5 137.5 L589.9 137.6 L590.4 137.7 L590.9 137.8 L591.3 137.9 L591.8 138.1 L592.3 138.2 L592.8 138.3 L593.2 138.4 L593.7 138.5 L594.2 138.6 L594.6 138.7 L595.1 138.8 L595.6 138.9 L596.1 139 L596.5 139.1 L597 139.2 L597.5 139.2 L598 139.3 L598.4 139.4 L598.9 139.5 L599.4 139.6 L599.8 139.7 L600.3 139.8 L600.8 139.9 L601.2 140 L601.7 140.1 L602.2 140.2 L602.7 140.2 L603.1 140.3 L603.6 140.4 L604.1 140.5 L604.6 140.6 L605 140.7 L605.5 140.7 L606 140.8 L606.5 140.9 L606.9 141 L607.4 141.1 L607.9 141.1 L608.3 141.2 L608.8 141.3 L609.3 141.4 L609.8 141.4 L610.2 141.5 L610.7 141.6 L611.2 141.7 L611.6 141.7 L612.1 141.8 L612.6 141.9 L613.1 141.9 L613.5 142 L614 142.1 L614.5 142.2 L615 142.2 L615.4 142.3 L615.9 142.3 L616.4 142.4" fill="none" stroke="#FBB515" stroke-width="0.65" stroke-linejoin="round"/>
<path d="M503 35.9 L503.1 37.8 L503.1 39.5 L503.1 40.9 L503.2 42.1 L503.2 43.2 L503.3 44.2 L503.3 45 L503.4 45.8 L503.4 46.4 L503.5 47 L503.5 47.5 L503.6 48 L503.6 48.5 L503.7 48.9 L503.7 49.2 L503.8 49.6 L503.8 49.9 L503.9 50.2 L503.9 50.5 L503.9 50.7" fill="none" stroke="#60D360" stroke-width="0.65" stroke-linejoin="round" opacity="0.55"/>
<path d="M503.9 50.7 L504 51 L504.1 51.2 L504.1 51.5 L504.1 51.7 L504.2 51.9 L504.2 52.1 L504.3 52.3 L504.3 52.5 L504.4 52.8 L504.4 53 L504.5 53.1 L504.5 53.4 L504.6 53.5 L504.6 53.7 L504.7 53.9 L504.7 54.1 L504.8 54.3 L504.8 54.5 L504.9 54.7 L504.9 54.9 L504.9 55 L505 55.2 L505 55.4 L505.1 55.6 L505.1 55.7 L505.2 55.9 L505.2 56.1 L505.3 56.3 L505.3 56.4 L505.4 56.6 L505.4 56.8 L505.5 57 L505.5 57.1 L505.6 57.3 L505.6 57.5 L505.6 57.6 L505.7 57.8 L505.8 58 L505.8 58.1 L505.8 58.3 L506.3 59.9 L506.8 61.5 L507.3 63 L507.7 64.5 L508.2 65.8 L508.7 67.2 L509.1 68.5 L509.6 69.8 L510.1 71 L510.6 72.1 L511 73.2 L511.5 74.3 L512 75.4 L512.5 76.4 L512.9 77.4 L513.4 78.4 L513.9 79.3 L514.3 80.2 L514.8 81.1 L515.3 81.9 L515.8 82.8 L516.2 83.5 L516.7 84.3 L517.2 85.1 L517.6 85.8 L518.1 86.5 L518.6 87.3 L519.1 87.9 L519.5 88.6 L520 89.3 L520.5 89.9 L521 90.5 L521.4 91.1 L521.9 91.7 L522.4 92.3 L522.9 92.9 L523.3 93.4 L523.8 94 L524.3 94.5 L524.7 95 L525.2 95.6 L525.7 96.1 L526.1 96.6 L526.6 97 L527.1 97.5 L527.6 98 L528 98.5 L528.5 98.9 L529 99.4 L529.5 99.8 L529.9 100.2 L530.4 100.7 L530.9 101.1 L531.4 101.5 L531.8 101.9 L532.3 102.3 L532.8 102.7 L533.2 103.1 L533.7 103.5 L534.2 103.9 L534.6 104.2 L535.1 104.6 L535.6 105 L536.1 105.4 L536.5 105.7 L537 106.1 L537.5 106.4 L538 106.8 L538.4 107.1 L538.9 107.4 L539.4 107.8 L539.9 108.1 L540.3 108.4 L540.8 108.8 L541.3 109.1 L541.7 109.4 L542.2 109.7 L542.7 110 L543.2 110.3 L543.6 110.6 L544.1 110.9 L544.6 111.2 L545 111.5 L545.5 111.8 L546 112.1 L546.5 112.4 L546.9 112.7 L547.4 112.9 L547.9 113.2 L548.4 113.5 L548.8 113.8 L549.3 114 L549.8 114.3 L550.2 114.6 L550.7 114.8 L551.2 115.1 L551.7 115.3 L552.1 115.6 L552.6 115.9 L553.1 116.1 L553.5 116.4 L554 116.6 L554.5 116.8 L555 117.1 L555.4 117.3 L555.9 117.6 L556.4 117.8 L556.9 118 L557.3 118.3 L557.8 118.5 L558.3 118.7 L558.7 119 L559.2 119.2 L559.7 119.4 L560.2 119.6 L560.6 119.8 L561.1 120.1 L561.6 120.3 L562 120.5 L562.5 120.7 L563 120.9 L563.5 121.1 L563.9 121.3 L564.4 121.5 L564.9 121.7 L565.4 121.9 L565.8 122.1 L566.3 122.3 L566.8 122.5 L567.2 122.7 L567.7 122.9 L568.2 123.1 L568.7 123.3 L569.1 123.5 L569.6 123.7 L570.1 123.9 L570.5 124 L571 124.2 L571.5 124.4 L572 124.6 L572.4 124.8 L572.9 125 L573.4 125.1 L573.9 125.3 L574.3 125.5 L574.8 125.7 L575.3 125.8 L575.8 126 L576.2 126.2 L576.7 126.3 L577.2 126.5 L577.6 126.7 L578.1 126.8 L578.6 127 L579 127.1 L579.5 127.3 L580 127.5 L580.5 127.6 L580.9 127.8 L581.4 127.9 L581.9 128.1 L582.4 128.2 L582.8 128.4 L583.3 128.5 L583.8 128.7 L584.2 128.8 L584.7 129 L585.2 129.1 L585.7 129.2 L586.1 129.4 L586.6 129.5 L587.1 129.7 L587.6 129.8 L588 129.9 L588.5 130.1 L589 130.2 L589.5 130.3 L589.9 130.5 L590.4 130.6 L590.9 130.7 L591.3 130.9 L591.8 131 L592.3 131.1 L592.8 131.3 L593.2 131.4 L593.7 131.5 L594.2 131.6 L594.6 131.8 L595.1 131.9 L595.6 132 L596.1 132.1 L596.5 132.2 L597 132.3 L597.5 132.5 L598 132.6 L598.4 132.7 L598.9 132.8 L599.4 132.9 L599.8 133 L600.3 133.2 L600.8 133.3 L601.2 133.4 L601.7 133.5 L602.2 133.6 L602.7 133.7 L603.1 133.8 L603.6 133.9 L604.1 134 L604.6 134.1 L605 134.2 L605.5 134.3 L606 134.4 L606.5 134.5 L606.9 134.6 L607.4 134.7 L607.9 134.8 L608.3 134.9 L608.8 135 L609.3 135.1 L609.8 135.2 L610.2 135.3 L610.7 135.4 L611.2 135.5 L611.6 135.6 L612.1 135.7 L612.6 135.8 L613.1 135.9 L613.5 136 L614 136 L614.5 136.1 L615 136.2 L615.4 136.3 L615.9 136.4 L616.4 136.5" fill="none" stroke="#60D360" stroke-width="0.65" stroke-linejoin="round"/>
<path d="M503 35.9 L503.1 37.7 L503.1 39.3 L503.1 40.7 L503.2 41.8 L503.2 42.9 L503.3 43.7 L503.3 44.5 L503.4 45.2 L503.4 45.8 L503.5 46.3 L503.5 46.7 L503.6 47.1 L503.6 47.5 L503.7 47.8 L503.7 48.1 L503.8 48.4 L503.8 48.6 L503.9 48.9 L503.9 49.1 L503.9 49.3" fill="none" stroke="#5660A8" stroke-width="0.65" stroke-linejoin="round" opacity="0.55"/>
<path d="M503.9 49.3 L504 49.5 L504.1 49.6 L504.1 49.8 L504.1 50 L504.2 50.1 L504.2 50.3 L504.3 50.5 L504.3 50.6 L504.4 50.7 L504.4 50.9 L504.5 51 L504.5 51.1 L504.6 51.3 L504.6 51.4 L504.7 51.5 L504.7 51.7 L504.8 51.8 L504.8 51.9 L504.9 52 L504.9 52.2 L504.9 52.3 L505 52.4 L505 52.5 L505.1 52.6 L505.1 52.8 L505.2 52.9 L505.2 53 L505.3 53.1 L505.3 53.2 L505.4 53.4 L505.4 53.5 L505.5 53.6 L505.5 53.7 L505.6 53.9 L505.6 54 L505.6 54.1 L505.7 54.2 L505.8 54.3 L505.8 54.4 L505.8 54.5 L506.3 55.7 L506.8 56.8 L507.3 57.9 L507.7 59 L508.2 60 L508.7 61 L509.1 62 L509.6 63 L510.1 63.9 L510.6 64.8 L511 65.7 L511.5 66.6 L512 67.5 L512.5 68.3 L512.9 69.1 L513.4 69.9 L513.9 70.7 L514.3 71.5 L514.8 72.2 L515.3 73 L515.8 73.7 L516.2 74.4 L516.7 75.1 L517.2 75.8 L517.6 76.4 L518.1 77.1 L518.6 77.7 L519.1 78.3 L519.5 79 L520 79.5 L520.5 80.1 L521 80.7 L521.4 81.3 L521.9 81.8 L522.4 82.4 L522.9 82.9 L523.3 83.4 L523.8 83.9 L524.3 84.5 L524.7 84.9 L525.2 85.4 L525.7 85.9 L526.1 86.4 L526.6 86.8 L527.1 87.3 L527.6 87.7 L528 88.2 L528.5 88.6 L529 89 L529.5 89.4 L529.9 89.8 L530.4 90.3 L530.9 90.7 L531.4 91 L531.8 91.4 L532.3 91.8 L532.8 92.2 L533.2 92.5 L533.7 92.9 L534.2 93.3 L534.6 93.6 L535.1 94 L535.6 94.3 L536.1 94.7 L536.5 95 L537 95.3 L537.5 95.6 L538 96 L538.4 96.3 L538.9 96.6 L539.4 96.9 L539.9 97.2 L540.3 97.5 L540.8 97.8 L541.3 98.1 L541.7 98.4 L542.2 98.7 L542.7 99 L543.2 99.2 L543.6 99.5 L544.1 99.8 L544.6 100 L545 100.3 L545.5 100.6 L546 100.8 L546.5 101.1 L546.9 101.4 L547.4 101.6 L547.9 101.9 L548.4 102.1 L548.8 102.4 L549.3 102.6 L549.8 102.9 L550.2 103.1 L550.7 103.3 L551.2 103.6 L551.7 103.8 L552.1 104 L552.6 104.3 L553.1 104.5 L553.5 104.7 L554 104.9 L554.5 105.2 L555 105.4 L555.4 105.6 L555.9 105.8 L556.4 106 L556.9 106.2 L557.3 106.5 L557.8 106.7 L558.3 106.9 L558.7 107.1 L559.2 107.3 L559.7 107.5 L560.2 107.7 L560.6 107.9 L561.1 108.1 L561.6 108.3 L562 108.5 L562.5 108.7 L563 108.9 L563.5 109.1 L563.9 109.3 L564.4 109.5 L564.9 109.7 L565.4 109.8 L565.8 110 L566.3 110.2 L566.8 110.4 L567.2 110.6 L567.7 110.8 L568.2 110.9 L568.7 111.1 L569.1 111.3 L569.6 111.5 L570.1 111.7 L570.5 111.8 L571 112 L571.5 112.2 L572 112.3 L572.4 112.5 L572.9 112.7 L573.4 112.9 L573.9 113 L574.3 113.2 L574.8 113.4 L575.3 113.5 L575.8 113.7 L576.2 113.9 L576.7 114 L577.2 114.2 L577.6 114.4 L578.1 114.5 L578.6 114.7 L579 114.8 L579.5 115 L580 115.2 L580.5 115.3 L580.9 115.5 L581.4 115.6 L581.9 115.8 L582.4 115.9 L582.8 116.1 L583.3 116.2 L583.8 116.4 L584.2 116.5 L584.7 116.7 L585.2 116.8 L585.7 117 L586.1 117.2 L586.6 117.3 L587.1 117.5 L587.6 117.6 L588 117.7 L588.5 117.9 L589 118 L589.5 118.2 L589.9 118.3 L590.4 118.5 L590.9 118.6 L591.3 118.8 L591.8 118.9 L592.3 119 L592.8 119.2 L593.2 119.3 L593.7 119.5 L594.2 119.6 L594.6 119.7 L595.1 119.9 L595.6 120 L596.1 120.1 L596.5 120.3 L597 120.4 L597.5 120.5 L598 120.7 L598.4 120.8 L598.9 120.9 L599.4 121.1 L599.8 121.2 L600.3 121.3 L600.8 121.5 L601.2 121.6 L601.7 121.7 L602.2 121.9 L602.7 122 L603.1 122.1 L603.6 122.2 L604.1 122.4 L604.6 122.5 L605 122.6 L605.5 122.8 L606 122.9 L606.5 123 L606.9 123.1 L607.4 123.2 L607.9 123.4 L608.3 123.5 L608.8 123.6 L609.3 123.7 L609.8 123.8 L610.2 124 L610.7 124.1 L611.2 124.2 L611.6 124.3 L612.1 124.5 L612.6 124.6 L613.1 124.7 L613.5 124.8 L614 124.9 L614.5 125 L615 125.2 L615.4 125.3 L615.9 125.4 L616.4 125.5" fill="none" stroke="#5660A8" stroke-width="0.65" stroke-linejoin="round"/>
<path d="M503 35.9 L503.1 37.2 L503.1 38.4 L503.1 39.5 L503.2 40.3 L503.2 41.1 L503.3 41.7 L503.3 42.3 L503.4 42.7 L503.4 43.1 L503.5 43.5 L503.5 43.8 L503.6 44.1 L503.6 44.3 L503.7 44.5 L503.7 44.7 L503.8 44.9 L503.8 45 L503.9 45.2 L503.9 45.3 L503.9 45.4" fill="none" stroke="#8E9296" stroke-width="0.65" stroke-linejoin="round" opacity="0.55"/>
<path d="M503.9 45.4 L504 45.5 L504.1 45.6 L504.1 45.7 L504.1 45.8 L504.2 45.9 L504.2 45.9 L504.3 46 L504.3 46.1 L504.4 46.1 L504.4 46.2 L504.5 46.3 L504.5 46.3 L504.6 46.4 L504.6 46.4 L504.7 46.5 L504.7 46.5 L504.8 46.6 L504.8 46.7 L504.9 46.7 L504.9 46.8 L504.9 46.8 L505 46.9 L505 46.9 L505.1 47 L505.1 47 L505.2 47.1 L505.2 47.1 L505.3 47.2 L505.3 47.2 L505.4 47.3 L505.4 47.3 L505.5 47.4 L505.5 47.4 L505.6 47.5 L505.6 47.5 L505.6 47.6 L505.7 47.6 L505.8 47.7 L505.8 47.7 L505.8 47.8 L506.3 48.3 L506.8 48.7 L507.3 49.2 L507.7 49.6 L508.2 50 L508.7 50.4 L509.1 50.8 L509.6 51.2 L510.1 51.6 L510.6 52 L511 52.3 L511.5 52.7 L512 53 L512.5 53.3 L512.9 53.6 L513.4 54 L513.9 54.3 L514.3 54.6 L514.8 54.9 L515.3 55.1 L515.8 55.4 L516.2 55.7 L516.7 55.9 L517.2 56.2 L517.6 56.5 L518.1 56.7 L518.6 56.9 L519.1 57.2 L519.5 57.4 L520 57.6 L520.5 57.9 L521 58.1 L521.4 58.3 L521.9 58.5 L522.4 58.7 L522.9 58.9 L523.3 59.1 L523.8 59.3 L524.3 59.5 L524.7 59.7 L525.2 59.9 L525.7 60.1 L526.1 60.2 L526.6 60.4 L527.1 60.6 L527.6 60.8 L528 61 L528.5 61.1 L529 61.3 L529.5 61.5 L529.9 61.6 L530.4 61.8 L530.9 61.9 L531.4 62.1 L531.8 62.2 L532.3 62.4 L532.8 62.5 L533.2 62.7 L533.7 62.8 L534.2 63 L534.6 63.1 L535.1 63.3 L535.6 63.4 L536.1 63.5 L536.5 63.7 L537 63.8 L537.5 64 L538 64.1 L538.4 64.2 L538.9 64.3 L539.4 64.5 L539.9 64.6 L540.3 64.7 L540.8 64.9 L541.3 65 L541.7 65.1 L542.2 65.2 L542.7 65.3 L543.2 65.5 L543.6 65.6 L544.1 65.7 L544.6 65.8 L545 65.9 L545.5 66 L546 66.2 L546.5 66.3 L546.9 66.4 L547.4 66.5 L547.9 66.6 L548.4 66.7 L548.8 66.8 L549.3 66.9 L549.8 67 L550.2 67.1 L550.7 67.2 L551.2 67.3 L551.7 67.5 L552.1 67.6 L552.6 67.7 L553.1 67.8 L553.5 67.9 L554 68 L554.5 68.1 L555 68.2 L555.4 68.2 L555.9 68.3 L556.4 68.4 L556.9 68.5 L557.3 68.6 L557.8 68.7 L558.3 68.8 L558.7 68.9 L559.2 69 L559.7 69.1 L560.2 69.2 L560.6 69.3 L561.1 69.4 L561.6 69.5 L562 69.5 L562.5 69.6 L563 69.7 L563.5 69.8 L563.9 69.9 L564.4 70 L564.9 70 L565.4 70.1 L565.8 70.2 L566.3 70.3 L566.8 70.4 L567.2 70.5 L567.7 70.5 L568.2 70.6 L568.7 70.7 L569.1 70.8 L569.6 70.9 L570.1 70.9 L570.5 71 L571 71.1 L571.5 71.2 L572 71.2 L572.4 71.3 L572.9 71.4 L573.4 71.5 L573.9 71.5 L574.3 71.6 L574.8 71.7 L575.3 71.8 L575.8 71.8 L576.2 71.9 L576.7 72 L577.2 72 L577.6 72.1 L578.1 72.2 L578.6 72.2 L579 72.3 L579.5 72.4 L580 72.5 L580.5 72.5 L580.9 72.6 L581.4 72.7 L581.9 72.7 L582.4 72.8 L582.8 72.8 L583.3 72.9 L583.8 73 L584.2 73 L584.7 73.1 L585.2 73.2 L585.7 73.2 L586.1 73.3 L586.6 73.4 L587.1 73.4 L587.6 73.5 L588 73.5 L588.5 73.6 L589 73.7 L589.5 73.7 L589.9 73.8 L590.4 73.8 L590.9 73.9 L591.3 74 L591.8 74 L592.3 74.1 L592.8 74.1 L593.2 74.2 L593.7 74.2 L594.2 74.3 L594.6 74.3 L595.1 74.4 L595.6 74.5 L596.1 74.5 L596.5 74.6 L597 74.6 L597.5 74.7 L598 74.7 L598.4 74.8 L598.9 74.8 L599.4 74.9 L599.8 74.9 L600.3 75 L600.8 75 L601.2 75.1 L601.7 75.1 L602.2 75.2 L602.7 75.2 L603.1 75.3 L603.6 75.3 L604.1 75.4 L604.6 75.4 L605 75.5 L605.5 75.5 L606 75.6 L606.5 75.6 L606.9 75.7 L607.4 75.7 L607.9 75.8 L608.3 75.8 L608.8 75.8 L609.3 75.9 L609.8 75.9 L610.2 76 L610.7 76 L611.2 76.1 L611.6 76.1 L612.1 76.1 L612.6 76.2 L613.1 76.2 L613.5 76.3 L614 76.3 L614.5 76.3 L615 76.4 L615.4 76.4 L615.9 76.5 L616.4 76.5" fill="none" stroke="#8E9296" stroke-width="0.65" stroke-linejoin="round"/>
<rect x="500.56" y="33.40" width="4.90" height="4.90" fill="#E2400F"/>
<circle cx="503.01" cy="35.85" r="2.75" fill="#1F6CA3"/>
<path d="M503 33L506.1 38.8L499.9 38.8Z" fill="#FBB515"/>
<path d="M503 38.8L506.1 33L499.9 33Z" fill="#60D360"/>
<path d="M503 32.4L506.5 35.9L503 39.4L499.5 35.9Z" fill="#5660A8"/>
<circle cx="503.01" cy="35.85" r="2.89" fill="#8E9296"/>
<rect x="514.73" y="123.82" width="4.90" height="4.90" fill="#E2400F"/>
<rect x="528.90" y="137.28" width="4.90" height="4.90" fill="#E2400F"/>
<rect x="543.07" y="140.14" width="4.90" height="4.90" fill="#E2400F"/>
<rect x="557.24" y="146.12" width="4.90" height="4.90" fill="#E2400F"/>
<rect x="571.41" y="146.37" width="4.90" height="4.90" fill="#E2400F"/>
<rect x="585.58" y="147.61" width="4.90" height="4.90" fill="#E2400F"/>
<rect x="599.75" y="147.61" width="4.90" height="4.90" fill="#E2400F"/>
<rect x="613.92" y="148.24" width="4.90" height="4.90" fill="#E2400F"/>
<circle cx="517.18" cy="107.47" r="2.75" fill="#1F6CA3"/>
<circle cx="531.35" cy="125.40" r="2.75" fill="#1F6CA3"/>
<circle cx="545.52" cy="135.62" r="2.75" fill="#1F6CA3"/>
<circle cx="559.69" cy="141.10" r="2.75" fill="#1F6CA3"/>
<circle cx="573.86" cy="143.71" r="2.75" fill="#1F6CA3"/>
<circle cx="588.03" cy="145.95" r="2.75" fill="#1F6CA3"/>
<circle cx="602.20" cy="147.45" r="2.75" fill="#1F6CA3"/>
<circle cx="616.37" cy="148.44" r="2.75" fill="#1F6CA3"/>
<path d="M517.2 90.5L520.3 96.3L514.1 96.3Z" fill="#FBB515"/>
<path d="M531.4 107.4L534.5 113.2L528.2 113.2Z" fill="#FBB515"/>
<path d="M545.5 118.4L548.6 124.2L542.4 124.2Z" fill="#FBB515"/>
<path d="M559.7 125.4L562.8 131.2L556.6 131.2Z" fill="#FBB515"/>
<path d="M573.9 130.5L577 136.3L570.8 136.3Z" fill="#FBB515"/>
<path d="M588 134.2L591.1 140L584.9 140Z" fill="#FBB515"/>
<path d="M602.2 136.8L605.3 142.6L599.1 142.6Z" fill="#FBB515"/>
<path d="M616.4 139.8L619.5 145.6L613.3 145.6Z" fill="#FBB515"/>
<path d="M517.2 88.3L520.3 82.5L514.1 82.5Z" fill="#60D360"/>
<path d="M531.4 104.3L534.5 98.5L528.2 98.5Z" fill="#60D360"/>
<path d="M545.5 114.5L548.6 108.7L542.4 108.7Z" fill="#60D360"/>
<path d="M559.7 122.6L562.8 116.8L556.6 116.8Z" fill="#60D360"/>
<path d="M573.9 128.3L577 122.5L570.8 122.5Z" fill="#60D360"/>
<path d="M588 132.8L591.1 127L584.9 127Z" fill="#60D360"/>
<path d="M602.2 136.3L605.3 130.5L599.1 130.5Z" fill="#60D360"/>
<path d="M616.4 139.5L619.5 133.7L613.3 133.7Z" fill="#60D360"/>
<path d="M517.2 73L520.7 76.5L517.2 80L513.7 76.5Z" fill="#5660A8"/>
<path d="M531.4 87.4L534.9 90.9L531.4 94.4L527.9 90.9Z" fill="#5660A8"/>
<path d="M545.5 96.9L549 100.4L545.5 103.9L542 100.4Z" fill="#5660A8"/>
<path d="M559.7 104.3L563.2 107.8L559.7 111.3L556.2 107.8Z" fill="#5660A8"/>
<path d="M573.9 109.1L577.4 112.6L573.9 116.1L570.4 112.6Z" fill="#5660A8"/>
<path d="M588 114.5L591.5 118L588 121.5L584.5 118Z" fill="#5660A8"/>
<path d="M602.2 118.4L605.7 121.9L602.2 125.4L598.7 121.9Z" fill="#5660A8"/>
<path d="M616.4 121.9L619.9 125.4L616.4 128.9L612.9 125.4Z" fill="#5660A8"/>
<path d="M513.7 56.3L519.7 53.1L519.7 59.5Z" fill="#8E9296"/>
<path d="M527.9 62L533.9 58.8L533.9 65.2Z" fill="#8E9296"/>
<path d="M542 66.1L548 62.9L548 69.3Z" fill="#8E9296"/>
<path d="M556.2 69L562.2 65.8L562.2 72.2Z" fill="#8E9296"/>
<path d="M570.4 71.7L576.4 68.5L576.4 74.9Z" fill="#8E9296"/>
<path d="M584.5 73.5L590.5 70.3L590.5 76.7Z" fill="#8E9296"/>
<path d="M598.7 75.1L604.7 71.9L604.7 78.3Z" fill="#8E9296"/>
<path d="M612.9 76.6L618.9 73.4L618.9 79.8Z" fill="#8E9296"/>
<rect x="622.20" y="0.50" width="62.30" height="62.70" fill="#fff" stroke="#555" stroke-width="0.8"/>
<path d="M623.5 6.6H641.5" stroke="#E2400F" stroke-width="0.6" opacity="0.65"/>
<rect x="630.15" y="4.15" width="4.90" height="4.90" fill="#E2400F"/>
<text x="644.70" y="9.45" class="lg">500 μg/mL</text>
<path d="M623.5 17.1H641.5" stroke="#1F6CA3" stroke-width="0.6" opacity="0.65"/>
<circle cx="632.60" cy="17.10" r="2.75" fill="#1F6CA3"/>
<text x="644.70" y="19.95" class="lg">250 μg/mL</text>
<path d="M623.5 27.2H641.5" stroke="#FBB515" stroke-width="0.6" opacity="0.65"/>
<path d="M632.6 23.9L635.7 29.7L629.5 29.7Z" fill="#FBB515"/>
<text x="644.70" y="30.05" class="lg">167 μg/mL</text>
<path d="M623.5 37.4H641.5" stroke="#60D360" stroke-width="0.6" opacity="0.65"/>
<path d="M632.6 40.8L635.7 35L629.5 35Z" fill="#60D360"/>
<text x="644.70" y="40.25" class="lg">125 μg/mL</text>
<path d="M623.5 47.5H641.5" stroke="#5660A8" stroke-width="0.6" opacity="0.65"/>
<path d="M632.6 44L636.1 47.5L632.6 51L629.1 47.5Z" fill="#5660A8"/>
<text x="644.70" y="50.35" class="lg">100 μg/mL</text>
<path d="M623.5 57.9H641.5" stroke="#8E9296" stroke-width="0.6" opacity="0.65"/>
<path d="M629.1 57.9L635.1 54.7L635.1 61.1Z" fill="#8E9296"/>
<text x="644.70" y="60.75" class="lg">25 μg/mL</text>
<path d="M36.6 248.8V385.8H178.3" fill="none" stroke="#1a1a1a" stroke-width="1"/>
<text x="29.60" y="377.68" text-anchor="end" class="tk">0</text>
<text x="29.60" y="354.85" text-anchor="end" class="tk">20</text>
<text x="29.60" y="332.02" text-anchor="end" class="tk">40</text>
<text x="29.60" y="309.18" text-anchor="end" class="tk">60</text>
<text x="29.60" y="286.35" text-anchor="end" class="tk">80</text>
<text x="29.60" y="263.52" text-anchor="end" class="tk">100</text>
<text x="48.41" y="400.20" text-anchor="middle" class="tk">0</text>
<text x="72.03" y="400.20" text-anchor="middle" class="tk">500</text>
<text x="95.64" y="400.20" text-anchor="middle" class="tk">1000</text>
<text x="119.26" y="400.20" text-anchor="middle" class="tk">1500</text>
<text x="142.88" y="400.20" text-anchor="middle" class="tk">2000</text>
<text x="166.49" y="400.20" text-anchor="middle" class="tk">2500</text>
<path d="M34.8 385.8H36.6 M32.6 374.4H36.6 M34.8 363H36.6 M32.6 351.6H36.6 M34.8 340.1H36.6 M32.6 328.7H36.6 M34.8 317.3H36.6 M32.6 305.9H36.6 M34.8 294.5H36.6 M32.6 283.1H36.6 M34.8 271.6H36.6 M32.6 260.2H36.6 M34.8 248.8H36.6 M36.6 385.8V387.6 M48.4 385.8V390 M60.2 385.8V387.6 M72 385.8V390 M83.8 385.8V387.6 M95.6 385.8V390 M107.5 385.8V387.6 M119.3 385.8V390 M131.1 385.8V387.6 M142.9 385.8V390 M154.7 385.8V387.6 M166.5 385.8V390 M178.3 385.8V387.6" fill="none" stroke="#1a1a1a" stroke-width="1"/>
<text x="107.45" y="417.70" text-anchor="middle" class="ti">Time (s)</text>
<text transform="translate(9.30,317.30) rotate(-90)" text-anchor="middle" class="ti" style="font-size:11.25px">Percentage of remaining [DPPH]</text>
<text x="14.10" y="242.30" class="pl">(d)</text>
<path d="M48.7 260.2 L48.8 282.7 L48.8 300.3 L48.9 314.1 L48.9 325 L48.9 333.5 L49 340.2 L49 345.5 L49.1 349.6 L49.1 352.9 L49.2 355.6 L49.2 357.7 L49.3 359.3 L49.3 360.7 L49.4 361.8 L49.4 362.6 L49.5 363.4 L49.5 363.9 L49.6 364.4 L49.6 364.8 L49.6 365.2" fill="none" stroke="#E2400F" stroke-width="0.65" stroke-linejoin="round" opacity="0.55"/>
<path d="M49.6 365.2 L49.7 365.5 L49.8 365.7 L49.8 365.9 L49.8 366.1 L49.9 366.3 L49.9 366.4 L50 366.6 L50 366.7 L50.1 366.8 L50.1 366.9 L50.2 367 L50.2 367 L50.3 367.1 L50.3 367.2 L50.4 367.2 L50.4 367.3 L50.5 367.4 L50.5 367.4 L50.5 367.5 L50.6 367.5 L50.6 367.6 L50.7 367.6 L50.7 367.7 L50.8 367.7 L50.8 367.7 L50.9 367.8 L50.9 367.8 L51 367.9 L51 367.9 L51.1 367.9 L51.1 367.9 L51.2 368 L51.2 368 L51.3 368 L51.3 368.1 L51.4 368.1 L51.4 368.1 L51.5 368.1 L51.5 368.1 L51.5 368.2 L52 368.3 L52.5 368.4 L53 368.5 L53.4 368.6 L53.9 368.6 L54.4 368.6 L54.9 368.6 L55.3 368.6 L55.8 368.7 L56.3 368.7 L56.7 368.7 L57.2 368.7 L57.7 368.7 L58.2 368.7 L58.6 368.7 L59.1 368.7 L59.6 368.7 L60 368.7 L60.5 368.7 L61 368.7 L61.5 368.7 L61.9 368.7 L62.4 368.7 L62.9 368.7 L63.4 368.7 L63.8 368.7 L64.3 368.7 L64.8 368.7 L65.2 368.7 L65.7 368.7 L66.2 368.7 L66.7 368.7 L67.1 368.7 L67.6 368.7 L68.1 368.7 L68.5 368.7 L69 368.7 L69.5 368.7 L70 368.7 L70.4 368.7 L70.9 368.7 L71.4 368.7 L71.8 368.7 L72.3 368.7 L72.8 368.7 L73.3 368.7 L73.7 368.7 L74.2 368.7 L74.7 368.7 L75.2 368.7 L75.6 368.7 L76.1 368.7 L76.6 368.7 L77 368.7 L77.5 368.7 L78 368.7 L78.5 368.7 L78.9 368.7 L79.4 368.7 L79.9 368.7 L80.3 368.7 L80.8 368.7 L81.3 368.7 L81.8 368.7 L82.2 368.7 L82.7 368.7 L83.2 368.7 L83.7 368.7 L84.1 368.7 L84.6 368.7 L85.1 368.7 L85.5 368.7 L86 368.7 L86.5 368.7 L87 368.7 L87.4 368.7 L87.9 368.7 L88.4 368.7 L88.9 368.7 L89.3 368.7 L89.8 368.7 L90.3 368.7 L90.8 368.7 L91.2 368.7 L91.7 368.7 L92.2 368.7 L92.6 368.7 L93.1 368.7 L93.6 368.7 L94 368.7 L94.5 368.7 L95 368.7 L95.5 368.7 L95.9 368.7 L96.4 368.7 L96.9 368.7 L97.4 368.7 L97.8 368.7 L98.3 368.7 L98.8 368.7 L99.2 368.7 L99.7 368.7 L100.2 368.7 L100.7 368.7 L101.1 368.7 L101.6 368.7 L102.1 368.7 L102.5 368.7 L103 368.7 L103.5 368.7 L104 368.7 L104.4 368.7 L104.9 368.7 L105.4 368.7 L105.9 368.7 L106.3 368.7 L106.8 368.7 L107.3 368.7 L107.8 368.7 L108.2 368.7 L108.7 368.7 L109.2 368.7 L109.6 368.7 L110.1 368.7 L110.6 368.7 L111.1 368.7 L111.5 368.7 L112 368.7 L112.5 368.7 L113 368.7 L113.4 368.7 L113.9 368.7 L114.4 368.7 L114.8 368.7 L115.3 368.7 L115.8 368.7 L116.2 368.7 L116.7 368.7 L117.2 368.7 L117.7 368.7 L118.1 368.7 L118.6 368.7 L119.1 368.7 L119.6 368.7 L120 368.7 L120.5 368.7 L121 368.7 L121.5 368.7 L121.9 368.7 L122.4 368.7 L122.9 368.7 L123.3 368.7 L123.8 368.7 L124.3 368.7 L124.8 368.7 L125.2 368.7 L125.7 368.7 L126.2 368.7 L126.6 368.7 L127.1 368.7 L127.6 368.7 L128.1 368.7 L128.5 368.7 L129 368.7 L129.5 368.7 L129.9 368.7 L130.4 368.7 L130.9 368.7 L131.4 368.7 L131.8 368.7 L132.3 368.7 L132.8 368.7 L133.3 368.7 L133.7 368.7 L134.2 368.7 L134.7 368.7 L135.2 368.7 L135.6 368.7 L136.1 368.7 L136.6 368.7 L137 368.7 L137.5 368.7 L138 368.7 L138.4 368.7 L138.9 368.7 L139.4 368.7 L139.9 368.7 L140.3 368.7 L140.8 368.7 L141.3 368.7 L141.8 368.7 L142.2 368.7 L142.7 368.7 L143.2 368.7 L143.7 368.7 L144.1 368.7 L144.6 368.7 L145.1 368.7 L145.5 368.7 L146 368.7 L146.5 368.7 L146.9 368.7 L147.4 368.7 L147.9 368.7 L148.4 368.7 L148.8 368.7 L149.3 368.7 L149.8 368.7 L150.3 368.7 L150.7 368.7 L151.2 368.7 L151.7 368.7 L152.2 368.7 L152.6 368.7 L153.1 368.7 L153.6 368.7 L154 368.7 L154.5 368.7 L155 368.7 L155.5 368.7 L155.9 368.7 L156.4 368.7 L156.9 368.7 L157.3 368.7 L157.8 368.7 L158.3 368.7 L158.8 368.7 L159.2 368.7 L159.7 368.7 L160.2 368.7 L160.7 368.7 L161.1 368.7 L161.6 368.7 L162.1 368.7" fill="none" stroke="#E2400F" stroke-width="0.65" stroke-linejoin="round"/>
<path d="M48.7 260.2 L48.8 276.7 L48.8 289.6 L48.9 299.8 L48.9 307.8 L48.9 314 L49 319 L49 322.9 L49.1 326 L49.1 328.5 L49.2 330.5 L49.2 332.1 L49.3 333.5 L49.3 334.6 L49.4 335.5 L49.4 336.2 L49.5 336.9 L49.5 337.5 L49.6 338 L49.6 338.4 L49.6 338.8" fill="none" stroke="#1F6CA3" stroke-width="0.65" stroke-linejoin="round" opacity="0.55"/>
<path d="M49.6 338.8 L49.7 339.2 L49.8 339.5 L49.8 339.9 L49.8 340.1 L49.9 340.4 L49.9 340.7 L50 341 L50 341.2 L50.1 341.5 L50.1 341.7 L50.2 341.9 L50.2 342.2 L50.3 342.4 L50.3 342.6 L50.4 342.8 L50.4 343.1 L50.5 343.2 L50.5 343.5 L50.5 343.7 L50.6 343.9 L50.6 344.1 L50.7 344.2 L50.7 344.4 L50.8 344.6 L50.8 344.8 L50.9 345 L50.9 345.2 L51 345.4 L51 345.5 L51.1 345.7 L51.1 345.9 L51.2 346.1 L51.2 346.2 L51.3 346.4 L51.3 346.5 L51.4 346.7 L51.4 346.9 L51.5 347 L51.5 347.2 L51.5 347.3 L52 348.7 L52.5 350 L53 351.1 L53.4 352 L53.9 352.9 L54.4 353.6 L54.9 354.3 L55.3 354.9 L55.8 355.5 L56.3 356 L56.7 356.4 L57.2 356.9 L57.7 357.2 L58.2 357.6 L58.6 357.9 L59.1 358.2 L59.6 358.5 L60 358.8 L60.5 359 L61 359.3 L61.5 359.5 L61.9 359.7 L62.4 359.9 L62.9 360.1 L63.4 360.3 L63.8 360.5 L64.3 360.7 L64.8 360.8 L65.2 361 L65.7 361.1 L66.2 361.3 L66.7 361.5 L67.1 361.6 L67.6 361.8 L68.1 361.9 L68.5 362 L69 362.2 L69.5 362.3 L70 362.4 L70.4 362.5 L70.9 362.6 L71.4 362.8 L71.8 362.9 L72.3 363 L72.8 363.1 L73.3 363.2 L73.7 363.3 L74.2 363.4 L74.7 363.5 L75.2 363.6 L75.6 363.7 L76.1 363.8 L76.6 363.9 L77 364 L77.5 364.1 L78 364.2 L78.5 364.3 L78.9 364.4 L79.4 364.4 L79.9 364.5 L80.3 364.6 L80.8 364.7 L81.3 364.8 L81.8 364.8 L82.2 364.9 L82.7 365 L83.2 365 L83.7 365.1 L84.1 365.2 L84.6 365.2 L85.1 365.3 L85.5 365.4 L86 365.4 L86.5 365.5 L87 365.6 L87.4 365.6 L87.9 365.7 L88.4 365.7 L88.9 365.8 L89.3 365.8 L89.8 365.9 L90.3 365.9 L90.8 366 L91.2 366 L91.7 366.1 L92.2 366.1 L92.6 366.2 L93.1 366.2 L93.6 366.3 L94 366.3 L94.5 366.4 L95 366.4 L95.5 366.4 L95.9 366.5 L96.4 366.5 L96.9 366.6 L97.4 366.6 L97.8 366.6 L98.3 366.7 L98.8 366.7 L99.2 366.7 L99.7 366.8 L100.2 366.8 L100.7 366.8 L101.1 366.9 L101.6 366.9 L102.1 366.9 L102.5 367 L103 367 L103.5 367 L104 367.1 L104.4 367.1 L104.9 367.1 L105.4 367.1 L105.9 367.2 L106.3 367.2 L106.8 367.2 L107.3 367.2 L107.8 367.3 L108.2 367.3 L108.7 367.3 L109.2 367.3 L109.6 367.4 L110.1 367.4 L110.6 367.4 L111.1 367.4 L111.5 367.4 L112 367.5 L112.5 367.5 L113 367.5 L113.4 367.5 L113.9 367.5 L114.4 367.6 L114.8 367.6 L115.3 367.6 L115.8 367.6 L116.2 367.6 L116.7 367.6 L117.2 367.7 L117.7 367.7 L118.1 367.7 L118.6 367.7 L119.1 367.7 L119.6 367.7 L120 367.8 L120.5 367.8 L121 367.8 L121.5 367.8 L121.9 367.8 L122.4 367.8 L122.9 367.8 L123.3 367.9 L123.8 367.9 L124.3 367.9 L124.8 367.9 L125.2 367.9 L125.7 367.9 L126.2 367.9 L126.6 367.9 L127.1 367.9 L127.6 367.9 L128.1 368 L128.5 368 L129 368 L129.5 368 L129.9 368 L130.4 368 L130.9 368 L131.4 368 L131.8 368 L132.3 368 L132.8 368.1 L133.3 368.1 L133.7 368.1 L134.2 368.1 L134.7 368.1 L135.2 368.1 L135.6 368.1 L136.1 368.1 L136.6 368.1 L137 368.1 L137.5 368.1 L138 368.1 L138.4 368.1 L138.9 368.1 L139.4 368.1 L139.9 368.2 L140.3 368.2 L140.8 368.2 L141.3 368.2 L141.8 368.2 L142.2 368.2 L142.7 368.2 L143.2 368.2 L143.7 368.2 L144.1 368.2 L144.6 368.2 L145.1 368.2 L145.5 368.2 L146 368.2 L146.5 368.2 L146.9 368.2 L147.4 368.2 L147.9 368.2 L148.4 368.2 L148.8 368.3 L149.3 368.3 L149.8 368.3 L150.3 368.3 L150.7 368.3 L151.2 368.3 L151.7 368.3 L152.2 368.3 L152.6 368.3 L153.1 368.3 L153.6 368.3 L154 368.3 L154.5 368.3 L155 368.3 L155.5 368.3 L155.9 368.3 L156.4 368.3 L156.9 368.3 L157.3 368.3 L157.8 368.3 L158.3 368.3 L158.8 368.3 L159.2 368.3 L159.7 368.3 L160.2 368.3 L160.7 368.3 L161.1 368.3 L161.6 368.3 L162.1 368.4" fill="none" stroke="#1F6CA3" stroke-width="0.65" stroke-linejoin="round"/>
<path d="M48.7 260.2 L48.8 272.8 L48.8 282.6 L48.9 290.2 L48.9 296.2 L48.9 300.9 L49 304.7 L49 307.6 L49.1 309.9 L49.1 311.7 L49.2 313.2 L49.2 314.4 L49.3 315.3 L49.3 316.1 L49.4 316.7 L49.4 317.2 L49.5 317.7 L49.5 318 L49.6 318.4 L49.6 318.6 L49.6 318.9" fill="none" stroke="#FBB515" stroke-width="0.65" stroke-linejoin="round" opacity="0.55"/>
<path d="M49.6 318.9 L49.7 319.1 L49.8 319.3 L49.8 319.5 L49.8 319.7 L49.9 319.9 L49.9 320 L50 320.2 L50 320.3 L50.1 320.5 L50.1 320.6 L50.2 320.8 L50.2 320.9 L50.3 321 L50.3 321.2 L50.4 321.3 L50.4 321.4 L50.5 321.6 L50.5 321.7 L50.5 321.8 L50.6 321.9 L50.6 322.1 L50.7 322.2 L50.7 322.3 L50.8 322.4 L50.8 322.6 L50.9 322.7 L50.9 322.8 L51 322.9 L51 323 L51.1 323.1 L51.1 323.3 L51.2 323.4 L51.2 323.5 L51.3 323.6 L51.3 323.7 L51.4 323.8 L51.4 323.9 L51.5 324 L51.5 324.1 L51.5 324.3 L52 325.3 L52.5 326.2 L53 327.1 L53.4 328 L53.9 328.8 L54.4 329.5 L54.9 330.2 L55.3 330.8 L55.8 331.4 L56.3 332 L56.7 332.5 L57.2 333 L57.7 333.5 L58.2 333.9 L58.6 334.4 L59.1 334.8 L59.6 335.1 L60 335.5 L60.5 335.8 L61 336.2 L61.5 336.5 L61.9 336.8 L62.4 337.1 L62.9 337.3 L63.4 337.6 L63.8 337.8 L64.3 338.1 L64.8 338.3 L65.2 338.5 L65.7 338.8 L66.2 339 L66.7 339.2 L67.1 339.4 L67.6 339.6 L68.1 339.7 L68.5 339.9 L69 340.1 L69.5 340.3 L70 340.4 L70.4 340.6 L70.9 340.8 L71.4 340.9 L71.8 341.1 L72.3 341.2 L72.8 341.4 L73.3 341.5 L73.7 341.7 L74.2 341.8 L74.7 341.9 L75.2 342.1 L75.6 342.2 L76.1 342.3 L76.6 342.5 L77 342.6 L77.5 342.7 L78 342.9 L78.5 343 L78.9 343.1 L79.4 343.2 L79.9 343.3 L80.3 343.4 L80.8 343.6 L81.3 343.7 L81.8 343.8 L82.2 343.9 L82.7 344 L83.2 344.1 L83.7 344.2 L84.1 344.3 L84.6 344.4 L85.1 344.5 L85.5 344.6 L86 344.7 L86.5 344.8 L87 344.9 L87.4 345 L87.9 345.1 L88.4 345.2 L88.9 345.3 L89.3 345.4 L89.8 345.5 L90.3 345.6 L90.8 345.7 L91.2 345.8 L91.7 345.9 L92.2 346 L92.6 346.1 L93.1 346.1 L93.6 346.2 L94 346.3 L94.5 346.4 L95 346.5 L95.5 346.6 L95.9 346.6 L96.4 346.7 L96.9 346.8 L97.4 346.9 L97.8 347 L98.3 347.1 L98.8 347.1 L99.2 347.2 L99.7 347.3 L100.2 347.4 L100.7 347.4 L101.1 347.5 L101.6 347.6 L102.1 347.7 L102.5 347.7 L103 347.8 L103.5 347.9 L104 347.9 L104.4 348 L104.9 348.1 L105.4 348.2 L105.9 348.2 L106.3 348.3 L106.8 348.4 L107.3 348.4 L107.8 348.5 L108.2 348.6 L108.7 348.6 L109.2 348.7 L109.6 348.8 L110.1 348.8 L110.6 348.9 L111.1 348.9 L111.5 349 L112 349.1 L112.5 349.1 L113 349.2 L113.4 349.2 L113.9 349.3 L114.4 349.4 L114.8 349.4 L115.3 349.5 L115.8 349.5 L116.2 349.6 L116.7 349.6 L117.2 349.7 L117.7 349.7 L118.1 349.8 L118.6 349.9 L119.1 349.9 L119.6 350 L120 350 L120.5 350.1 L121 350.1 L121.5 350.2 L121.9 350.2 L122.4 350.3 L122.9 350.3 L123.3 350.4 L123.8 350.4 L124.3 350.4 L124.8 350.5 L125.2 350.6 L125.7 350.6 L126.2 350.6 L126.6 350.7 L127.1 350.7 L127.6 350.8 L128.1 350.8 L128.5 350.9 L129 350.9 L129.5 350.9 L129.9 351 L130.4 351 L130.9 351.1 L131.4 351.1 L131.8 351.2 L132.3 351.2 L132.8 351.2 L133.3 351.3 L133.7 351.3 L134.2 351.4 L134.7 351.4 L135.2 351.4 L135.6 351.5 L136.1 351.5 L136.6 351.6 L137 351.6 L137.5 351.6 L138 351.7 L138.4 351.7 L138.9 351.7 L139.4 351.8 L139.9 351.8 L140.3 351.8 L140.8 351.9 L141.3 351.9 L141.8 351.9 L142.2 352 L142.7 352 L143.2 352.1 L143.7 352.1 L144.1 352.1 L144.6 352.1 L145.1 352.2 L145.5 352.2 L146 352.2 L146.5 352.3 L146.9 352.3 L147.4 352.3 L147.9 352.4 L148.4 352.4 L148.8 352.4 L149.3 352.4 L149.8 352.5 L150.3 352.5 L150.7 352.5 L151.2 352.6 L151.7 352.6 L152.2 352.6 L152.6 352.6 L153.1 352.7 L153.6 352.7 L154 352.7 L154.5 352.8 L155 352.8 L155.5 352.8 L155.9 352.8 L156.4 352.9 L156.9 352.9 L157.3 352.9 L157.8 352.9 L158.3 353 L158.8 353 L159.2 353 L159.7 353 L160.2 353.1 L160.7 353.1 L161.1 353.1 L161.6 353.1 L162.1 353.1" fill="none" stroke="#FBB515" stroke-width="0.65" stroke-linejoin="round"/>
<path d="M48.7 260.2 L48.8 271 L48.8 279.4 L48.9 286 L48.9 291.2 L48.9 295.2 L49 298.4 L49 301 L49.1 303 L49.1 304.6 L49.2 305.9 L49.2 306.9 L49.3 307.7 L49.3 308.4 L49.4 308.9 L49.4 309.4 L49.5 309.8 L49.5 310.1 L49.6 310.4 L49.6 310.7 L49.6 310.9" fill="none" stroke="#60D360" stroke-width="0.65" stroke-linejoin="round" opacity="0.55"/>
<path d="M49.6 310.9 L49.7 311.2 L49.8 311.4 L49.8 311.6 L49.8 311.7 L49.9 311.9 L49.9 312 L50 312.2 L50 312.3 L50.1 312.5 L50.1 312.6 L50.2 312.8 L50.2 312.9 L50.3 313 L50.3 313.2 L50.4 313.3 L50.4 313.4 L50.5 313.6 L50.5 313.7 L50.5 313.8 L50.6 313.9 L50.6 314.1 L50.7 314.2 L50.7 314.3 L50.8 314.4 L50.8 314.5 L50.9 314.6 L50.9 314.8 L51 314.9 L51 315 L51.1 315.1 L51.1 315.2 L51.2 315.3 L51.2 315.4 L51.3 315.6 L51.3 315.7 L51.4 315.8 L51.4 315.9 L51.5 316 L51.5 316.1 L51.5 316.2 L52 317.2 L52.5 318.1 L53 319 L53.4 319.8 L53.9 320.6 L54.4 321.3 L54.9 321.9 L55.3 322.5 L55.8 323.1 L56.3 323.6 L56.7 324.1 L57.2 324.6 L57.7 325 L58.2 325.4 L58.6 325.8 L59.1 326.2 L59.6 326.5 L60 326.8 L60.5 327.1 L61 327.4 L61.5 327.7 L61.9 327.9 L62.4 328.2 L62.9 328.4 L63.4 328.6 L63.8 328.9 L64.3 329.1 L64.8 329.3 L65.2 329.4 L65.7 329.6 L66.2 329.8 L66.7 330 L67.1 330.1 L67.6 330.3 L68.1 330.4 L68.5 330.6 L69 330.7 L69.5 330.9 L70 331 L70.4 331.1 L70.9 331.3 L71.4 331.4 L71.8 331.5 L72.3 331.6 L72.8 331.8 L73.3 331.9 L73.7 332 L74.2 332.1 L74.7 332.2 L75.2 332.3 L75.6 332.4 L76.1 332.5 L76.6 332.6 L77 332.7 L77.5 332.8 L78 332.9 L78.5 333 L78.9 333.1 L79.4 333.2 L79.9 333.3 L80.3 333.4 L80.8 333.5 L81.3 333.6 L81.8 333.7 L82.2 333.8 L82.7 333.9 L83.2 333.9 L83.7 334 L84.1 334.1 L84.6 334.2 L85.1 334.3 L85.5 334.4 L86 334.4 L86.5 334.5 L87 334.6 L87.4 334.7 L87.9 334.8 L88.4 334.9 L88.9 334.9 L89.3 335 L89.8 335.1 L90.3 335.2 L90.8 335.2 L91.2 335.3 L91.7 335.4 L92.2 335.5 L92.6 335.5 L93.1 335.6 L93.6 335.7 L94 335.7 L94.5 335.8 L95 335.9 L95.5 335.9 L95.9 336 L96.4 336.1 L96.9 336.2 L97.4 336.2 L97.8 336.3 L98.3 336.4 L98.8 336.4 L99.2 336.5 L99.7 336.6 L100.2 336.6 L100.7 336.7 L101.1 336.7 L101.6 336.8 L102.1 336.9 L102.5 336.9 L103 337 L103.5 337.1 L104 337.1 L104.4 337.2 L104.9 337.2 L105.4 337.3 L105.9 337.3 L106.3 337.4 L106.8 337.5 L107.3 337.5 L107.8 337.6 L108.2 337.6 L108.7 337.7 L109.2 337.7 L109.6 337.8 L110.1 337.9 L110.6 337.9 L111.1 338 L111.5 338 L112 338.1 L112.5 338.1 L113 338.2 L113.4 338.2 L113.9 338.3 L114.4 338.3 L114.8 338.4 L115.3 338.4 L115.8 338.5 L116.2 338.5 L116.7 338.6 L117.2 338.6 L117.7 338.7 L118.1 338.7 L118.6 338.8 L119.1 338.8 L119.6 338.9 L120 338.9 L120.5 338.9 L121 339 L121.5 339 L121.9 339.1 L122.4 339.1 L122.9 339.2 L123.3 339.2 L123.8 339.3 L124.3 339.3 L124.8 339.3 L125.2 339.4 L125.7 339.4 L126.2 339.5 L126.6 339.5 L127.1 339.6 L127.6 339.6 L128.1 339.6 L128.5 339.7 L129 339.7 L129.5 339.8 L129.9 339.8 L130.4 339.8 L130.9 339.9 L131.4 339.9 L131.8 339.9 L132.3 340 L132.8 340 L133.3 340.1 L133.7 340.1 L134.2 340.1 L134.7 340.2 L135.2 340.2 L135.6 340.2 L136.1 340.3 L136.6 340.3 L137 340.4 L137.5 340.4 L138 340.4 L138.4 340.5 L138.9 340.5 L139.4 340.5 L139.9 340.6 L140.3 340.6 L140.8 340.6 L141.3 340.7 L141.8 340.7 L142.2 340.7 L142.7 340.8 L143.2 340.8 L143.7 340.8 L144.1 340.9 L144.6 340.9 L145.1 340.9 L145.5 340.9 L146 341 L146.5 341 L146.9 341 L147.4 341.1 L147.9 341.1 L148.4 341.1 L148.8 341.1 L149.3 341.2 L149.8 341.2 L150.3 341.2 L150.7 341.3 L151.2 341.3 L151.7 341.3 L152.2 341.4 L152.6 341.4 L153.1 341.4 L153.6 341.4 L154 341.4 L154.5 341.5 L155 341.5 L155.5 341.5 L155.9 341.6 L156.4 341.6 L156.9 341.6 L157.3 341.6 L157.8 341.7 L158.3 341.7 L158.8 341.7 L159.2 341.7 L159.7 341.8 L160.2 341.8 L160.7 341.8 L161.1 341.8 L161.6 341.9 L162.1 341.9" fill="none" stroke="#60D360" stroke-width="0.65" stroke-linejoin="round"/>
<path d="M48.7 260.2 L48.8 269.8 L48.8 277.3 L48.9 283.1 L48.9 287.7 L48.9 291.3 L49 294.1 L49 296.3 L49.1 298.1 L49.1 299.4 L49.2 300.5 L49.2 301.4 L49.3 302.1 L49.3 302.7 L49.4 303.1 L49.4 303.5 L49.5 303.8 L49.5 304.1 L49.6 304.3 L49.6 304.5 L49.6 304.6" fill="none" stroke="#5660A8" stroke-width="0.65" stroke-linejoin="round" opacity="0.55"/>
<path d="M49.6 304.6 L49.7 304.8 L49.8 304.9 L49.8 305.1 L49.8 305.2 L49.9 305.3 L49.9 305.4 L50 305.5 L50 305.6 L50.1 305.6 L50.1 305.7 L50.2 305.8 L50.2 305.9 L50.3 306 L50.3 306 L50.4 306.1 L50.4 306.2 L50.5 306.2 L50.5 306.3 L50.5 306.4 L50.6 306.5 L50.6 306.5 L50.7 306.6 L50.7 306.7 L50.8 306.7 L50.8 306.8 L50.9 306.9 L50.9 306.9 L51 307 L51 307.1 L51.1 307.1 L51.1 307.2 L51.2 307.2 L51.2 307.3 L51.3 307.4 L51.3 307.4 L51.4 307.5 L51.4 307.5 L51.5 307.6 L51.5 307.6 L51.5 307.7 L52 308.2 L52.5 308.7 L53 309.1 L53.4 309.5 L53.9 309.9 L54.4 310.2 L54.9 310.5 L55.3 310.8 L55.8 311 L56.3 311.3 L56.7 311.5 L57.2 311.7 L57.7 311.9 L58.2 312.1 L58.6 312.2 L59.1 312.4 L59.6 312.6 L60 312.7 L60.5 312.9 L61 313 L61.5 313.1 L61.9 313.2 L62.4 313.4 L62.9 313.5 L63.4 313.6 L63.8 313.7 L64.3 313.8 L64.8 313.9 L65.2 314 L65.7 314.1 L66.2 314.2 L66.7 314.3 L67.1 314.4 L67.6 314.5 L68.1 314.6 L68.5 314.7 L69 314.8 L69.5 314.9 L70 315 L70.4 315.1 L70.9 315.2 L71.4 315.3 L71.8 315.3 L72.3 315.4 L72.8 315.5 L73.3 315.6 L73.7 315.7 L74.2 315.8 L74.7 315.9 L75.2 315.9 L75.6 316 L76.1 316.1 L76.6 316.2 L77 316.2 L77.5 316.3 L78 316.4 L78.5 316.5 L78.9 316.6 L79.4 316.6 L79.9 316.7 L80.3 316.8 L80.8 316.9 L81.3 316.9 L81.8 317 L82.2 317.1 L82.7 317.1 L83.2 317.2 L83.7 317.3 L84.1 317.4 L84.6 317.4 L85.1 317.5 L85.5 317.6 L86 317.6 L86.5 317.7 L87 317.8 L87.4 317.8 L87.9 317.9 L88.4 318 L88.9 318 L89.3 318.1 L89.8 318.2 L90.3 318.2 L90.8 318.3 L91.2 318.4 L91.7 318.4 L92.2 318.5 L92.6 318.6 L93.1 318.6 L93.6 318.7 L94 318.7 L94.5 318.8 L95 318.9 L95.5 318.9 L95.9 319 L96.4 319 L96.9 319.1 L97.4 319.1 L97.8 319.2 L98.3 319.3 L98.8 319.3 L99.2 319.4 L99.7 319.4 L100.2 319.5 L100.7 319.5 L101.1 319.6 L101.6 319.6 L102.1 319.7 L102.5 319.8 L103 319.8 L103.5 319.9 L104 319.9 L104.4 320 L104.9 320 L105.4 320.1 L105.9 320.1 L106.3 320.2 L106.8 320.2 L107.3 320.3 L107.8 320.3 L108.2 320.4 L108.7 320.4 L109.2 320.5 L109.6 320.5 L110.1 320.6 L110.6 320.6 L111.1 320.7 L111.5 320.7 L112 320.8 L112.5 320.8 L113 320.9 L113.4 320.9 L113.9 320.9 L114.4 321 L114.8 321 L115.3 321.1 L115.8 321.1 L116.2 321.2 L116.7 321.2 L117.2 321.2 L117.7 321.3 L118.1 321.3 L118.6 321.4 L119.1 321.4 L119.6 321.5 L120 321.5 L120.5 321.6 L121 321.6 L121.5 321.6 L121.9 321.7 L122.4 321.7 L122.9 321.8 L123.3 321.8 L123.8 321.8 L124.3 321.9 L124.8 321.9 L125.2 321.9 L125.7 322 L126.2 322 L126.6 322.1 L127.1 322.1 L127.6 322.1 L128.1 322.2 L128.5 322.2 L129 322.2 L129.5 322.3 L129.9 322.3 L130.4 322.4 L130.9 322.4 L131.4 322.4 L131.8 322.5 L132.3 322.5 L132.8 322.5 L133.3 322.6 L133.7 322.6 L134.2 322.6 L134.7 322.7 L135.2 322.7 L135.6 322.7 L136.1 322.8 L136.6 322.8 L137 322.8 L137.5 322.9 L138 322.9 L138.4 322.9 L138.9 323 L139.4 323 L139.9 323 L140.3 323.1 L140.8 323.1 L141.3 323.1 L141.8 323.1 L142.2 323.2 L142.7 323.2 L143.2 323.2 L143.7 323.3 L144.1 323.3 L144.6 323.3 L145.1 323.4 L145.5 323.4 L146 323.4 L146.5 323.4 L146.9 323.5 L147.4 323.5 L147.9 323.5 L148.4 323.5 L148.8 323.6 L149.3 323.6 L149.8 323.6 L150.3 323.6 L150.7 323.7 L151.2 323.7 L151.7 323.7 L152.2 323.8 L152.6 323.8 L153.1 323.8 L153.6 323.8 L154 323.9 L154.5 323.9 L155 323.9 L155.5 323.9 L155.9 324 L156.4 324 L156.9 324 L157.3 324 L157.8 324.1 L158.3 324.1 L158.8 324.1 L159.2 324.1 L159.7 324.1 L160.2 324.2 L160.7 324.2 L161.1 324.2 L161.6 324.2 L162.1 324.3" fill="none" stroke="#5660A8" stroke-width="0.65" stroke-linejoin="round"/>
<rect x="46.26" y="257.77" width="4.90" height="4.90" fill="#E2400F"/>
<circle cx="48.71" cy="260.22" r="2.75" fill="#1F6CA3"/>
<path d="M48.7 257.3L51.8 263.1L45.6 263.1Z" fill="#FBB515"/>
<path d="M48.7 263.1L51.8 257.3L45.6 257.3Z" fill="#60D360"/>
<path d="M48.7 256.7L52.2 260.2L48.7 263.7L45.2 260.2Z" fill="#5660A8"/>
<rect x="60.43" y="366.23" width="4.90" height="4.90" fill="#E2400F"/>
<rect x="74.60" y="366.23" width="4.90" height="4.90" fill="#E2400F"/>
<rect x="88.77" y="366.23" width="4.90" height="4.90" fill="#E2400F"/>
<rect x="102.94" y="366.23" width="4.90" height="4.90" fill="#E2400F"/>
<rect x="117.11" y="366.23" width="4.90" height="4.90" fill="#E2400F"/>
<rect x="131.28" y="366.23" width="4.90" height="4.90" fill="#E2400F"/>
<rect x="145.45" y="366.23" width="4.90" height="4.90" fill="#E2400F"/>
<rect x="159.62" y="366.23" width="4.90" height="4.90" fill="#E2400F"/>
<circle cx="62.88" cy="359.66" r="2.75" fill="#1F6CA3"/>
<circle cx="77.05" cy="363.88" r="2.75" fill="#1F6CA3"/>
<circle cx="91.22" cy="366.05" r="2.75" fill="#1F6CA3"/>
<circle cx="105.39" cy="367.42" r="2.75" fill="#1F6CA3"/>
<circle cx="119.56" cy="367.99" r="2.75" fill="#1F6CA3"/>
<circle cx="133.73" cy="368.10" r="2.75" fill="#1F6CA3"/>
<circle cx="147.90" cy="368.10" r="2.75" fill="#1F6CA3"/>
<circle cx="162.07" cy="368.10" r="2.75" fill="#1F6CA3"/>
<path d="M62.9 334L66 339.8L59.8 339.8Z" fill="#FBB515"/>
<path d="M77 340.2L80.2 346L74 346Z" fill="#FBB515"/>
<path d="M91.2 342.7L94.3 348.5L88.1 348.5Z" fill="#FBB515"/>
<path d="M105.4 345.2L108.5 351L102.3 351Z" fill="#FBB515"/>
<path d="M119.6 347.2L122.7 353L116.5 353Z" fill="#FBB515"/>
<path d="M133.7 348.2L136.8 354L130.6 354Z" fill="#FBB515"/>
<path d="M147.9 349.3L151 355.1L144.8 355.1Z" fill="#FBB515"/>
<path d="M162.1 350.5L165.2 356.3L159 356.3Z" fill="#FBB515"/>
<path d="M62.9 330.7L66 324.9L59.8 324.9Z" fill="#60D360"/>
<path d="M77 336.2L80.2 330.4L74 330.4Z" fill="#60D360"/>
<path d="M91.2 338.5L94.3 332.7L88.1 332.7Z" fill="#60D360"/>
<path d="M105.4 340.1L108.5 334.3L102.3 334.3Z" fill="#60D360"/>
<path d="M119.6 341.6L122.7 335.8L116.5 335.8Z" fill="#60D360"/>
<path d="M133.7 342.7L136.8 336.9L130.6 336.9Z" fill="#60D360"/>
<path d="M147.9 343.9L151 338.1L144.8 338.1Z" fill="#60D360"/>
<path d="M162.1 345.1L165.2 339.3L159 339.3Z" fill="#60D360"/>
<path d="M62.9 309.8L66.4 313.3L62.9 316.8L59.4 313.3Z" fill="#5660A8"/>
<path d="M77 313L80.5 316.5L77 320L73.5 316.5Z" fill="#5660A8"/>
<path d="M91.2 314.9L94.7 318.4L91.2 321.9L87.7 318.4Z" fill="#5660A8"/>
<path d="M105.4 316.4L108.9 319.9L105.4 323.4L101.9 319.9Z" fill="#5660A8"/>
<path d="M119.6 317.8L123.1 321.3L119.6 324.8L116.1 321.3Z" fill="#5660A8"/>
<path d="M133.7 319.2L137.2 322.7L133.7 326.2L130.2 322.7Z" fill="#5660A8"/>
<path d="M147.9 320.1L151.4 323.6L147.9 327.1L144.4 323.6Z" fill="#5660A8"/>
<path d="M162.1 320.8L165.6 324.3L162.1 327.8L158.6 324.3Z" fill="#5660A8"/>
<rect x="153.30" y="233.50" width="69.10" height="53.10" fill="#fff" stroke="#555" stroke-width="0.8"/>
<path d="M154.6 239.5H173" stroke="#E2400F" stroke-width="0.6" opacity="0.65"/>
<rect x="161.15" y="237.05" width="4.90" height="4.90" fill="#E2400F"/>
<text x="175.80" y="242.35" class="lg">25.00 μg/mL</text>
<path d="M154.6 250H173" stroke="#1F6CA3" stroke-width="0.6" opacity="0.65"/>
<circle cx="163.60" cy="250.00" r="2.75" fill="#1F6CA3"/>
<text x="175.80" y="252.85" class="lg">14.28 μg/mL</text>
<path d="M154.6 259.9H173" stroke="#FBB515" stroke-width="0.6" opacity="0.65"/>
<path d="M163.6 256.6L166.7 262.4L160.5 262.4Z" fill="#FBB515"/>
<text x="175.80" y="262.75" class="lg">10.00 μg/mL</text>
<path d="M154.6 270.2H173" stroke="#60D360" stroke-width="0.6" opacity="0.65"/>
<path d="M163.6 273.6L166.7 267.8L160.5 267.8Z" fill="#60D360"/>
<text x="175.80" y="273.05" class="lg">07.69 μg/mL</text>
<path d="M154.6 280.2H173" stroke="#5660A8" stroke-width="0.6" opacity="0.65"/>
<path d="M163.6 276.7L167.1 280.2L163.6 283.7L160.1 280.2Z" fill="#5660A8"/>
<text x="175.80" y="283.05" class="lg">06.25 μg/mL</text>
<path d="M263.8 248.8V385.8H405.5" fill="none" stroke="#1a1a1a" stroke-width="1"/>
<text x="256.80" y="381.04" text-anchor="end" class="tk">30</text>
<text x="256.80" y="364.92" text-anchor="end" class="tk">40</text>
<text x="256.80" y="348.81" text-anchor="end" class="tk">50</text>
<text x="256.80" y="332.69" text-anchor="end" class="tk">60</text>
<text x="256.80" y="316.57" text-anchor="end" class="tk">70</text>
<text x="256.80" y="300.45" text-anchor="end" class="tk">80</text>
<text x="256.80" y="284.34" text-anchor="end" class="tk">90</text>
<text x="256.80" y="268.22" text-anchor="end" class="tk">100</text>
<text x="256.80" y="252.10" text-anchor="end" class="tk">110</text>
<text x="275.61" y="400.20" text-anchor="middle" class="tk">0</text>
<text x="299.23" y="400.20" text-anchor="middle" class="tk">500</text>
<text x="322.84" y="400.20" text-anchor="middle" class="tk">1000</text>
<text x="346.46" y="400.20" text-anchor="middle" class="tk">1500</text>
<text x="370.07" y="400.20" text-anchor="middle" class="tk">2000</text>
<text x="393.69" y="400.20" text-anchor="middle" class="tk">2500</text>
<path d="M262 385.8H263.8 M259.8 377.7H263.8 M262 369.7H263.8 M259.8 361.6H263.8 M262 353.6H263.8 M259.8 345.5H263.8 M262 337.4H263.8 M259.8 329.4H263.8 M262 321.3H263.8 M259.8 313.3H263.8 M262 305.2H263.8 M259.8 297.1H263.8 M262 289.1H263.8 M259.8 281H263.8 M262 273H263.8 M259.8 264.9H263.8 M262 256.9H263.8 M259.8 248.8H263.8 M263.8 385.8V387.6 M275.6 385.8V390 M287.4 385.8V387.6 M299.2 385.8V390 M311 385.8V387.6 M322.8 385.8V390 M334.6 385.8V387.6 M346.5 385.8V390 M358.3 385.8V387.6 M370.1 385.8V390 M381.9 385.8V387.6 M393.7 385.8V390 M405.5 385.8V387.6" fill="none" stroke="#1a1a1a" stroke-width="1"/>
<text x="334.65" y="417.70" text-anchor="middle" class="ti">Time (s)</text>
<text transform="translate(236.50,317.30) rotate(-90)" text-anchor="middle" class="ti" style="font-size:11.25px">Percentage of remaining [DPPH]</text>
<text x="241.50" y="239.50" class="pl">(e)</text>
<path d="M275.9 264.9 L276 274.5 L276 282.4 L276.1 288.9 L276.1 294.2 L276.1 298.6 L276.2 302.3 L276.2 305.3 L276.3 307.9 L276.3 310 L276.4 311.7 L276.4 313.2 L276.5 314.4 L276.5 315.5 L276.6 316.4 L276.6 317.2 L276.7 317.9 L276.7 318.4 L276.8 319 L276.8 319.4 L276.9 319.8" fill="none" stroke="#E2400F" stroke-width="0.65" stroke-linejoin="round" opacity="0.55"/>
<path d="M276.9 319.8 L276.9 320.2 L276.9 320.6 L277 320.9 L277 321.1 L277.1 321.4 L277.1 321.7 L277.2 321.9 L277.2 322.2 L277.3 322.4 L277.3 322.6 L277.4 322.8 L277.4 323 L277.5 323.2 L277.5 323.4 L277.6 323.6 L277.6 323.8 L277.7 324 L277.7 324.2 L277.8 324.4 L277.8 324.6 L277.8 324.8 L277.9 324.9 L277.9 325.1 L278 325.3 L278 325.5 L278.1 325.6 L278.1 325.8 L278.2 326 L278.2 326.1 L278.3 326.3 L278.3 326.5 L278.4 326.7 L278.4 326.8 L278.5 327 L278.5 327.1 L278.6 327.3 L278.6 327.5 L278.6 327.6 L278.7 327.8 L278.7 328 L279.2 329.5 L279.7 331 L280.2 332.4 L280.6 333.7 L281.1 335 L281.6 336.2 L282.1 337.4 L282.5 338.5 L283 339.5 L283.5 340.5 L283.9 341.5 L284.4 342.4 L284.9 343.3 L285.4 344.2 L285.8 345 L286.3 345.8 L286.8 346.6 L287.2 347.3 L287.7 348 L288.2 348.7 L288.7 349.4 L289.1 350.1 L289.6 350.7 L290.1 351.3 L290.6 351.9 L291 352.4 L291.5 353 L292 353.5 L292.4 354.1 L292.9 354.6 L293.4 355.1 L293.9 355.5 L294.3 356 L294.8 356.4 L295.3 356.9 L295.8 357.3 L296.2 357.7 L296.7 358.1 L297.2 358.5 L297.6 358.9 L298.1 359.3 L298.6 359.7 L299.1 360 L299.5 360.4 L300 360.7 L300.5 361 L300.9 361.4 L301.4 361.7 L301.9 362 L302.4 362.3 L302.8 362.6 L303.3 362.8 L303.8 363.1 L304.2 363.4 L304.7 363.6 L305.2 363.9 L305.7 364.1 L306.1 364.4 L306.6 364.6 L307.1 364.9 L307.6 365.1 L308 365.3 L308.5 365.5 L309 365.7 L309.4 365.9 L309.9 366.1 L310.4 366.3 L310.9 366.5 L311.3 366.7 L311.8 366.9 L312.3 367.1 L312.8 367.2 L313.2 367.4 L313.7 367.6 L314.2 367.7 L314.6 367.9 L315.1 368 L315.6 368.2 L316.1 368.3 L316.5 368.5 L317 368.6 L317.5 368.8 L317.9 368.9 L318.4 369 L318.9 369.1 L319.4 369.3 L319.8 369.4 L320.3 369.5 L320.8 369.6 L321.2 369.7 L321.7 369.8 L322.2 369.9 L322.7 370 L323.1 370.1 L323.6 370.2 L324.1 370.3 L324.6 370.4 L325 370.5 L325.5 370.6 L326 370.7 L326.4 370.8 L326.9 370.9 L327.4 370.9 L327.9 371 L328.3 371.1 L328.8 371.2 L329.3 371.2 L329.8 371.3 L330.2 371.4 L330.7 371.5 L331.2 371.5 L331.6 371.6 L332.1 371.7 L332.6 371.7 L333.1 371.8 L333.5 371.8 L334 371.9 L334.5 371.9 L334.9 372 L335.4 372.1 L335.9 372.1 L336.4 372.2 L336.8 372.2 L337.3 372.3 L337.8 372.3 L338.3 372.4 L338.7 372.4 L339.2 372.4 L339.7 372.5 L340.1 372.5 L340.6 372.6 L341.1 372.6 L341.6 372.6 L342 372.7 L342.5 372.7 L343 372.8 L343.4 372.8 L343.9 372.8 L344.4 372.9 L344.9 372.9 L345.3 372.9 L345.8 373 L346.3 373 L346.8 373 L347.2 373.1 L347.7 373.1 L348.2 373.1 L348.6 373.1 L349.1 373.2 L349.6 373.2 L350.1 373.2 L350.5 373.2 L351 373.3 L351.5 373.3 L351.9 373.3 L352.4 373.3 L352.9 373.4 L353.4 373.4 L353.8 373.4 L354.3 373.4 L354.8 373.4 L355.3 373.5 L355.7 373.5 L356.2 373.5 L356.7 373.5 L357.1 373.5 L357.6 373.6 L358.1 373.6 L358.6 373.6 L359 373.6 L359.5 373.6 L360 373.6 L360.5 373.6 L360.9 373.7 L361.4 373.7 L361.9 373.7 L362.4 373.7 L362.8 373.7 L363.3 373.7 L363.8 373.7 L364.2 373.8 L364.7 373.8 L365.2 373.8 L365.6 373.8 L366.1 373.8 L366.6 373.8 L367.1 373.8 L367.5 373.8 L368 373.8 L368.5 373.9 L369 373.9 L369.4 373.9 L369.9 373.9 L370.4 373.9 L370.9 373.9 L371.3 373.9 L371.8 373.9 L372.3 373.9 L372.7 373.9 L373.2 373.9 L373.7 373.9 L374.1 373.9 L374.6 374 L375.1 374 L375.6 374 L376 374 L376.5 374 L377 374 L377.5 374 L377.9 374 L378.4 374 L378.9 374 L379.4 374 L379.8 374 L380.3 374 L380.8 374 L381.2 374 L381.7 374.1 L382.2 374.1 L382.7 374.1 L383.1 374.1 L383.6 374.1 L384.1 374.1 L384.6 374.1 L385 374.1 L385.5 374.1 L386 374.1 L386.4 374.1 L386.9 374.1 L387.4 374.1 L387.9 374.1 L388.3 374.1 L388.8 374.1 L389.3 374.1" fill="none" stroke="#E2400F" stroke-width="0.65" stroke-linejoin="round"/>
<path d="M275.9 264.9 L276 265.5 L276 266.1 L276.1 266.6 L276.1 267.2 L276.1 267.7 L276.2 268.3 L276.2 268.8 L276.3 269.3 L276.3 269.8 L276.4 270.3 L276.4 270.8 L276.5 271.3 L276.5 271.8 L276.6 272.2 L276.6 272.7 L276.7 273.1 L276.7 273.6 L276.8 274 L276.8 274.4 L276.9 274.9" fill="none" stroke="#1F6CA3" stroke-width="0.65" stroke-linejoin="round" opacity="0.55"/>
<path d="M276.9 274.9 L276.9 275.3 L276.9 275.7 L277 276.1 L277 276.5 L277.1 276.9 L277.1 277.2 L277.2 277.6 L277.2 278 L277.3 278.3 L277.3 278.7 L277.4 279.1 L277.4 279.4 L277.5 279.7 L277.5 280.1 L277.6 280.4 L277.6 280.7 L277.7 281.1 L277.7 281.4 L277.8 281.7 L277.8 282 L277.8 282.3 L277.9 282.6 L277.9 282.9 L278 283.1 L278 283.4 L278.1 283.7 L278.1 284 L278.2 284.3 L278.2 284.5 L278.3 284.8 L278.3 285.1 L278.4 285.3 L278.4 285.6 L278.5 285.8 L278.5 286 L278.6 286.3 L278.6 286.5 L278.6 286.8 L278.7 287 L278.7 287.2 L279.2 289.3 L280.2 292.8 L281.1 295.6 L282.1 297.8 L283 299.8 L283.9 301.5 L284.9 303 L285.8 304.4 L286.8 305.8 L287.7 307 L288.7 308.2 L289.6 309.4 L290.6 310.5 L291.5 311.6 L292.4 312.7 L293.4 313.7 L294.3 314.7 L295.3 315.7 L296.2 316.7 L297.2 317.6 L298.1 318.6 L299.1 319.5 L300 320.4 L300.9 321.3 L301.9 322.1 L302.8 323 L303.8 323.8 L304.7 324.6 L305.7 325.4 L306.6 326.6 L307.6 326.5 L308.5 328.4 L309.4 328.1 L310.4 329.8 L311.3 329.2 L312.3 330.7 L313.2 330.4 L314.2 332 L315.1 331.8 L316.1 333.3 L317 333.3 L317.9 334.8 L318.9 333.8 L319.8 335.7 L320.8 335.5 L321.7 337.3 L322.7 335.9 L323.6 338.3 L324.6 337.5 L325.5 339.7 L326.4 338.8 L327.4 340.6 L328.3 339.5 L328.8 340.3 L329.3 337.6 L329.8 340.7 L330.2 341.3 L331.2 341.1 L332.1 342.3 L333.1 341.3 L334 343.1 L334.9 342.3 L335.4 343.3 L335.9 335.4 L336.4 343.7 L336.8 344.7 L337.8 343.7 L338.7 345.4 L339.2 344.8 L339.7 340.2 L340.1 345.2 L340.6 345.1 L341.6 346 L342.5 345.7 L343.4 347.2 L344.4 346.1 L345.3 347.6 L346.3 346.6 L347.2 348.3 L348.2 347.5 L349.1 349.2 L350.1 347.7 L351 349.3 L351.9 348.4 L352.9 350.1 L353.8 348.7 L354.8 350.9 L355.7 349.7 L356.7 351.6 L357.6 350.4 L358.6 351 L359.5 351.2 L360.5 351.4 L361.4 351.7 L362.4 351.9 L363.3 352.1 L364.2 352.3 L365.2 352.5 L366.1 352.7 L367.1 352.9 L368 353.1 L369 353.3 L369.9 353.5 L370.9 353.7 L371.8 353.9 L372.7 354 L373.7 354.2 L374.6 354.4 L375.6 354.6 L376.5 354.7 L377.5 354.9 L378.4 355 L379.4 355.2 L380.3 355.3 L381.2 355.5 L382.2 355.6 L383.1 355.8 L384.1 355.9 L385 356 L386 356.2 L386.9 356.3 L387.9 356.4 L388.8 356.5" fill="none" stroke="#1F6CA3" stroke-width="0.65" stroke-linejoin="round"/>
<path d="M275.9 264.9 L276 265.1 L276 265.2 L276.1 265.3 L276.1 265.4 L276.1 265.6 L276.2 265.6 L276.2 265.8 L276.3 265.8 L276.3 265.9 L276.4 266 L276.4 266.1 L276.5 266.2 L276.5 266.3 L276.6 266.4 L276.6 266.4 L276.7 266.5 L276.7 266.6 L276.8 266.7 L276.8 266.8 L276.9 266.8" fill="none" stroke="#FBB515" stroke-width="0.65" stroke-linejoin="round" opacity="0.55"/>
<path d="M276.9 266.8 L276.9 266.9 L276.9 267 L277 267.1 L277 267.1 L277.1 267.2 L277.1 267.3 L277.2 267.4 L277.2 267.4 L277.3 267.5 L277.3 267.6 L277.4 267.6 L277.4 267.7 L277.5 267.8 L277.5 267.9 L277.6 267.9 L277.6 268 L277.7 268.1 L277.7 268.1 L277.8 268.2 L277.8 268.3 L277.8 268.3 L277.9 268.4 L277.9 268.5 L278 268.5 L278 268.6 L278.1 268.7 L278.1 268.7 L278.2 268.8 L278.2 268.9 L278.3 268.9 L278.3 269 L278.4 269 L278.4 269.1 L278.5 269.2 L278.5 269.2 L278.6 269.3 L278.6 269.4 L278.6 269.4 L278.7 269.5 L278.7 269.5 L279.2 270.1 L279.8 270.9 L280.4 271.5 L280.9 272.2 L281.5 272.9 L282.1 273.5 L282.6 274.1 L283.2 274.8 L283.8 275.4 L284.3 276 L284.9 276.6 L285.4 277.1 L286 277.7 L286.6 278.3 L287.1 278.9 L287.7 279.4 L288.3 280 L288.9 280.5 L289.4 281.1 L290 281.6 L290.6 281.7 L291.1 281.7 L291.7 281.7 L292.2 281.7 L292.8 281.9 L293.4 282.9 L293.9 283.9 L294.5 284.8 L295.1 285.7 L295.6 286.6 L296.2 287.4 L296.8 288.2 L297.4 288.9 L297.9 289.7 L298.5 290.4 L299.1 279.4 L299.6 291.6 L300.2 292.2 L300.8 292.7 L301.3 293.1 L301.9 293.6 L302.4 293.9 L303 294.2 L303.6 294.4 L304.1 294.6 L304.7 294.1 L305.3 294.1 L305.9 294.9 L306.4 294.8 L307 295.7 L307.6 295.7 L308.1 296.3 L308.7 296.2 L309.3 297.1 L309.8 297.1 L310.4 298 L311 297.7 L311.5 298.7 L312.1 298.4 L312.7 299.3 L313.2 299.2 L313.8 300 L314.4 299.6 L314.9 300.6 L315.5 300.3 L316.1 301.3 L316.6 301.2 L317.2 301.9 L317.8 301.6 L318.3 302.4 L318.9 302.4 L319.5 303.2 L320 302.9 L320.6 303.8 L321.2 303.4 L321.7 304.3 L322.3 303.9 L322.9 304.8 L323.4 304.6 L324 305.4 L324.6 305.1 L325.1 306.1 L325.7 305.9 L326.3 306.4 L326.8 306.4 L327.4 307.2 L328 306.8 L328.5 307.6 L329.1 307.4 L329.7 308.1 L330.2 307.9 L330.8 308.5 L331.4 308.3 L331.9 309.1 L332.5 308.7 L333.1 309.6 L333.6 309.2 L334.2 310.1 L334.8 309.6 L335.3 310.6 L335.9 310.3 L336.5 311.1 L337 310.5 L337.6 311.5 L338.2 311.1 L338.7 311.9 L339.3 311.7 L339.9 312.4 L340.4 312 L341 312.6 L341.6 312.6 L342.1 313.2 L342.7 312.7 L343.3 313.4 L343.8 313.1 L344.4 313.9 L345 313.7 L345.5 314.2 L346.1 313.9 L346.7 314.8 L347.2 314.5 L347.8 315.1 L348.4 314.9 L348.9 315.5 L349.5 315.2 L350.1 315.9 L350.6 315.3 L351.2 316.1 L351.8 315.7 L352.3 316.4 L352.9 316.3 L353.5 316.9 L354 316.7 L354.6 317.1 L355.2 316.9 L355.7 317.5 L356.3 317.3 L356.9 317.7 L357.4 317.4 L358 318.1 L358.6 317.7 L359.1 318.6 L359.7 318.2 L360.3 318.7 L360.8 318.4 L361.4 319.1 L362 318.7 L362.5 319.4 L363.1 319 L363.7 319.8 L364.2 319.3 L364.8 319.9 L365.4 319.5 L365.9 320.1 L366.5 319.9 L367.1 320.6 L367.6 320.1 L368.2 320.8 L368.8 320.5 L369.3 321 L369.9 320.6 L370.5 321.1 L371 320.9 L371.6 321.6 L372.2 321.3 L372.7 321.8 L373.3 321.4 L373.9 322.1 L374.4 321.7 L375 322.3 L375.6 321.8 L376.1 322.3 L376.7 322.2 L377.3 322.8 L377.8 322.2 L378.4 322.8 L379 322.6 L379.5 323.2 L380.1 322.8 L380.7 323.3 L381.2 323 L381.8 323.5 L382.4 323.1 L382.9 323.7 L383.5 323.4 L384.1 324.1 L384.6 323.7 L385.2 324.2 L385.8 323.7 L386.3 324.3 L386.9 324.1 L387.5 324.7 L388 324.2 L388.6 324.6 L389.2 324.4" fill="none" stroke="#FBB515" stroke-width="0.65" stroke-linejoin="round"/>
<path d="M275.9 264.9 L276 266.6 L276 267.9 L276.1 269 L276.1 269.9 L276.1 270.7 L276.2 271.3 L276.2 271.8 L276.3 272.2 L276.3 272.6 L276.4 272.9 L276.4 273.1 L276.5 273.3 L276.5 273.4 L276.6 273.6 L276.6 273.7 L276.7 273.8 L276.7 273.9 L276.8 274 L276.8 274 L276.9 274.1" fill="none" stroke="#60D360" stroke-width="0.65" stroke-linejoin="round" opacity="0.55"/>
<path d="M276.9 274.1 L276.9 274.1 L276.9 274.1 L277 274.2 L277 274.2 L277.1 274.2 L277.1 274.3 L277.2 274.3 L277.2 274.3 L277.3 274.4 L277.3 274.4 L277.4 274.4 L277.4 274.4 L277.5 274.4 L277.5 274.4 L277.6 274.5 L277.6 274.5 L277.7 274.5 L277.7 274.5 L277.8 274.5 L277.8 274.5 L277.8 274.6 L277.9 274.6 L277.9 274.6 L278 274.6 L278 274.6 L278.1 274.6 L278.1 274.6 L278.2 274.7 L278.2 274.7 L278.3 274.7 L278.3 274.7 L278.4 274.7 L278.4 274.8 L278.5 274.8 L278.5 274.8 L278.6 274.8 L278.6 274.8 L278.6 274.8 L278.7 274.8 L278.7 274.9 L279.2 275 L279.7 275.2 L280.2 275.3 L280.6 275.5 L281.1 275.6 L281.6 275.8 L282.1 275.9 L282.5 276 L283 276.2 L283.5 276.3 L283.9 276.5 L284.4 276.6 L284.9 276.7 L285.4 276.9 L285.8 277 L286.3 277.1 L286.8 277.3 L287.2 277.4 L287.7 277.6 L288.2 277.7 L288.7 277.8 L289.1 277.9 L289.6 278.1 L290.1 278.2 L290.6 278.3 L291 278.4 L291.5 278.6 L292 278.7 L292.4 278.8 L292.9 278.9 L293.4 279.1 L293.9 279.2 L294.3 279.3 L294.8 279.4 L295.3 279.5 L295.8 279.6 L296.2 279.7 L296.7 279.9 L297.2 280 L297.6 280.1 L298.1 280.2 L298.6 280.3 L299.1 280.4 L299.5 280.5 L300 280.6 L300.5 280.7 L300.9 280.8 L301.4 280.9 L301.9 281 L302.4 281.1 L302.8 281.2 L303.3 281.4 L303.8 281.4 L304.2 281.6 L304.7 281.6 L305.2 281.7 L305.7 281.8 L306.1 281.9 L306.6 282 L307.1 282.1 L307.6 282.2 L308 282.3 L308.5 282.4 L309 282.5 L309.4 282.6 L309.9 282.7 L310.4 282.8 L310.9 282.9 L311.3 282.9 L311.8 283 L312.3 283.1 L312.8 283.2 L313.2 283.3 L313.7 283.4 L314.2 283.5 L314.6 283.6 L315.1 283.6 L315.6 283.7 L316.1 283.8 L316.5 283.9 L317 283.9 L317.5 284 L317.9 284.1 L318.4 284.2 L318.9 284.3 L319.4 284.3 L319.8 284.4 L320.3 284.5 L320.8 284.6 L321.2 284.6 L321.7 284.7 L322.2 284.8 L322.7 284.9 L323.1 284.9 L323.6 285 L324.1 285.1 L324.6 285.1 L325 285.2 L325.5 285.3 L326 285.4 L326.4 285.4 L326.9 285.5 L327.4 285.6 L327.9 285.6 L328.3 285.7 L328.8 285.8 L329.3 285.8 L329.8 285.9 L330.2 285.9 L330.7 286 L331.2 286.1 L331.6 286.1 L332.1 286.2 L332.6 286.3 L333.1 286.3 L333.5 286.4 L334 286.4 L334.5 286.5 L334.9 286.6 L335.4 286.6 L335.9 286.7 L336.4 286.7 L336.8 286.8 L337.3 286.9 L337.8 286.9 L338.3 287 L338.7 287 L339.2 287.1 L339.7 287.1 L340.1 287.2 L340.6 287.2 L341.1 287.3 L341.6 287.4 L342 287.4 L342.5 287.4 L343 287.5 L343.4 287.6 L343.9 287.6 L344.4 287.6 L344.9 287.7 L345.3 287.8 L345.8 287.8 L346.3 287.9 L346.8 287.9 L347.2 287.9 L347.7 288 L348.2 288 L348.6 288.1 L349.1 288.1 L349.6 288.2 L350.1 288.2 L350.5 288.3 L351 288.3 L351.5 288.4 L351.9 288.4 L352.4 288.4 L352.9 288.5 L353.4 288.5 L353.8 288.6 L354.3 288.6 L354.8 288.7 L355.3 288.7 L355.7 288.8 L356.2 288.8 L356.7 288.8 L357.1 288.9 L357.6 288.9 L358.1 288.9 L358.6 289 L359 289 L359.5 289.1 L360 289.1 L360.5 289.1 L360.9 289.2 L361.4 289.2 L361.9 289.3 L362.4 289.3 L362.8 289.3 L363.3 289.4 L363.8 289.4 L364.2 289.4 L364.7 289.5 L365.2 289.5 L365.6 289.6 L366.1 289.6 L366.6 289.6 L367.1 289.6 L367.5 289.7 L368 289.7 L368.5 289.8 L369 289.8 L369.4 289.8 L369.9 289.9 L370.4 289.9 L370.9 289.9 L371.3 289.9 L371.8 290 L372.3 290 L372.7 290 L373.2 290.1 L373.7 290.1 L374.1 290.1 L374.6 290.2 L375.1 290.2 L375.6 290.2 L376 290.2 L376.5 290.3 L377 290.3 L377.5 290.3 L377.9 290.4 L378.4 290.4 L378.9 290.4 L379.4 290.4 L379.8 290.5 L380.3 290.5 L380.8 290.5 L381.2 290.6 L381.7 290.6 L382.2 290.6 L382.7 290.6 L383.1 290.7 L383.6 290.7 L384.1 290.7 L384.6 290.7 L385 290.8 L385.5 290.8 L386 290.8 L386.4 290.8 L386.9 290.9 L387.4 290.9 L387.9 290.9 L388.3 290.9 L388.8 291 L389.3 291" fill="none" stroke="#60D360" stroke-width="0.65" stroke-linejoin="round"/>
<path d="M275.9 264.9 L276 266.4 L276 267.6 L276.1 268.6 L276.1 269.5 L276.1 270.2 L276.2 270.7 L276.2 271.2 L276.3 271.6 L276.3 271.9 L276.4 272.2 L276.4 272.4 L276.5 272.6 L276.5 272.8 L276.6 272.9 L276.6 273 L276.7 273.1 L276.7 273.2 L276.8 273.3 L276.8 273.3 L276.9 273.4" fill="none" stroke="#5660A8" stroke-width="0.65" stroke-linejoin="round" opacity="0.55"/>
<path d="M276.9 273.4 L276.9 273.4 L276.9 273.5 L277 273.5 L277 273.6 L277.1 273.6 L277.1 273.6 L277.2 273.7 L277.2 273.7 L277.3 273.7 L277.3 273.8 L277.4 273.8 L277.4 273.8 L277.5 273.8 L277.5 273.9 L277.6 273.9 L277.6 273.9 L277.7 273.9 L277.7 273.9 L277.8 274 L277.8 274 L277.8 274 L277.9 274 L277.9 274 L278 274.1 L278 274.1 L278.1 274.1 L278.1 274.1 L278.2 274.1 L278.2 274.1 L278.3 274.1 L278.3 274.2 L278.4 274.2 L278.4 274.2 L278.5 274.2 L278.5 274.2 L278.6 274.2 L278.6 274.3 L278.6 274.3 L278.7 274.3 L278.7 274.3 L279.2 274.4 L279.7 274.6 L280.2 274.7 L280.6 274.8 L281.1 274.9 L281.6 275 L282.1 275.1 L282.5 275.2 L283 275.3 L283.5 275.4 L283.9 275.4 L284.4 275.5 L284.9 275.6 L285.4 275.6 L285.8 275.7 L286.3 275.8 L286.8 275.9 L287.2 275.9 L287.7 276 L288.2 276.1 L288.7 276.1 L289.1 276.2 L289.6 276.3 L290.1 276.3 L290.6 276.4 L291 276.5 L291.5 276.5 L292 276.6 L292.4 276.6 L292.9 276.7 L293.4 276.8 L293.9 276.8 L294.3 276.9 L294.8 276.9 L295.3 277 L295.8 277.1 L296.2 277.1 L296.7 277.2 L297.2 277.2 L297.6 277.3 L298.1 277.4 L298.6 277.4 L299.1 277.5 L299.5 277.5 L300 277.6 L300.5 277.6 L300.9 277.7 L301.4 277.8 L301.9 277.8 L302.4 277.9 L302.8 277.9 L303.3 278 L303.8 278 L304.2 278.1 L304.7 278.1 L305.2 278.2 L305.7 278.2 L306.1 278.3 L306.6 278.4 L307.1 278.4 L307.6 278.5 L308 278.5 L308.5 278.6 L309 278.6 L309.4 278.7 L309.9 278.7 L310.4 278.8 L310.9 278.8 L311.3 278.9 L311.8 278.9 L312.3 279 L312.8 279 L313.2 279.1 L313.7 279.1 L314.2 279.2 L314.6 279.2 L315.1 279.2 L315.6 279.3 L316.1 279.3 L316.5 279.4 L317 279.4 L317.5 279.5 L317.9 279.5 L318.4 279.6 L318.9 279.6 L319.4 279.7 L319.8 279.7 L320.3 279.8 L320.8 279.8 L321.2 279.8 L321.7 279.9 L322.2 279.9 L322.7 280 L323.1 280 L323.6 280.1 L324.1 280.1 L324.6 280.1 L325 280.2 L325.5 280.2 L326 280.3 L326.4 280.3 L326.9 280.4 L327.4 280.4 L327.9 280.4 L328.3 280.5 L328.8 280.5 L329.3 280.6 L329.8 280.6 L330.2 280.6 L330.7 280.7 L331.2 280.7 L331.6 280.7 L332.1 280.8 L332.6 280.8 L333.1 280.9 L333.5 280.9 L334 280.9 L334.5 281 L334.9 281 L335.4 281 L335.9 281.1 L336.4 281.1 L336.8 281.1 L337.3 281.2 L337.8 281.2 L338.3 281.3 L338.7 281.3 L339.2 281.3 L339.7 281.4 L340.1 281.4 L340.6 281.4 L341.1 281.5 L341.6 281.5 L342 281.5 L342.5 281.6 L343 281.6 L343.4 281.6 L343.9 281.7 L344.4 281.7 L344.9 281.7 L345.3 281.8 L345.8 281.8 L346.3 281.8 L346.8 281.9 L347.2 281.9 L347.7 281.9 L348.2 282 L348.6 282 L349.1 282 L349.6 282.1 L350.1 282.1 L350.5 282.1 L351 282.1 L351.5 282.2 L351.9 282.2 L352.4 282.2 L352.9 282.3 L353.4 282.3 L353.8 282.3 L354.3 282.4 L354.8 282.4 L355.3 282.4 L355.7 282.4 L356.2 282.5 L356.7 282.5 L357.1 282.5 L357.6 282.6 L358.1 282.6 L358.6 282.6 L359 282.6 L359.5 282.7 L360 282.7 L360.5 282.7 L360.9 282.7 L361.4 282.8 L361.9 282.8 L362.4 282.8 L362.8 282.9 L363.3 282.9 L363.8 282.9 L364.2 282.9 L364.7 282.9 L365.2 283 L365.6 283 L366.1 283 L366.6 283.1 L367.1 283.1 L367.5 283.1 L368 283.1 L368.5 283.1 L369 283.2 L369.4 283.2 L369.9 283.2 L370.4 283.2 L370.9 283.3 L371.3 283.3 L371.8 283.3 L372.3 283.3 L372.7 283.4 L373.2 283.4 L373.7 283.4 L374.1 283.4 L374.6 283.5 L375.1 283.5 L375.6 283.5 L376 283.5 L376.5 283.6 L377 283.6 L377.5 283.6 L377.9 283.6 L378.4 283.6 L378.9 283.6 L379.4 283.7 L379.8 283.7 L380.3 283.7 L380.8 283.7 L381.2 283.8 L381.7 283.8 L382.2 283.8 L382.7 283.8 L383.1 283.8 L383.6 283.9 L384.1 283.9 L384.6 283.9 L385 283.9 L385.5 283.9 L386 284 L386.4 284 L386.9 284 L387.4 284 L387.9 284 L388.3 284.1 L388.8 284.1 L389.3 284.1" fill="none" stroke="#5660A8" stroke-width="0.65" stroke-linejoin="round"/>
<rect x="273.46" y="262.47" width="4.90" height="4.90" fill="#E2400F"/>
<circle cx="275.91" cy="264.92" r="2.75" fill="#1F6CA3"/>
<path d="M275.9 262L279 267.8L272.8 267.8Z" fill="#FBB515"/>
<path d="M275.9 267.8L279 262L272.8 262Z" fill="#60D360"/>
<path d="M275.9 261.4L279.4 264.9L275.9 268.4L272.4 264.9Z" fill="#5660A8"/>
<rect x="287.63" y="348.86" width="4.90" height="4.90" fill="#E2400F"/>
<rect x="301.80" y="360.46" width="4.90" height="4.90" fill="#E2400F"/>
<rect x="315.97" y="366.59" width="4.90" height="4.90" fill="#E2400F"/>
<rect x="330.14" y="369.65" width="4.90" height="4.90" fill="#E2400F"/>
<rect x="344.31" y="371.10" width="4.90" height="4.90" fill="#E2400F"/>
<rect x="358.48" y="371.26" width="4.90" height="4.90" fill="#E2400F"/>
<rect x="372.65" y="371.26" width="4.90" height="4.90" fill="#E2400F"/>
<rect x="386.82" y="371.26" width="4.90" height="4.90" fill="#E2400F"/>
<circle cx="290.08" cy="310.53" r="2.75" fill="#1F6CA3"/>
<circle cx="304.25" cy="322.94" r="2.75" fill="#1F6CA3"/>
<circle cx="318.42" cy="334.55" r="2.75" fill="#1F6CA3"/>
<circle cx="332.59" cy="342.93" r="2.75" fill="#1F6CA3"/>
<circle cx="346.76" cy="347.76" r="2.75" fill="#1F6CA3"/>
<circle cx="360.93" cy="351.31" r="2.75" fill="#1F6CA3"/>
<circle cx="375.10" cy="354.37" r="2.75" fill="#1F6CA3"/>
<circle cx="389.27" cy="356.47" r="2.75" fill="#1F6CA3"/>
<path d="M290.1 279.4L293.2 285.2L287 285.2Z" fill="#FBB515"/>
<path d="M304.2 291.7L307.4 297.5L301.1 297.5Z" fill="#FBB515"/>
<path d="M318.4 297.8L321.5 303.6L315.3 303.6Z" fill="#FBB515"/>
<path d="M332.6 307.1L335.7 312.9L329.5 312.9Z" fill="#FBB515"/>
<path d="M346.8 311.5L349.9 317.3L343.7 317.3Z" fill="#FBB515"/>
<path d="M360.9 316L364 321.8L357.8 321.8Z" fill="#FBB515"/>
<path d="M375.1 318.8L378.2 324.6L372 324.6Z" fill="#FBB515"/>
<path d="M389.3 321.8L392.4 327.6L386.2 327.6Z" fill="#FBB515"/>
<path d="M290.1 280.2L293.2 274.4L287 274.4Z" fill="#60D360"/>
<path d="M304.2 285.2L307.4 279.4L301.1 279.4Z" fill="#60D360"/>
<path d="M318.4 287.6L321.5 281.8L315.3 281.8Z" fill="#60D360"/>
<path d="M332.6 288.9L335.7 283.1L329.5 283.1Z" fill="#60D360"/>
<path d="M346.8 290.1L349.9 284.3L343.7 284.3Z" fill="#60D360"/>
<path d="M360.9 292L364 286.2L357.8 286.2Z" fill="#60D360"/>
<path d="M375.1 293.3L378.2 287.5L372 287.5Z" fill="#60D360"/>
<path d="M389.3 294.1L392.4 288.3L386.2 288.3Z" fill="#60D360"/>
<path d="M290.1 272.7L293.6 276.2L290.1 279.7L286.6 276.2Z" fill="#5660A8"/>
<path d="M304.2 275L307.8 278.5L304.2 282L300.8 278.5Z" fill="#5660A8"/>
<path d="M318.4 275.9L321.9 279.4L318.4 282.9L314.9 279.4Z" fill="#5660A8"/>
<path d="M332.6 277.1L336.1 280.6L332.6 284.1L329.1 280.6Z" fill="#5660A8"/>
<path d="M346.8 278.3L350.3 281.8L346.8 285.3L343.3 281.8Z" fill="#5660A8"/>
<path d="M360.9 279.5L364.4 283L360.9 286.5L357.4 283Z" fill="#5660A8"/>
<path d="M375.1 280.1L378.6 283.6L375.1 287.1L371.6 283.6Z" fill="#5660A8"/>
<path d="M389.3 280.4L392.8 283.9L389.3 287.4L385.8 283.9Z" fill="#5660A8"/>
<rect x="383.60" y="227.50" width="67.40" height="52.70" fill="#fff" stroke="#555" stroke-width="0.8"/>
<path d="M384.6 233.6H403.3" stroke="#E2400F" stroke-width="0.6" opacity="0.65"/>
<rect x="391.65" y="231.15" width="4.90" height="4.90" fill="#E2400F"/>
<text x="405.40" y="236.45" class="lg">7.57 mg/mL</text>
<path d="M384.6 244.1H403.3" stroke="#1F6CA3" stroke-width="0.6" opacity="0.65"/>
<circle cx="394.10" cy="244.10" r="2.75" fill="#1F6CA3"/>
<text x="405.40" y="246.95" class="lg">5.00 mg/mL</text>
<path d="M384.6 254.4H403.3" stroke="#FBB515" stroke-width="0.6" opacity="0.65"/>
<path d="M394.1 251.1L397.2 256.9L391 256.9Z" fill="#FBB515"/>
<text x="405.40" y="257.25" class="lg">2.00 mg/mL</text>
<path d="M384.6 264.6H403.3" stroke="#60D360" stroke-width="0.6" opacity="0.65"/>
<path d="M394.1 268L397.2 262.2L391 262.2Z" fill="#60D360"/>
<text x="405.40" y="267.45" class="lg">0.50 mg/mL</text>
<path d="M384.6 274.9H403.3" stroke="#5660A8" stroke-width="0.6" opacity="0.65"/>
<path d="M394.1 271.4L397.6 274.9L394.1 278.4L390.6 274.9Z" fill="#5660A8"/>
<text x="405.40" y="277.75" class="lg">0.25 mg/mL</text>
<path d="M490.5 248.8V385.8H632.2" fill="none" stroke="#1a1a1a" stroke-width="1"/>
<text x="483.50" y="389.10" text-anchor="end" class="tk">0</text>
<text x="483.50" y="364.19" text-anchor="end" class="tk">20</text>
<text x="483.50" y="339.28" text-anchor="end" class="tk">40</text>
<text x="483.50" y="314.37" text-anchor="end" class="tk">60</text>
<text x="483.50" y="289.46" text-anchor="end" class="tk">80</text>
<text x="483.50" y="264.55" text-anchor="end" class="tk">100</text>
<text x="502.31" y="400.20" text-anchor="middle" class="tk">0</text>
<text x="525.92" y="400.20" text-anchor="middle" class="tk">500</text>
<text x="549.54" y="400.20" text-anchor="middle" class="tk">1000</text>
<text x="573.16" y="400.20" text-anchor="middle" class="tk">1500</text>
<text x="596.77" y="400.20" text-anchor="middle" class="tk">2000</text>
<text x="620.39" y="400.20" text-anchor="middle" class="tk">2500</text>
<path d="M486.5 385.8H490.5 M488.7 373.4H490.5 M486.5 360.9H490.5 M488.7 348.4H490.5 M486.5 336H490.5 M488.7 323.5H490.5 M486.5 311.1H490.5 M488.7 298.6H490.5 M486.5 286.2H490.5 M488.7 273.7H490.5 M486.5 261.2H490.5 M488.7 248.8H490.5 M490.5 385.8V387.6 M502.3 385.8V390 M514.1 385.8V387.6 M525.9 385.8V390 M537.7 385.8V387.6 M549.5 385.8V390 M561.4 385.8V387.6 M573.2 385.8V390 M585 385.8V387.6 M596.8 385.8V390 M608.6 385.8V387.6 M620.4 385.8V390 M632.2 385.8V387.6" fill="none" stroke="#1a1a1a" stroke-width="1"/>
<text x="561.35" y="417.70" text-anchor="middle" class="ti">Time (s)</text>
<text transform="translate(463.20,317.30) rotate(-90)" text-anchor="middle" class="ti" style="font-size:11.25px">Percentage of remaining [DPPH]</text>
<text x="472.30" y="239.50" class="pl">(f)</text>
<path d="M502.6 261.2 L503 369.6" fill="none" stroke="#E2400F" stroke-width="0.65" stroke-linejoin="round" opacity="0.25"/>
<path d="M503 369.6 L505.4 369.9 L507.7 370.1 L510 370.7 L512.2 371 L514.5 371.5 L516.8 372.4 L519.6 372.7 L522.5 372.4 L525.3 373 L528.1 373.3 L531 373 L533.8 373.3 L536.6 373 L539.5 373.2 L542.3 373 L545.1 373.4 L548 373 L550.8 372.8 L553.6 373.1 L556.5 372.9 L559.3 373 L562.1 372.5 L565 371.1 L567.8 370.3 L570.6 369.7 L573.5 369 L576.3 368.2 L579.1 368.3 L582 367.9 L584.8 367.6 L587.6 367.6 L590.5 367.6 L593.3 368.1 L596.1 367.9 L599 368.3 L601.8 368 L604.6 368.1 L607.5 368.8 L610.3 368.8 L613.1 368.8 L616 368.3" fill="none" stroke="#E2400F" stroke-width="0.65" stroke-linejoin="round"/>
<path d="M502.6 261.2 L503 365.9" fill="none" stroke="#1F6CA3" stroke-width="0.65" stroke-linejoin="round" opacity="0.25"/>
<path d="M503 365.9 L505.4 365.9 L507.7 365.2 L510 364.8 L512.2 364 L514.5 363.5 L516.8 362.9 L519.6 362.9 L522.5 363.1 L525.3 363.1 L528.1 363.4 L531 363.4 L533.8 363.6 L536.6 363.6 L539.5 363.9 L542.3 364.4 L545.1 364 L548 363.9 L550.8 363.9 L553.6 364.2 L556.5 364.1 L559.3 364.5 L562.1 364.1 L565 364.3 L567.8 364.6 L570.6 364.8 L573.5 364.2 L576.3 364.1 L579.1 364.8 L582 364.3 L584.8 364.6 L587.6 364.8 L590.5 364.7 L593.3 364.3 L596.1 364.2 L599 364.8 L601.8 364.4 L604.6 364.8 L607.5 364.3 L610.3 364.6 L613.1 364.2 L616 364.1" fill="none" stroke="#1F6CA3" stroke-width="0.65" stroke-linejoin="round"/>
<path d="M502.6 261.2 L503 337.9" fill="none" stroke="#FBB515" stroke-width="0.65" stroke-linejoin="round" opacity="0.25"/>
<path d="M503 337.9 L505.4 337.8 L507.7 337.5 L510 338.1 L512.2 338.3 L514.5 338 L516.8 338.4 L519.6 338.3 L522.5 338.2 L525.3 338 L528.1 338.4 L531 338.4 L533.8 337.8 L536.6 338.2 L539.5 337.8 L542.3 337.8 L545.1 338.2 L548 338.1 L550.8 338.1 L553.6 338 L556.5 338 L559.3 338.1 L562.1 338 L565 337.8 L567.8 338.1 L570.6 338.1 L573.5 337.9 L576.3 338.3 L579.1 338.2 L582 337.7 L584.8 338.1 L587.6 338.1 L590.5 338.5 L593.3 338.2 L596.1 338 L599 338.5 L601.8 338 L604.6 338 L607.5 338.4 L610.3 338 L613.1 338.1 L616 338" fill="none" stroke="#FBB515" stroke-width="0.65" stroke-linejoin="round"/>
<path d="M502.6 261.2 L503 329.8" fill="none" stroke="#60D360" stroke-width="0.65" stroke-linejoin="round" opacity="0.25"/>
<path d="M503 329.8 L505.4 329.9 L507.7 329.8 L510 330 L512.2 330.7 L514.5 330.9 L516.8 330.6 L519.6 330.4 L522.5 330.9 L525.3 330.8 L528.1 330.7 L531 330.9 L533.8 330.9 L536.6 330.9 L539.5 330.9 L542.3 330.7 L545.1 330.9 L548 330.8 L550.8 330.6 L553.6 331.1 L556.5 330.7 L559.3 330.6 L562.1 330.9 L565 331 L567.8 330.5 L570.6 330.9 L573.5 331 L576.3 330.8 L579.1 330.6 L582 331.1 L584.8 330.9 L587.6 330.9 L590.5 330.5 L593.3 330.8 L596.1 330.5 L599 331 L601.8 330.9 L604.6 330.6 L607.5 330.5 L610.3 330.8 L613.1 331 L616 331" fill="none" stroke="#60D360" stroke-width="0.65" stroke-linejoin="round"/>
<path d="M502.6 261.2 L503 318.6" fill="none" stroke="#5660A8" stroke-width="0.65" stroke-linejoin="round" opacity="0.25"/>
<path d="M503 318.6 L505.4 318.5 L507.7 318.4 L510 317.5 L512.2 317.1 L514.5 317.2 L516.8 316.7 L519.6 315.9 L522.5 315.7 L525.3 315.2 L528.1 315.2 L531 315 L533.8 315 L536.6 314.9 L539.5 315.4 L542.3 315.6 L545.1 315.7 L548 315.9 L550.8 316 L553.6 315.7 L556.5 316.4 L559.3 316.7 L562.1 315.9 L565 315.9 L567.8 315.8 L570.6 316.1 L573.5 315.7 L576.3 315.8 L579.1 316.4 L582 316 L584.8 316 L587.6 316.2 L590.5 316.3 L593.3 316.5 L596.1 316.4 L599 316.5 L601.8 316.6 L604.6 316.2 L607.5 316.5 L610.3 316.1 L613.1 316.6 L616 316" fill="none" stroke="#5660A8" stroke-width="0.65" stroke-linejoin="round"/>
<path d="M502.6 261.2 L503 303.6" fill="none" stroke="#8E9296" stroke-width="0.65" stroke-linejoin="round" opacity="0.25"/>
<path d="M503 303.6 L505.4 303.4 L507.7 302.8 L510 302.4 L512.2 301.9 L514.5 301.6 L516.8 301.6 L519.6 301.1 L522.5 301.5 L525.3 301.4 L528.1 301.1 L531 301.2 L533.8 301.3 L536.6 300.9 L539.5 301.1 L542.3 301.4 L545.1 301.4 L548 301 L550.8 301.2 L553.6 301 L556.5 301.3 L559.3 301.5 L562.1 301.2 L565 301 L567.8 301.5 L570.6 301 L573.5 300.9 L576.3 301 L579.1 301 L582 301.6 L584.8 301.1 L587.6 301 L590.5 301.6 L593.3 301.4 L596.1 301.4 L599 301.2 L601.8 301.3 L604.6 301.2 L607.5 301 L610.3 301.6 L613.1 301.6 L616 301.5" fill="none" stroke="#8E9296" stroke-width="0.65" stroke-linejoin="round"/>
<path d="M502.6 261.2 L503 286.8" fill="none" stroke="#F8646A" stroke-width="0.65" stroke-linejoin="round" opacity="0.25"/>
<path d="M503 286.8 L505.4 287.2 L507.7 287.2 L510 286.6 L512.2 286.8 L514.5 287.4 L516.8 287.2 L519.6 287.3 L522.5 287.3 L525.3 287.3 L528.1 287.1 L531 287.1 L533.8 287.3 L536.6 287.4 L539.5 287.3 L542.3 287.4 L545.1 287.1 L548 287 L550.8 287.2 L553.6 287.5 L556.5 287.4 L559.3 287.2 L562.1 287.1 L565 286.9 L567.8 287.2 L570.6 286.9 L573.5 287.1 L576.3 287.2 L579.1 287.3 L582 287.2 L584.8 287 L587.6 287.2 L590.5 287 L593.3 287.2 L596.1 287.4 L599 287.1 L601.8 287 L604.6 287.5 L607.5 287.2 L610.3 287.2 L613.1 286.9 L616 286.8" fill="none" stroke="#F8646A" stroke-width="0.65" stroke-linejoin="round"/>
<rect x="500.16" y="258.80" width="4.90" height="4.90" fill="#E2400F"/>
<circle cx="502.61" cy="261.25" r="2.75" fill="#1F6CA3"/>
<path d="M502.6 258.4L505.7 264.1L499.5 264.1Z" fill="#FBB515"/>
<path d="M502.6 264.1L505.7 258.4L499.5 258.4Z" fill="#60D360"/>
<path d="M502.6 257.8L506.1 261.2L502.6 264.8L499.1 261.2Z" fill="#5660A8"/>
<path d="M499.1 261.2L505.1 258.1L505.1 264.4Z" fill="#8E9296"/>
<path d="M506.3 261.2L500.6 257.9L500.6 264.6Z" fill="#F8646A"/>
<path d="M506.3 261.2L500.6 257.9L500.6 264.6Z" fill="#F8646A"/>
<rect x="514.33" y="369.65" width="4.90" height="4.90" fill="#E2400F"/>
<rect x="528.50" y="370.90" width="4.90" height="4.90" fill="#E2400F"/>
<rect x="542.67" y="370.65" width="4.90" height="4.90" fill="#E2400F"/>
<rect x="556.84" y="370.65" width="4.90" height="4.90" fill="#E2400F"/>
<rect x="571.01" y="366.16" width="4.90" height="4.90" fill="#E2400F"/>
<rect x="585.18" y="365.29" width="4.90" height="4.90" fill="#E2400F"/>
<rect x="599.35" y="365.91" width="4.90" height="4.90" fill="#E2400F"/>
<rect x="613.52" y="366.16" width="4.90" height="4.90" fill="#E2400F"/>
<circle cx="516.78" cy="362.76" r="2.75" fill="#1F6CA3"/>
<circle cx="530.95" cy="363.76" r="2.75" fill="#1F6CA3"/>
<circle cx="545.12" cy="364.25" r="2.75" fill="#1F6CA3"/>
<circle cx="559.29" cy="364.25" r="2.75" fill="#1F6CA3"/>
<circle cx="573.46" cy="364.50" r="2.75" fill="#1F6CA3"/>
<circle cx="587.63" cy="364.50" r="2.75" fill="#1F6CA3"/>
<circle cx="601.80" cy="364.50" r="2.75" fill="#1F6CA3"/>
<circle cx="615.97" cy="364.50" r="2.75" fill="#1F6CA3"/>
<path d="M516.8 335.2L519.9 341L513.7 341Z" fill="#FBB515"/>
<path d="M531 335.2L534 341L527.9 341Z" fill="#FBB515"/>
<path d="M545.1 335.2L548.2 341L542 341Z" fill="#FBB515"/>
<path d="M559.3 335.2L562.4 341L556.2 341Z" fill="#FBB515"/>
<path d="M573.5 335.2L576.6 341L570.4 341Z" fill="#FBB515"/>
<path d="M587.6 335.2L590.7 341L584.5 341Z" fill="#FBB515"/>
<path d="M601.8 335.2L604.9 341L598.7 341Z" fill="#FBB515"/>
<path d="M616 335.2L619.1 341L612.9 341Z" fill="#FBB515"/>
<path d="M516.8 333.6L519.9 327.9L513.7 327.9Z" fill="#60D360"/>
<path d="M531 333.6L534 327.9L527.9 327.9Z" fill="#60D360"/>
<path d="M545.1 333.6L548.2 327.9L542 327.9Z" fill="#60D360"/>
<path d="M559.3 333.6L562.4 327.9L556.2 327.9Z" fill="#60D360"/>
<path d="M573.5 333.6L576.6 327.9L570.4 327.9Z" fill="#60D360"/>
<path d="M587.6 333.6L590.7 327.9L584.5 327.9Z" fill="#60D360"/>
<path d="M601.8 333.6L604.9 327.9L598.7 327.9Z" fill="#60D360"/>
<path d="M616 333.6L619.1 327.9L612.9 327.9Z" fill="#60D360"/>
<path d="M516.8 313.1L520.3 316.6L516.8 320.1L513.3 316.6Z" fill="#5660A8"/>
<path d="M531 311.2L534.5 314.7L531 318.2L527.5 314.7Z" fill="#5660A8"/>
<path d="M545.1 312.2L548.6 315.7L545.1 319.2L541.6 315.7Z" fill="#5660A8"/>
<path d="M559.3 312.8L562.8 316.3L559.3 319.8L555.8 316.3Z" fill="#5660A8"/>
<path d="M573.5 312.6L577 316.1L573.5 319.6L570 316.1Z" fill="#5660A8"/>
<path d="M587.6 312.8L591.1 316.3L587.6 319.8L584.1 316.3Z" fill="#5660A8"/>
<path d="M601.8 312.8L605.3 316.3L601.8 319.8L598.3 316.3Z" fill="#5660A8"/>
<path d="M616 312.8L619.5 316.3L616 319.8L612.5 316.3Z" fill="#5660A8"/>
<path d="M513.3 301.2L519.3 298L519.3 304.4Z" fill="#8E9296"/>
<path d="M527.5 301.2L533.5 298L533.5 304.4Z" fill="#8E9296"/>
<path d="M541.6 301.2L547.6 298L547.6 304.4Z" fill="#8E9296"/>
<path d="M555.8 301.2L561.8 298L561.8 304.4Z" fill="#8E9296"/>
<path d="M570 301.2L576 298L576 304.4Z" fill="#8E9296"/>
<path d="M584.1 301.2L590.1 298L590.1 304.4Z" fill="#8E9296"/>
<path d="M598.3 301.2L604.3 298L604.3 304.4Z" fill="#8E9296"/>
<path d="M612.5 301.2L618.5 298L618.5 304.4Z" fill="#8E9296"/>
<path d="M520.4 287.2L514.7 283.9L514.7 290.5Z" fill="#F8646A"/>
<path d="M534.6 287.2L528.9 283.9L528.9 290.5Z" fill="#F8646A"/>
<path d="M548.8 287.2L543.1 283.9L543.1 290.5Z" fill="#F8646A"/>
<path d="M562.9 287.2L557.2 283.9L557.2 290.5Z" fill="#F8646A"/>
<path d="M577.1 287.2L571.4 283.9L571.4 290.5Z" fill="#F8646A"/>
<path d="M591.3 287.2L585.6 283.9L585.6 290.5Z" fill="#F8646A"/>
<path d="M605.5 287.2L599.8 283.9L599.8 290.5Z" fill="#F8646A"/>
<path d="M619.6 287.2L613.9 283.9L613.9 290.5Z" fill="#F8646A"/>
<rect x="626.30" y="231.80" width="57.40" height="73.20" fill="#fff" stroke="#555" stroke-width="0.8"/>
<path d="M627.7 238H645.9" stroke="#E2400F" stroke-width="0.6" opacity="0.65"/>
<rect x="634.35" y="235.55" width="4.90" height="4.90" fill="#E2400F"/>
<text x="648.70" y="240.85" class="lg">25.00 μM</text>
<path d="M627.7 248.5H645.9" stroke="#1F6CA3" stroke-width="0.6" opacity="0.65"/>
<circle cx="636.80" cy="248.50" r="2.75" fill="#1F6CA3"/>
<text x="648.70" y="251.35" class="lg">21.87 μM</text>
<path d="M627.7 258.6H645.9" stroke="#FBB515" stroke-width="0.6" opacity="0.65"/>
<path d="M636.8 255.3L639.9 261.1L633.7 261.1Z" fill="#FBB515"/>
<text x="648.70" y="261.45" class="lg">18.75 μM</text>
<path d="M627.7 268.8H645.9" stroke="#60D360" stroke-width="0.6" opacity="0.65"/>
<path d="M636.8 272.2L639.9 266.4L633.7 266.4Z" fill="#60D360"/>
<text x="648.70" y="271.65" class="lg">15.62 μM</text>
<path d="M627.7 278.9H645.9" stroke="#5660A8" stroke-width="0.6" opacity="0.65"/>
<path d="M636.8 275.4L640.3 278.9L636.8 282.4L633.3 278.9Z" fill="#5660A8"/>
<text x="648.70" y="281.75" class="lg">12.50 μM</text>
<path d="M627.7 289.2H645.9" stroke="#8E9296" stroke-width="0.6" opacity="0.65"/>
<path d="M633.3 289.2L639.3 286L639.3 292.4Z" fill="#8E9296"/>
<text x="648.70" y="292.05" class="lg">09.37 μM</text>
<path d="M627.7 299.4H645.9" stroke="#F8646A" stroke-width="0.6" opacity="0.65"/>
<path d="M640.5 299.4L634.8 296.1L634.8 302.7Z" fill="#F8646A"/>
<text x="648.70" y="302.25" class="lg">06.25 μM</text>
</svg></body></html>
